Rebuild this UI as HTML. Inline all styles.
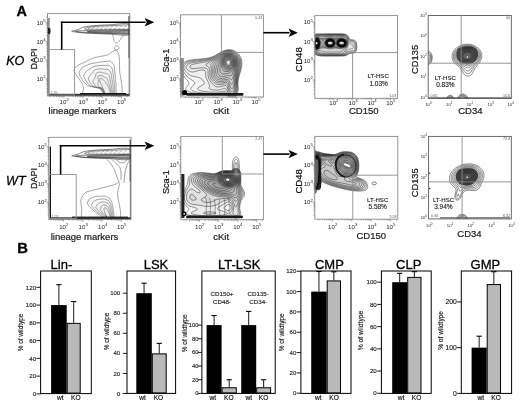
<!DOCTYPE html><html><head><meta charset="utf-8"><style>html,body{margin:0;padding:0;background:#fff;}svg{display:block;font-family:"Liberation Sans", sans-serif;filter:blur(0.3px);}</style></head><body>
<svg width="520" height="405" viewBox="0 0 520 405">
<rect x="0" y="0" width="520" height="405" fill="#fff"/>
<defs>
<clipPath id="c1"><rect x="47.5" y="13.6" width="82.3" height="82.4"/></clipPath>
<clipPath id="c2"><rect x="180.6" y="14.8" width="82.8" height="82.2"/></clipPath>
<clipPath id="c3"><rect x="314.8" y="15.6" width="82.7" height="82.7"/></clipPath>
<clipPath id="c4"><rect x="428.2" y="15.5" width="83.1" height="82.9"/></clipPath>
<clipPath id="c5"><rect x="48.8" y="137.3" width="82.2" height="82.2"/></clipPath>
<clipPath id="c6"><rect x="180.8" y="136.5" width="82.6" height="83.2"/></clipPath>
<clipPath id="c7"><rect x="314.8" y="136.4" width="83" height="82.8"/></clipPath>
<clipPath id="c8"><rect x="428.6" y="136.4" width="82.7" height="82.5"/></clipPath>
</defs>
<g clip-path="url(#c1)">
<rect x="47.5" y="18" width="2.2" height="78" fill="#8a8a8a" stroke="none" stroke-width="1"/>
<rect x="128.4" y="16" width="1.6" height="42" fill="#444" stroke="none" stroke-width="1"/>
<rect x="128.6" y="58" width="1.2" height="38" fill="#888" stroke="none" stroke-width="1"/>
<path d="M71.7 31.3C71.7 30.87 75.95 30.32 78 29.6C80.05 28.88 81.17 27.67 84 27C86.83 26.33 90.67 25.97 95 25.6C99.33 25.23 104.25 25.03 110 24.8C115.75 24.57 126.25 22.58 129.5 24.2C132.75 25.82 132.75 32.85 129.5 34.5C126.25 36.15 115.75 34.27 110 34.1C104.25 33.93 99.33 33.7 95 33.5C90.67 33.3 86.83 33.12 84 32.9C81.17 32.68 80.05 32.47 78 32.2C75.95 31.93 71.7 31.73 71.7 31.3Z" fill="none" stroke="#333" stroke-width="0.6"/>
<path d="M84.5 28.8C84.5 28.33 87.42 27.45 90 27C92.58 26.55 95.83 26.35 100 26.1C104.17 25.85 110.08 25.67 115 25.5C119.92 25.33 127.08 24.42 129.5 25.1C131.92 25.78 131.92 28.85 129.5 29.6C127.08 30.35 119.92 29.58 115 29.6C110.08 29.62 104.17 29.67 100 29.7C95.83 29.73 92.58 29.95 90 29.8C87.42 29.65 84.5 29.27 84.5 28.8Z" fill="none" stroke="#333" stroke-width="0.55"/>
<path d="M88 28.6C88 28.38 92.17 27.68 95 27.4C97.83 27.12 101.17 27.03 105 26.9C108.83 26.77 113.92 26.68 118 26.6C122.08 26.52 127.58 26.07 129.5 26.4C131.42 26.73 131.42 28.25 129.5 28.6C127.58 28.95 122.08 28.5 118 28.5C113.92 28.5 108.83 28.57 105 28.6C101.17 28.63 97.83 28.7 95 28.7C92.17 28.7 88 28.82 88 28.6Z" fill="none" stroke="#555" stroke-width="0.4" stroke-dasharray="3 1.5"/>
<path d="M75.5 31.4C75.5 31.05 80.92 30.78 85 30.6C89.08 30.42 95 30.38 100 30.3C105 30.22 110.08 30.17 115 30.1C119.92 30.03 127.08 29.27 129.5 29.9C131.92 30.53 131.92 33.28 129.5 33.9C127.08 34.52 119.92 33.72 115 33.6C110.08 33.48 105 33.35 100 33.2C95 33.05 89.08 33 85 32.7C80.92 32.4 75.5 31.75 75.5 31.4Z" fill="#000" stroke="#222" stroke-width="0.55" fill-opacity="0.08"/>
<path d="M88 31.6C89.67 31.42 95.5 31.3 100 31.2C104.5 31.1 110.08 31.05 115 31C119.92 30.95 127.08 30.53 129.5 30.9C131.92 31.27 131.92 32.85 129.5 33.2C127.08 33.55 119.92 33.08 115 33C110.08 32.92 104.17 32.82 100 32.7C95.83 32.58 92 32.48 90 32.3C88 32.12 86.33 31.78 88 31.6Z" fill="#000" stroke="#111" stroke-width="0.5" fill-opacity="0.3"/>
<path d="M84.8 98C78.8 96.38 84.15 90.88 83.6 88.3C83.05 85.72 83.05 85.3 81.5 82.5C79.95 79.7 75.13 74.17 74.3 71.5C73.47 68.83 74.95 67.98 76.5 66.5C78.05 65.02 80.48 64.1 83.6 62.6C86.72 61.1 91.33 58.73 95.2 57.5C99.07 56.27 104.08 56.07 106.8 55.2C109.52 54.33 109.97 53.13 111.5 52.3C113.03 51.47 114.75 49.62 116 50.2C117.25 50.78 118.4 52.5 119 55.8C119.6 59.1 119.5 62.97 119.6 70C119.7 77.03 125.4 93.33 119.6 98C113.8 102.67 90.8 99.62 84.8 98Z" fill="none" stroke="#5a5a5a" stroke-width="0.55"/>
<g fill="#000" fill-opacity="0.01" stroke="#5a5a5a" stroke-width="0.55">
<path d="M116.05 88C116.05 88.28 116.06 88.56 116.06 88.84C116.07 89.13 116.07 89.41 116.08 89.7C116.08 89.99 116.09 90.27 116.09 90.57C116.1 90.87 116.1 91.16 116.11 91.47C116.11 91.78 116.12 92.09 116.12 92.41C116.13 92.73 116.13 93.06 116.14 93.41C116.15 93.75 116.15 94.1 116.16 94.46C116.16 94.83 116.17 95.21 116.18 95.61C116.18 96.01 116.44 96.63 116.2 96.86C115.96 97.09 115.21 96.98 114.73 97C114.25 97.02 113.76 97 113.32 97C112.88 97 112.49 97 112.1 97C111.72 97 111.37 97 111.03 97C110.69 97 110.38 97 110.07 97C109.76 97 109.48 97 109.2 97C108.92 97 108.65 97 108.39 97C108.13 97 107.88 97 107.64 97C107.39 97 107.16 97 106.92 97C106.69 97 106.47 97.04 106.24 97C106.01 96.96 105.79 96.99 105.55 96.77C105.31 96.54 105.02 95.98 104.8 95.65C104.59 95.32 104.41 95.05 104.24 94.79C104.07 94.54 103.92 94.32 103.79 94.11C103.65 93.91 103.53 93.73 103.42 93.55C103.3 93.38 103.2 93.23 103.1 93.08C103.01 92.94 102.92 92.8 102.83 92.68C102.75 92.55 102.67 92.43 102.6 92.32C102.52 92.21 102.45 92.1 102.38 92C102.32 91.9 102.25 91.8 102.19 91.71C102.13 91.61 102.07 91.53 102.01 91.44C101.96 91.35 101.9 91.27 101.85 91.19C101.8 91.11 101.74 91.03 101.69 90.95C101.64 90.88 101.59 90.8 101.54 90.73C101.49 90.65 101.45 90.58 101.4 90.51C101.35 90.44 101.31 90.37 101.26 90.3C101.21 90.23 101.17 90.16 101.12 90.09C101.08 90.02 101.03 89.95 100.98 89.88C100.94 89.82 100.89 89.75 100.85 89.68C100.8 89.61 100.75 89.54 100.71 89.47C100.66 89.4 100.61 89.32 100.56 89.25C100.52 89.18 100.47 89.1 100.42 89.03C100.37 88.95 100.31 88.87 100.26 88.79C100.21 88.71 100.21 88.63 100.1 88.55C99.98 88.47 99.9 88.4 99.56 88.31C99.22 88.22 98.82 88.16 98.05 88C97.28 87.84 96.64 87.74 94.97 87.37C93.3 86.99 89.47 86.28 88.02 85.75C86.56 85.23 86.93 84.81 86.26 84.23C85.59 83.65 84.65 82.95 84 82.26C83.34 81.58 82.79 80.85 82.3 80.1C81.82 79.36 81.52 78.64 81.06 77.79C80.61 76.94 79.9 75.91 79.57 75.01C79.24 74.12 78.97 73.15 79.07 72.42C79.16 71.69 79.77 71.24 80.12 70.65C80.47 70.06 80.79 69.43 81.19 68.86C81.59 68.29 81.97 67.68 82.52 67.26C83.07 66.83 83.84 66.63 84.48 66.33C85.13 66.02 85.75 65.73 86.37 65.43C86.99 65.14 87.58 64.83 88.2 64.57C88.81 64.31 89.43 64.05 90.07 63.87C90.71 63.7 91.4 63.62 92.05 63.5C92.7 63.38 93.33 63.26 93.96 63.14C94.58 63.02 95.2 62.91 95.81 62.79C96.42 62.68 97.02 62.56 97.63 62.45C98.23 62.33 98.83 62.2 99.43 62.11C100.04 62.01 100.65 61.95 101.25 61.88C101.86 61.81 102.47 61.76 103.08 61.7C103.69 61.64 104.3 61.59 104.92 61.53C105.54 61.47 106.17 61.41 106.8 61.35C107.44 61.28 108.09 61.17 108.73 61.16C109.38 61.15 110.09 60.99 110.66 61.29C111.23 61.58 111.67 62.41 112.14 62.94C112.62 63.47 113.16 63.78 113.51 64.46C113.86 65.13 114.07 66.13 114.24 67C114.42 67.87 114.47 68.87 114.57 69.69C114.67 70.51 114.76 71.23 114.84 71.92C114.92 72.62 115 73.24 115.06 73.85C115.11 74.46 115.15 75.03 115.2 75.56C115.25 76.1 115.29 76.59 115.33 77.06C115.37 77.53 115.4 77.97 115.44 78.4C115.48 78.83 115.51 79.23 115.54 79.61C115.58 80 115.61 80.37 115.64 80.73C115.67 81.09 115.7 81.43 115.73 81.77C115.75 82.1 115.78 82.42 115.81 82.74C115.84 83.06 115.86 83.37 115.89 83.67C115.91 83.98 115.94 84.27 115.96 84.57C115.98 84.87 116 85.16 116.01 85.45C116.02 85.74 116.02 86.03 116.02 86.31C116.03 86.6 116.03 86.88 116.04 87.16C116.04 87.44 116.05 87.72 116.05 88Z"/>
<path d="M114.6 88C114.61 88.25 114.62 88.49 114.63 88.74C114.64 88.99 114.65 89.24 114.66 89.5C114.68 89.75 114.69 90.01 114.7 90.27C114.71 90.54 114.72 90.8 114.74 91.08C114.75 91.35 114.76 91.63 114.78 91.92C114.79 92.21 114.8 92.51 114.82 92.82C114.84 93.13 114.85 93.44 114.87 93.78C114.89 94.11 114.9 94.46 114.92 94.83C114.94 95.19 115.16 95.74 114.99 95.98C114.81 96.22 114.23 96.19 113.86 96.28C113.5 96.36 113.13 96.42 112.81 96.51C112.48 96.59 112.22 96.72 111.92 96.8C111.63 96.88 111.34 96.97 111.03 97C110.72 97.03 110.38 97 110.07 97C109.76 97 109.48 97 109.2 97C108.92 97 108.65 97 108.39 97C108.13 97 107.88 97 107.64 97C107.39 97 107.17 97.05 106.92 97C106.68 96.95 106.42 96.84 106.16 96.68C105.91 96.52 105.66 96.33 105.42 96.03C105.18 95.73 104.93 95.22 104.72 94.9C104.52 94.57 104.36 94.31 104.21 94.07C104.06 93.82 103.93 93.62 103.81 93.42C103.69 93.23 103.58 93.06 103.48 92.9C103.38 92.74 103.3 92.6 103.21 92.47C103.13 92.34 103.05 92.22 102.98 92.1C102.9 91.98 102.84 91.88 102.77 91.78C102.71 91.67 102.65 91.58 102.59 91.49C102.53 91.4 102.48 91.31 102.42 91.23C102.37 91.15 102.32 91.07 102.27 90.99C102.22 90.91 102.18 90.84 102.13 90.77C102.09 90.7 102.04 90.63 102 90.56C101.96 90.49 101.91 90.43 101.87 90.36C101.83 90.3 101.79 90.24 101.75 90.17C101.71 90.11 101.67 90.05 101.63 89.99C101.59 89.93 101.55 89.87 101.51 89.81C101.48 89.75 101.44 89.69 101.4 89.63C101.36 89.57 101.32 89.51 101.28 89.44C101.24 89.38 101.21 89.32 101.17 89.26C101.13 89.2 101.09 89.14 101.05 89.08C101 89.01 100.96 88.95 100.92 88.88C100.88 88.82 100.84 88.75 100.79 88.68C100.75 88.61 100.75 88.54 100.66 88.47C100.56 88.4 100.5 88.34 100.22 88.26C99.95 88.19 99.62 88.13 99 88C98.39 87.87 97.88 87.78 96.53 87.48C95.19 87.17 92.13 86.59 90.96 86.17C89.8 85.74 90.09 85.4 89.55 84.93C89.01 84.46 88.26 83.89 87.73 83.33C87.2 82.78 86.76 82.19 86.37 81.58C85.97 80.98 85.73 80.39 85.36 79.7C84.99 79.01 84.43 78.18 84.16 77.45C83.88 76.72 83.67 75.93 83.74 75.34C83.8 74.74 84.28 74.37 84.56 73.88C84.84 73.38 85.08 72.86 85.39 72.39C85.7 71.91 86 71.4 86.42 71.03C86.85 70.66 87.45 70.46 87.95 70.17C88.44 69.88 88.92 69.6 89.37 69.28C89.83 68.96 90.26 68.62 90.69 68.26C91.12 67.91 91.48 67.42 91.97 67.16C92.45 66.89 93.06 66.83 93.6 66.67C94.14 66.51 94.66 66.34 95.2 66.21C95.74 66.09 96.29 66.03 96.83 65.93C97.37 65.84 97.9 65.74 98.43 65.66C98.96 65.58 99.49 65.5 100.03 65.46C100.56 65.43 101.1 65.44 101.63 65.43C102.16 65.42 102.68 65.42 103.21 65.41C103.74 65.4 104.26 65.39 104.79 65.37C105.32 65.36 105.85 65.34 106.38 65.32C106.92 65.3 107.47 65.24 108.01 65.26C108.55 65.29 109.14 65.2 109.62 65.47C110.09 65.74 110.46 66.43 110.86 66.88C111.26 67.33 111.71 67.61 112.01 68.18C112.3 68.75 112.48 69.56 112.64 70.28C112.8 71.01 112.85 71.83 112.95 72.5C113.04 73.18 113.13 73.78 113.2 74.35C113.28 74.93 113.35 75.45 113.41 75.96C113.47 76.46 113.51 76.93 113.56 77.38C113.61 77.83 113.65 78.24 113.7 78.63C113.74 79.03 113.78 79.4 113.82 79.76C113.86 80.12 113.9 80.45 113.94 80.78C113.97 81.11 114.01 81.42 114.05 81.72C114.08 82.03 114.11 82.32 114.15 82.6C114.18 82.89 114.21 83.17 114.25 83.44C114.28 83.71 114.31 83.97 114.34 84.24C114.38 84.5 114.41 84.75 114.44 85.01C114.47 85.26 114.49 85.51 114.51 85.77C114.52 86.02 114.53 86.27 114.54 86.52C114.55 86.77 114.56 87.01 114.57 87.26C114.58 87.51 114.59 87.75 114.6 88Z"/>
<path d="M113.15 88C113.17 88.21 113.18 88.43 113.2 88.64C113.22 88.86 113.23 89.08 113.25 89.3C113.27 89.52 113.29 89.75 113.31 89.98C113.33 90.21 113.34 90.44 113.37 90.69C113.39 90.93 113.41 91.17 113.43 91.43C113.45 91.69 113.48 91.95 113.5 92.23C113.52 92.51 113.55 92.79 113.58 93.09C113.61 93.4 113.64 93.71 113.67 94.04C113.7 94.38 113.89 94.85 113.77 95.1C113.66 95.35 113.25 95.4 113 95.55C112.75 95.7 112.5 95.84 112.29 96.01C112.08 96.18 111.95 96.43 111.74 96.6C111.53 96.76 111.31 96.93 111.03 97C110.75 97.07 110.38 97 110.07 97C109.76 97 109.48 97 109.2 97C108.92 97 108.65 97 108.39 97C108.13 97 107.88 97 107.64 97C107.39 97 107.18 97.11 106.92 97C106.67 96.89 106.36 96.64 106.08 96.36C105.81 96.07 105.53 95.66 105.29 95.29C105.05 94.92 104.83 94.47 104.65 94.14C104.46 93.82 104.32 93.57 104.19 93.34C104.05 93.1 103.94 92.91 103.83 92.73C103.73 92.55 103.64 92.4 103.55 92.25C103.47 92.11 103.39 91.98 103.32 91.86C103.25 91.74 103.18 91.63 103.12 91.52C103.06 91.42 103 91.33 102.95 91.23C102.89 91.14 102.84 91.06 102.8 90.98C102.75 90.9 102.7 90.82 102.66 90.75C102.61 90.68 102.57 90.61 102.53 90.54C102.49 90.48 102.45 90.41 102.41 90.35C102.38 90.29 102.34 90.23 102.31 90.17C102.27 90.11 102.23 90.05 102.2 90C102.17 89.94 102.13 89.89 102.1 89.83C102.07 89.78 102.04 89.73 102 89.68C101.97 89.62 101.94 89.57 101.91 89.52C101.88 89.47 101.85 89.42 101.81 89.37C101.78 89.31 101.75 89.26 101.72 89.21C101.69 89.16 101.66 89.11 101.62 89.06C101.59 89.01 101.56 88.95 101.53 88.9C101.49 88.85 101.46 88.79 101.43 88.74C101.39 88.68 101.36 88.63 101.32 88.57C101.29 88.51 101.29 88.45 101.21 88.39C101.14 88.33 101.09 88.28 100.88 88.22C100.67 88.15 100.42 88.11 99.96 88C99.49 87.89 99.11 87.82 98.1 87.59C97.09 87.35 94.78 86.91 93.91 86.58C93.03 86.26 93.25 85.99 92.84 85.63C92.43 85.26 91.86 84.83 91.46 84.4C91.06 83.98 90.73 83.52 90.43 83.06C90.13 82.59 89.94 82.14 89.66 81.61C89.38 81.09 88.95 80.45 88.74 79.89C88.53 79.33 88.36 78.72 88.4 78.25C88.45 77.79 88.8 77.49 89 77.1C89.2 76.71 89.37 76.3 89.59 75.91C89.82 75.53 90.03 75.11 90.33 74.8C90.63 74.48 91.07 74.3 91.41 74.02C91.75 73.74 92.08 73.47 92.38 73.12C92.67 72.78 92.93 72.41 93.18 71.96C93.43 71.51 93.54 70.79 93.86 70.44C94.19 70.09 94.72 70.04 95.14 69.84C95.57 69.65 95.99 69.41 96.44 69.28C96.89 69.16 97.39 69.14 97.85 69.07C98.32 69.01 98.77 68.91 99.23 68.87C99.69 68.83 100.16 68.8 100.62 68.82C101.08 68.84 101.55 68.93 102 68.98C102.45 69.02 102.9 69.07 103.34 69.11C103.78 69.15 104.22 69.19 104.66 69.22C105.09 69.25 105.53 69.27 105.97 69.29C106.4 69.32 106.85 69.31 107.29 69.37C107.72 69.43 108.19 69.41 108.57 69.65C108.96 69.9 109.26 70.45 109.58 70.82C109.9 71.2 110.26 71.44 110.5 71.9C110.75 72.36 110.9 73 111.04 73.57C111.17 74.14 111.23 74.78 111.32 75.32C111.41 75.86 111.49 76.33 111.56 76.79C111.64 77.24 111.71 77.66 111.77 78.06C111.83 78.46 111.87 78.84 111.92 79.2C111.97 79.56 112.02 79.89 112.07 80.21C112.12 80.53 112.16 80.83 112.2 81.12C112.25 81.41 112.29 81.68 112.33 81.95C112.37 82.21 112.41 82.47 112.45 82.72C112.49 82.97 112.53 83.21 112.57 83.44C112.61 83.68 112.65 83.91 112.69 84.13C112.72 84.36 112.76 84.58 112.8 84.8C112.84 85.02 112.88 85.23 112.92 85.44C112.95 85.66 112.99 85.87 113.01 86.08C113.03 86.3 113.04 86.51 113.06 86.73C113.07 86.94 113.09 87.15 113.1 87.36C113.12 87.58 113.13 87.79 113.15 88Z"/>
<path d="M111.7 88C111.72 88.18 111.74 88.36 111.77 88.54C111.79 88.73 111.81 88.91 111.84 89.1C111.86 89.29 111.89 89.48 111.91 89.68C111.94 89.88 111.97 90.08 111.99 90.29C112.02 90.5 112.05 90.72 112.08 90.94C112.11 91.17 112.15 91.4 112.18 91.64C112.21 91.89 112.25 92.14 112.29 92.41C112.33 92.68 112.37 92.96 112.42 93.26C112.46 93.56 112.61 93.96 112.56 94.22C112.52 94.48 112.27 94.61 112.14 94.83C112.01 95.05 111.88 95.25 111.78 95.52C111.69 95.78 111.69 96.15 111.56 96.4C111.44 96.64 111.28 96.9 111.03 97C110.78 97.1 110.38 97 110.07 97C109.76 97 109.48 97 109.2 97C108.92 97 108.65 97 108.39 97C108.13 97 107.88 97 107.64 97C107.39 97 107.2 97.16 106.92 97C106.65 96.84 106.3 96.45 106 96.04C105.71 95.63 105.4 94.99 105.16 94.55C104.92 94.11 104.73 93.72 104.57 93.39C104.4 93.07 104.28 92.84 104.16 92.61C104.04 92.39 103.95 92.21 103.86 92.04C103.77 91.87 103.69 91.73 103.62 91.6C103.55 91.47 103.49 91.35 103.43 91.24C103.37 91.14 103.32 91.04 103.27 90.95C103.21 90.86 103.17 90.77 103.12 90.69C103.08 90.61 103.04 90.54 103 90.47C102.96 90.4 102.93 90.34 102.89 90.27C102.86 90.21 102.82 90.15 102.79 90.09C102.76 90.04 102.73 89.98 102.7 89.93C102.67 89.88 102.64 89.83 102.61 89.78C102.58 89.73 102.56 89.68 102.53 89.63C102.5 89.59 102.48 89.54 102.45 89.5C102.43 89.45 102.4 89.41 102.38 89.36C102.35 89.32 102.33 89.28 102.3 89.23C102.28 89.19 102.25 89.15 102.23 89.11C102.2 89.06 102.18 89.02 102.16 88.98C102.13 88.94 102.11 88.9 102.08 88.85C102.06 88.81 102.03 88.77 102.01 88.72C101.98 88.68 101.96 88.64 101.93 88.59C101.91 88.55 101.88 88.5 101.85 88.46C101.83 88.41 101.82 88.36 101.77 88.31C101.72 88.27 101.68 88.22 101.54 88.17C101.39 88.12 101.22 88.08 100.91 88C100.6 87.92 100.34 87.86 99.66 87.7C98.98 87.53 97.44 87.22 96.85 87C96.27 86.77 96.4 86.58 96.13 86.33C95.85 86.07 95.47 85.77 95.19 85.48C94.92 85.18 94.69 84.86 94.49 84.54C94.28 84.21 94.15 83.9 93.96 83.53C93.76 83.16 93.47 82.72 93.32 82.32C93.18 81.93 93.05 81.51 93.07 81.17C93.09 80.84 93.32 80.62 93.44 80.33C93.56 80.04 93.66 79.73 93.8 79.44C93.93 79.14 94.06 78.83 94.24 78.57C94.41 78.31 94.68 78.13 94.87 77.86C95.06 77.6 95.25 77.34 95.38 76.97C95.52 76.6 95.61 76.19 95.67 75.65C95.73 75.11 95.59 74.17 95.76 73.73C95.93 73.29 96.37 73.24 96.69 73.02C97.01 72.79 97.32 72.49 97.68 72.36C98.04 72.22 98.48 72.26 98.87 72.22C99.26 72.17 99.64 72.09 100.03 72.08C100.42 72.07 100.82 72.11 101.21 72.18C101.6 72.25 102 72.42 102.37 72.52C102.75 72.63 103.11 72.73 103.47 72.82C103.83 72.91 104.18 72.99 104.52 73.06C104.87 73.14 105.21 73.2 105.55 73.27C105.89 73.33 106.23 73.38 106.56 73.47C106.89 73.57 107.24 73.62 107.53 73.84C107.82 74.05 108.05 74.47 108.3 74.77C108.54 75.07 108.81 75.27 109 75.62C109.19 75.97 109.32 76.44 109.43 76.86C109.55 77.28 109.61 77.74 109.69 78.14C109.78 78.53 109.85 78.88 109.92 79.22C109.99 79.56 110.06 79.87 110.12 80.17C110.18 80.47 110.23 80.75 110.29 81.02C110.34 81.29 110.39 81.54 110.44 81.78C110.49 82.02 110.54 82.25 110.59 82.47C110.63 82.7 110.68 82.91 110.72 83.11C110.77 83.32 110.82 83.52 110.86 83.71C110.9 83.91 110.95 84.1 110.99 84.28C111.04 84.47 111.08 84.65 111.12 84.83C111.17 85.01 111.21 85.18 111.26 85.36C111.3 85.53 111.35 85.71 111.39 85.88C111.43 86.05 111.48 86.23 111.51 86.4C111.54 86.58 111.55 86.76 111.57 86.94C111.59 87.11 111.61 87.29 111.64 87.47C111.66 87.64 111.68 87.82 111.7 88Z"/>
<path d="M110.25 88C110.28 88.15 110.31 88.29 110.34 88.44C110.36 88.59 110.39 88.75 110.42 88.9C110.46 89.06 110.49 89.22 110.52 89.39C110.55 89.55 110.59 89.72 110.62 89.9C110.66 90.08 110.7 90.26 110.74 90.45C110.77 90.64 110.82 90.84 110.86 91.05C110.9 91.27 110.95 91.49 111 91.72C111.05 91.96 111.1 92.21 111.16 92.47C111.22 92.74 111.33 93.07 111.35 93.34C111.37 93.61 111.29 93.83 111.28 94.11C111.26 94.39 111.25 94.67 111.27 95.02C111.29 95.37 111.42 95.87 111.38 96.2C111.34 96.53 111.25 96.87 111.03 97C110.81 97.13 110.38 97 110.07 97C109.76 97 109.48 97 109.2 97C108.92 97 108.65 97 108.39 97C108.13 97 107.88 97 107.64 97C107.39 97 107.21 97.21 106.92 97C106.64 96.79 106.24 96.25 105.92 95.72C105.61 95.19 105.26 94.33 105.03 93.82C104.79 93.3 104.64 92.96 104.49 92.64C104.34 92.32 104.24 92.1 104.14 91.89C104.03 91.67 103.96 91.51 103.88 91.35C103.81 91.2 103.75 91.07 103.69 90.95C103.63 90.83 103.58 90.73 103.54 90.63C103.49 90.54 103.45 90.45 103.41 90.37C103.37 90.29 103.33 90.22 103.3 90.15C103.27 90.08 103.24 90.02 103.21 89.96C103.18 89.9 103.15 89.85 103.12 89.8C103.1 89.74 103.07 89.69 103.05 89.65C103.03 89.6 103 89.55 102.98 89.51C102.96 89.47 102.94 89.43 102.92 89.38C102.9 89.34 102.88 89.31 102.86 89.27C102.84 89.23 102.82 89.19 102.8 89.16C102.78 89.12 102.77 89.09 102.75 89.05C102.73 89.02 102.71 88.98 102.7 88.95C102.68 88.91 102.66 88.88 102.64 88.85C102.63 88.81 102.61 88.78 102.59 88.75C102.58 88.72 102.56 88.68 102.54 88.65C102.52 88.62 102.51 88.58 102.49 88.55C102.47 88.52 102.45 88.48 102.44 88.45C102.42 88.41 102.4 88.38 102.38 88.34C102.36 88.31 102.36 88.27 102.33 88.24C102.29 88.2 102.27 88.17 102.19 88.13C102.12 88.09 102.03 88.05 101.86 88C101.7 87.95 101.57 87.9 101.22 87.81C100.88 87.71 100.1 87.54 99.8 87.41C99.5 87.28 99.56 87.17 99.42 87.03C99.27 86.88 99.07 86.71 98.93 86.55C98.78 86.38 98.66 86.2 98.55 86.02C98.44 85.83 98.36 85.65 98.26 85.44C98.15 85.23 97.99 84.99 97.91 84.76C97.82 84.53 97.75 84.29 97.74 84.09C97.74 83.89 97.84 83.74 97.88 83.55C97.92 83.36 97.95 83.17 98 82.96C98.04 82.76 98.08 82.55 98.14 82.34C98.2 82.13 98.29 81.96 98.33 81.71C98.38 81.45 98.42 81.21 98.39 80.82C98.36 80.42 98.28 79.98 98.16 79.35C98.04 78.71 97.64 77.54 97.66 77.01C97.67 76.48 98.03 76.45 98.24 76.19C98.45 75.92 98.64 75.57 98.92 75.43C99.2 75.29 99.57 75.38 99.89 75.36C100.21 75.34 100.51 75.26 100.83 75.29C101.15 75.32 101.48 75.41 101.8 75.54C102.12 75.67 102.45 75.91 102.75 76.07C103.05 76.24 103.33 76.38 103.6 76.52C103.87 76.66 104.13 76.79 104.39 76.91C104.64 77.03 104.89 77.13 105.13 77.24C105.37 77.35 105.61 77.45 105.84 77.58C106.06 77.71 106.29 77.83 106.49 78.02C106.69 78.21 106.85 78.49 107.02 78.71C107.19 78.93 107.36 79.1 107.5 79.34C107.63 79.58 107.74 79.88 107.83 80.14C107.93 80.41 107.99 80.7 108.07 80.95C108.14 81.2 108.22 81.43 108.28 81.65C108.35 81.87 108.41 82.07 108.48 82.27C108.54 82.47 108.59 82.66 108.65 82.84C108.7 83.02 108.76 83.19 108.81 83.35C108.86 83.52 108.92 83.68 108.97 83.83C109.02 83.99 109.07 84.14 109.12 84.28C109.17 84.43 109.22 84.57 109.27 84.71C109.32 84.85 109.37 84.98 109.42 85.12C109.46 85.26 109.51 85.39 109.56 85.52C109.61 85.66 109.66 85.79 109.71 85.92C109.76 86.05 109.82 86.18 109.87 86.32C109.92 86.45 109.97 86.58 110.01 86.72C110.05 86.86 110.06 87 110.09 87.14C110.12 87.29 110.14 87.43 110.17 87.57C110.2 87.71 110.22 87.85 110.25 88Z"/>
<path d="M108.8 88C108.83 88.11 108.87 88.23 108.9 88.34C108.94 88.46 108.97 88.58 109.01 88.7C109.05 88.83 109.09 88.96 109.13 89.09C109.17 89.22 109.21 89.36 109.25 89.51C109.3 89.65 109.34 89.8 109.39 89.96C109.44 90.12 109.49 90.29 109.54 90.47C109.59 90.65 109.65 90.83 109.71 91.04C109.77 91.24 109.84 91.45 109.91 91.69C109.98 91.93 110.05 92.18 110.14 92.46C110.22 92.74 110.31 93.04 110.41 93.38C110.52 93.73 110.63 94.09 110.76 94.53C110.89 94.96 111.15 95.58 111.2 95.99C111.24 96.41 111.22 96.83 111.03 97C110.84 97.17 110.38 97 110.07 97C109.76 97 109.48 97 109.2 97C108.92 97 108.65 97 108.39 97C108.13 97 107.88 97 107.64 97C107.39 97 107.22 97.27 106.92 97C106.63 96.73 106.18 96.05 105.84 95.4C105.51 94.74 105.13 93.66 104.9 93.08C104.66 92.49 104.54 92.21 104.41 91.89C104.28 91.57 104.19 91.36 104.11 91.16C104.03 90.95 103.97 90.81 103.91 90.66C103.85 90.52 103.8 90.41 103.76 90.3C103.71 90.19 103.68 90.1 103.64 90.02C103.61 89.93 103.58 89.86 103.55 89.79C103.52 89.73 103.5 89.67 103.48 89.61C103.45 89.55 103.43 89.5 103.41 89.45C103.39 89.4 103.37 89.36 103.36 89.32C103.34 89.28 103.32 89.24 103.31 89.2C103.29 89.16 103.28 89.12 103.26 89.09C103.25 89.06 103.24 89.02 103.22 88.99C103.21 88.96 103.2 88.93 103.19 88.9C103.18 88.87 103.16 88.85 103.15 88.82C103.14 88.79 103.13 88.76 103.12 88.74C103.11 88.71 103.1 88.69 103.09 88.66C103.08 88.64 103.07 88.61 103.06 88.59C103.05 88.56 103.04 88.54 103.03 88.52C103.02 88.49 103.01 88.47 103 88.45C102.99 88.42 102.98 88.4 102.97 88.37C102.96 88.35 102.95 88.33 102.94 88.3C102.93 88.28 102.92 88.26 102.91 88.23C102.9 88.21 102.89 88.18 102.88 88.16C102.87 88.13 102.86 88.11 102.85 88.08C102.84 88.05 102.83 88.03 102.82 88C102.81 87.97 102.8 87.94 102.78 87.91C102.77 87.89 102.76 87.86 102.75 87.82C102.73 87.79 102.72 87.76 102.71 87.72C102.69 87.69 102.68 87.65 102.66 87.62C102.65 87.58 102.63 87.54 102.61 87.49C102.59 87.45 102.58 87.41 102.55 87.36C102.53 87.31 102.51 87.26 102.49 87.2C102.47 87.14 102.44 87.08 102.41 87.01C102.38 86.94 102.35 86.86 102.32 86.78C102.28 86.69 102.25 86.6 102.2 86.49C102.16 86.38 102.11 86.27 102.05 86.11C101.98 85.96 101.91 85.8 101.8 85.55C101.69 85.31 101.58 85.08 101.39 84.66C101.2 84.24 100.96 83.77 100.65 83.04C100.35 82.31 99.7 80.91 99.55 80.29C99.41 79.68 99.68 79.66 99.79 79.36C99.89 79.06 99.97 78.64 100.16 78.5C100.35 78.36 100.67 78.5 100.91 78.5C101.16 78.5 101.38 78.43 101.63 78.5C101.88 78.57 102.15 78.71 102.39 78.89C102.64 79.08 102.9 79.4 103.12 79.62C103.34 79.84 103.54 80.04 103.73 80.23C103.92 80.42 104.09 80.59 104.25 80.75C104.42 80.92 104.57 81.06 104.71 81.21C104.86 81.37 104.99 81.52 105.11 81.68C105.24 81.84 105.34 82.04 105.45 82.2C105.55 82.36 105.64 82.51 105.74 82.66C105.83 82.8 105.91 82.93 105.99 83.06C106.08 83.19 106.15 83.31 106.23 83.43C106.3 83.55 106.37 83.66 106.44 83.77C106.51 83.88 106.58 83.98 106.64 84.08C106.71 84.18 106.77 84.28 106.83 84.38C106.89 84.47 106.95 84.57 107.01 84.66C107.07 84.75 107.12 84.84 107.18 84.93C107.24 85.02 107.29 85.1 107.35 85.19C107.4 85.28 107.46 85.36 107.51 85.45C107.57 85.53 107.62 85.62 107.68 85.7C107.73 85.79 107.78 85.87 107.84 85.96C107.89 86.05 107.95 86.13 108 86.22C108.06 86.31 108.11 86.39 108.17 86.48C108.23 86.57 108.29 86.66 108.34 86.75C108.4 86.85 108.47 86.94 108.51 87.04C108.56 87.14 108.57 87.25 108.61 87.35C108.64 87.46 108.67 87.56 108.7 87.67C108.73 87.78 108.77 87.89 108.8 88Z"/>
</g>
<ellipse cx="49" cy="31" rx="1.6" ry="3.2" fill="#222"/>
<path d="M112.5 34C112.67 34.67 113.17 36.75 113.5 38C113.83 39.25 113.83 40.7 114.5 41.5C115.17 42.3 116.45 43.22 117.5 42.8C118.55 42.38 119.88 40.13 120.8 39C121.72 37.87 122.38 36.83 123 36C123.62 35.17 124.25 34.33 124.5 34" fill="none" stroke="#555" stroke-width="0.5"/>
<path d="M118.9 47.8C118.9 48.21 118.73 48.7 118.46 49.03C118.2 49.37 117.74 49.67 117.31 49.8C116.88 49.92 116.32 49.92 115.89 49.8C115.46 49.67 115 49.37 114.74 49.03C114.47 48.7 114.3 48.21 114.3 47.8C114.3 47.39 114.47 46.9 114.74 46.57C115 46.23 115.46 45.93 115.89 45.8C116.32 45.68 116.88 45.68 117.31 45.8C117.74 45.93 118.2 46.23 118.46 46.57C118.73 46.9 118.9 47.39 118.9 47.8Z" fill="none" stroke="#555" stroke-width="0.5"/>
<rect x="80" y="93" width="46" height="2.8" fill="#111" stroke="none" stroke-width="1"/>
<rect x="49.5" y="93.8" width="80.3" height="2.2" fill="#333" stroke="none" stroke-width="1"/>
</g>
<g clip-path="url(#c5)">
<rect x="49.7" y="146.6" width="1.3" height="72.9" fill="#111" stroke="none" stroke-width="1"/>
<rect x="129.6" y="139.6" width="1.6" height="42" fill="#444" stroke="none" stroke-width="1"/>
<rect x="129.8" y="181.6" width="1.2" height="37.9" fill="#888" stroke="none" stroke-width="1"/>
<path d="M71.7 155.9C71.7 155.47 75.95 154.92 78 154.2C80.05 153.48 81.17 152.27 84 151.6C86.83 150.93 90.67 150.57 95 150.2C99.33 149.83 104.25 149.63 110 149.4C115.75 149.17 126.25 147.18 129.5 148.8C132.75 150.42 132.75 157.45 129.5 159.1C126.25 160.75 115.75 158.87 110 158.7C104.25 158.53 99.33 158.3 95 158.1C90.67 157.9 86.83 157.72 84 157.5C81.17 157.28 80.05 157.07 78 156.8C75.95 156.53 71.7 156.33 71.7 155.9Z" fill="none" stroke="#333" stroke-width="0.6"/>
<path d="M84.5 153.4C84.5 152.93 87.42 152.05 90 151.6C92.58 151.15 95.83 150.95 100 150.7C104.17 150.45 110.08 150.27 115 150.1C119.92 149.93 127.08 149.02 129.5 149.7C131.92 150.38 131.92 153.45 129.5 154.2C127.08 154.95 119.92 154.18 115 154.2C110.08 154.22 104.17 154.27 100 154.3C95.83 154.33 92.58 154.55 90 154.4C87.42 154.25 84.5 153.87 84.5 153.4Z" fill="none" stroke="#333" stroke-width="0.55"/>
<path d="M88 153.2C88 152.98 92.17 152.28 95 152C97.83 151.72 101.17 151.63 105 151.5C108.83 151.37 113.92 151.28 118 151.2C122.08 151.12 127.58 150.67 129.5 151C131.42 151.33 131.42 152.85 129.5 153.2C127.58 153.55 122.08 153.1 118 153.1C113.92 153.1 108.83 153.17 105 153.2C101.17 153.23 97.83 153.3 95 153.3C92.17 153.3 88 153.42 88 153.2Z" fill="none" stroke="#555" stroke-width="0.4" stroke-dasharray="3 1.5"/>
<path d="M75.5 156C75.5 155.65 80.92 155.38 85 155.2C89.08 155.02 95 154.98 100 154.9C105 154.82 110.08 154.77 115 154.7C119.92 154.63 127.08 153.87 129.5 154.5C131.92 155.13 131.92 157.88 129.5 158.5C127.08 159.12 119.92 158.32 115 158.2C110.08 158.08 105 157.95 100 157.8C95 157.65 89.08 157.6 85 157.3C80.92 157 75.5 156.35 75.5 156Z" fill="#000" stroke="#222" stroke-width="0.55" fill-opacity="0.08"/>
<path d="M88 156.2C89.67 156.02 95.5 155.9 100 155.8C104.5 155.7 110.08 155.65 115 155.6C119.92 155.55 127.08 155.13 129.5 155.5C131.92 155.87 131.92 157.45 129.5 157.8C127.08 158.15 119.92 157.68 115 157.6C110.08 157.52 104.17 157.42 100 157.3C95.83 157.18 92 157.08 90 156.9C88 156.72 86.33 156.38 88 156.2Z" fill="#000" stroke="#111" stroke-width="0.5" fill-opacity="0.3"/>
<path d="M85.3 221C79.13 218.67 82.32 210.57 81.6 207C80.88 203.43 80.38 201.97 81 199.6C81.62 197.23 83.05 194.43 85.3 192.8C87.55 191.17 90.9 190.82 94.5 189.8C98.1 188.78 103.4 187.63 106.9 186.7C110.4 185.77 113.55 184.93 115.5 184.2C117.45 183.47 117.95 182.25 118.6 182.3C119.25 182.35 119.57 182.43 119.4 184.5C119.23 186.57 117.73 188.62 117.6 194.7C117.47 200.78 123.98 216.62 118.6 221C113.22 225.38 91.47 223.33 85.3 221Z" fill="none" stroke="#5a5a5a" stroke-width="0.55"/>
<g fill="#000" fill-opacity="0.01" stroke="#5a5a5a" stroke-width="0.55">
<path d="M113.66 212C113.67 212.18 113.69 212.36 113.7 212.54C113.72 212.72 113.73 212.9 113.75 213.09C113.76 213.28 113.78 213.46 113.79 213.66C113.81 213.85 113.82 214.05 113.84 214.25C113.86 214.45 113.87 214.66 113.89 214.87C113.91 215.09 113.92 215.31 113.94 215.54C113.96 215.77 113.98 216 114 216.25C114.02 216.5 114.04 216.76 114.06 217.04C114.09 217.31 114.11 217.6 114.13 217.91C114.16 218.22 114.19 218.54 114.21 218.89C114.24 219.24 114.45 219.82 114.28 220C114.12 220.18 113.54 220 113.2 220C112.86 220 112.55 220 112.25 220C111.95 220 111.67 220 111.4 220C111.12 220 110.87 220 110.62 220C110.37 220 110.13 220 109.9 220C109.67 220 109.45 220 109.23 220C109.02 220 108.81 220 108.6 220C108.39 220 108.19 220 107.99 220C107.8 220 107.6 220.01 107.41 220C107.22 219.99 107.03 220.03 106.84 219.96C106.65 219.89 106.45 219.69 106.26 219.57C106.08 219.45 105.91 219.34 105.75 219.23C105.58 219.11 105.43 219.01 105.27 218.91C105.12 218.8 104.98 218.71 104.83 218.61C104.69 218.52 104.56 218.42 104.42 218.33C104.29 218.24 104.16 218.16 104.03 218.07C103.9 217.98 103.77 217.9 103.65 217.82C103.53 217.73 103.4 217.65 103.28 217.57C103.16 217.49 103.04 217.41 102.92 217.33C102.81 217.25 102.69 217.17 102.57 217.09C102.45 217.01 102.33 216.93 102.21 216.85C102.09 216.77 101.97 216.69 101.85 216.61C101.73 216.53 101.61 216.44 101.49 216.36C101.36 216.28 101.24 216.19 101.11 216.11C100.98 216.02 100.85 215.93 100.71 215.84C100.58 215.75 100.44 215.66 100.3 215.56C100.16 215.47 100.01 215.37 99.86 215.27C99.71 215.16 99.55 215.06 99.38 214.95C99.22 214.83 99.05 214.72 98.86 214.6C98.68 214.47 98.49 214.35 98.29 214.21C98.09 214.07 97.87 213.93 97.64 213.78C97.41 213.62 97.17 213.46 96.9 213.28C96.63 213.1 96.35 212.91 96.04 212.7C95.72 212.48 95.32 212.25 95 212C94.68 211.75 94.43 211.47 94.1 211.17C93.77 210.86 93.43 210.54 93.03 210.18C92.64 209.81 92.22 209.42 91.72 208.97C91.23 208.51 90.56 207.97 90.07 207.43C89.57 206.89 89.18 206.34 88.73 205.71C88.28 205.09 87.57 204.29 87.38 203.71C87.18 203.12 87.45 202.68 87.58 202.21C87.72 201.73 87.98 201.32 88.18 200.86C88.38 200.41 88.48 199.88 88.78 199.49C89.08 199.11 89.54 198.82 89.98 198.56C90.41 198.29 90.94 198.12 91.41 197.91C91.87 197.7 92.32 197.49 92.76 197.29C93.2 197.09 93.59 196.85 94.05 196.7C94.51 196.56 95.02 196.5 95.5 196.44C95.99 196.38 96.49 196.38 96.96 196.35C97.44 196.32 97.89 196.29 98.33 196.27C98.77 196.24 99.19 196.22 99.61 196.19C100.03 196.16 100.44 196.14 100.84 196.12C101.24 196.09 101.63 196.07 102.02 196.04C102.41 196.02 102.79 196 103.17 195.97C103.56 195.95 103.93 195.85 104.31 195.91C104.69 195.97 105.08 196.19 105.45 196.33C105.82 196.48 106.18 196.63 106.53 196.78C106.88 196.92 107.22 197.06 107.56 197.2C107.89 197.34 108.22 197.47 108.54 197.6C108.86 197.74 109.22 197.74 109.49 198C109.76 198.26 109.96 198.8 110.17 199.17C110.38 199.53 110.58 199.87 110.77 200.2C110.95 200.53 111.13 200.84 111.3 201.13C111.47 201.43 111.67 201.65 111.79 201.98C111.91 202.3 111.95 202.72 112.03 203.07C112.1 203.41 112.17 203.72 112.23 204.03C112.29 204.33 112.35 204.61 112.41 204.88C112.47 205.15 112.52 205.4 112.58 205.65C112.63 205.9 112.68 206.13 112.73 206.36C112.77 206.58 112.82 206.8 112.87 207.01C112.91 207.22 112.95 207.43 113 207.63C113.04 207.83 113.08 208.02 113.12 208.21C113.16 208.41 113.2 208.59 113.24 208.78C113.28 208.96 113.32 209.14 113.36 209.32C113.39 209.5 113.44 209.68 113.47 209.86C113.5 210.04 113.51 210.22 113.53 210.4C113.55 210.58 113.56 210.76 113.57 210.94C113.59 211.11 113.6 211.29 113.62 211.47C113.63 211.64 113.65 211.82 113.66 212Z"/>
<path d="M112.41 212C112.43 212.15 112.45 212.3 112.46 212.45C112.48 212.6 112.5 212.76 112.51 212.92C112.53 213.07 112.55 213.23 112.57 213.4C112.59 213.56 112.6 213.73 112.62 213.9C112.64 214.07 112.66 214.25 112.69 214.43C112.71 214.62 112.73 214.81 112.75 215.01C112.77 215.2 112.8 215.41 112.82 215.63C112.85 215.85 112.88 216.07 112.91 216.32C112.93 216.56 112.97 216.81 113 217.09C113.03 217.36 113.07 217.65 113.11 217.97C113.15 218.28 113.33 218.77 113.23 218.98C113.13 219.19 112.72 219.13 112.5 219.22C112.28 219.32 112.09 219.43 111.91 219.56C111.72 219.69 111.61 219.93 111.4 220C111.18 220.07 110.87 220 110.62 220C110.37 220 110.13 220 109.9 220C109.67 220 109.45 220 109.23 220C109.02 220 108.83 220.08 108.6 220C108.37 219.92 108.09 219.64 107.87 219.5C107.65 219.36 107.45 219.25 107.26 219.16C107.07 219.06 106.9 219.03 106.73 218.92C106.55 218.81 106.38 218.62 106.23 218.49C106.07 218.35 105.93 218.23 105.79 218.12C105.65 218.01 105.52 217.9 105.39 217.8C105.26 217.7 105.14 217.6 105.03 217.51C104.91 217.42 104.8 217.33 104.69 217.25C104.58 217.17 104.48 217.09 104.37 217.01C104.27 216.93 104.17 216.85 104.07 216.78C103.97 216.7 103.87 216.63 103.78 216.56C103.68 216.48 103.59 216.41 103.49 216.34C103.4 216.27 103.3 216.2 103.21 216.14C103.12 216.07 103.02 216 102.93 215.93C102.84 215.86 102.74 215.79 102.65 215.72C102.55 215.65 102.46 215.58 102.36 215.51C102.27 215.44 102.17 215.37 102.07 215.3C101.97 215.22 101.87 215.15 101.77 215.07C101.66 215 101.56 214.92 101.45 214.84C101.34 214.76 101.23 214.68 101.11 214.6C101 214.51 100.88 214.43 100.75 214.34C100.62 214.25 100.49 214.15 100.35 214.05C100.22 213.96 100.07 213.85 99.92 213.74C99.76 213.63 99.6 213.52 99.43 213.4C99.25 213.27 99.07 213.14 98.86 213C98.66 212.86 98.45 212.71 98.21 212.54C97.97 212.38 97.67 212.2 97.42 212C97.18 211.8 96.99 211.59 96.74 211.35C96.5 211.12 96.23 210.87 95.93 210.59C95.63 210.3 95.32 210 94.94 209.65C94.57 209.3 94.07 208.89 93.69 208.47C93.32 208.05 93.02 207.63 92.68 207.15C92.34 206.68 91.8 206.06 91.66 205.61C91.51 205.16 91.7 204.82 91.8 204.45C91.9 204.08 92.09 203.75 92.23 203.4C92.38 203.04 92.45 202.62 92.67 202.32C92.89 202.01 93.23 201.77 93.55 201.55C93.87 201.33 94.26 201.18 94.6 200.99C94.94 200.8 95.26 200.62 95.58 200.43C95.9 200.24 96.17 200 96.51 199.85C96.85 199.71 97.23 199.62 97.6 199.54C97.97 199.47 98.36 199.45 98.73 199.4C99.09 199.35 99.44 199.31 99.78 199.26C100.13 199.21 100.46 199.15 100.79 199.11C101.12 199.07 101.46 199.04 101.78 199.02C102.11 199 102.44 199 102.75 198.98C103.07 198.97 103.39 198.96 103.7 198.95C104.01 198.93 104.31 198.86 104.62 198.91C104.93 198.96 105.25 199.12 105.55 199.24C105.86 199.36 106.15 199.5 106.43 199.63C106.72 199.76 106.99 199.9 107.26 200.03C107.53 200.16 107.79 200.28 108.05 200.4C108.3 200.52 108.59 200.54 108.8 200.76C109.02 200.97 109.18 201.39 109.35 201.69C109.52 201.98 109.68 202.25 109.83 202.51C109.99 202.77 110.13 203.02 110.27 203.25C110.4 203.49 110.56 203.67 110.66 203.93C110.76 204.18 110.8 204.52 110.87 204.78C110.93 205.05 110.99 205.3 111.05 205.54C111.1 205.78 111.16 206 111.21 206.22C111.26 206.43 111.31 206.63 111.35 206.83C111.4 207.03 111.45 207.21 111.49 207.39C111.54 207.57 111.58 207.75 111.62 207.92C111.66 208.09 111.7 208.25 111.74 208.41C111.78 208.57 111.82 208.73 111.86 208.89C111.9 209.04 111.93 209.19 111.97 209.34C112.01 209.49 112.05 209.64 112.08 209.79C112.12 209.93 112.16 210.08 112.2 210.22C112.23 210.37 112.25 210.52 112.27 210.67C112.29 210.82 112.3 210.96 112.32 211.11C112.33 211.26 112.35 211.41 112.37 211.55C112.38 211.7 112.4 211.85 112.41 212Z"/>
<path d="M111.17 212C111.19 212.12 111.2 212.24 111.22 212.37C111.24 212.49 111.26 212.61 111.28 212.74C111.3 212.87 111.32 213 111.34 213.14C111.36 213.27 111.39 213.41 111.41 213.55C111.43 213.69 111.46 213.84 111.48 213.99C111.51 214.15 111.53 214.31 111.56 214.48C111.59 214.64 111.62 214.82 111.65 215C111.68 215.19 111.71 215.38 111.75 215.59C111.78 215.8 111.82 216.02 111.87 216.26C111.91 216.5 111.96 216.76 112.01 217.04C112.06 217.32 112.21 217.73 112.17 217.96C112.14 218.19 111.9 218.25 111.8 218.44C111.7 218.64 111.63 218.86 111.57 219.12C111.5 219.38 111.55 219.85 111.4 220C111.24 220.15 110.87 220 110.62 220C110.37 220 110.13 220 109.9 220C109.67 220 109.45 220 109.23 220C109.02 220 108.85 220.17 108.6 220C108.35 219.83 107.99 219.27 107.74 218.99C107.5 218.71 107.3 218.5 107.11 218.32C106.93 218.13 106.77 218.03 106.62 217.88C106.46 217.72 106.32 217.54 106.19 217.4C106.06 217.26 105.94 217.13 105.82 217.01C105.71 216.9 105.61 216.79 105.51 216.69C105.41 216.59 105.31 216.5 105.22 216.41C105.13 216.33 105.04 216.25 104.96 216.17C104.88 216.09 104.8 216.02 104.72 215.94C104.64 215.87 104.56 215.8 104.49 215.74C104.42 215.67 104.34 215.61 104.27 215.54C104.2 215.48 104.13 215.42 104.06 215.36C103.99 215.3 103.92 215.24 103.85 215.18C103.78 215.12 103.72 215.07 103.65 215.01C103.58 214.95 103.51 214.9 103.44 214.84C103.38 214.78 103.31 214.72 103.24 214.67C103.17 214.61 103.1 214.55 103.03 214.49C102.97 214.43 102.9 214.37 102.82 214.31C102.75 214.25 102.68 214.19 102.6 214.12C102.53 214.06 102.45 214 102.37 213.93C102.29 213.87 102.2 213.8 102.12 213.73C102.03 213.66 101.94 213.59 101.85 213.51C101.75 213.44 101.65 213.36 101.55 213.28C101.44 213.19 101.33 213.11 101.21 213.02C101.09 212.93 100.97 212.83 100.83 212.73C100.69 212.62 100.54 212.51 100.38 212.39C100.22 212.27 100.02 212.14 99.85 212C99.68 211.86 99.56 211.71 99.39 211.54C99.22 211.37 99.04 211.19 98.84 210.99C98.63 210.79 98.42 210.58 98.17 210.34C97.91 210.09 97.58 209.8 97.32 209.51C97.07 209.22 96.87 208.92 96.64 208.59C96.41 208.26 96.04 207.84 95.94 207.52C95.83 207.2 95.96 206.96 96.02 206.69C96.08 206.43 96.2 206.19 96.29 205.93C96.38 205.67 96.42 205.37 96.56 205.14C96.7 204.91 96.92 204.73 97.12 204.55C97.32 204.37 97.57 204.23 97.79 204.07C98 203.91 98.21 203.74 98.4 203.56C98.6 203.39 98.76 203.16 98.97 203C99.18 202.85 99.44 202.73 99.69 202.64C99.94 202.55 100.23 202.52 100.49 202.45C100.75 202.38 101 202.32 101.24 202.25C101.49 202.17 101.72 202.08 101.97 202.02C102.22 201.97 102.47 201.94 102.73 201.93C102.98 201.91 103.24 201.93 103.49 201.92C103.74 201.92 103.98 201.92 104.22 201.92C104.46 201.92 104.7 201.87 104.94 201.91C105.18 201.95 105.42 202.06 105.66 202.15C105.89 202.25 106.11 202.36 106.33 202.48C106.55 202.6 106.76 202.74 106.96 202.86C107.16 202.98 107.36 203.09 107.55 203.2C107.74 203.31 107.95 203.35 108.12 203.52C108.28 203.68 108.4 203.99 108.53 204.21C108.66 204.43 108.78 204.63 108.9 204.82C109.02 205.02 109.12 205.2 109.23 205.38C109.34 205.55 109.45 205.69 109.53 205.88C109.61 206.07 109.65 206.31 109.71 206.5C109.76 206.7 109.81 206.88 109.86 207.06C109.91 207.23 109.96 207.4 110 207.55C110.05 207.71 110.09 207.86 110.13 208.01C110.18 208.15 110.22 208.29 110.26 208.43C110.3 208.56 110.33 208.69 110.37 208.82C110.41 208.95 110.45 209.07 110.49 209.2C110.52 209.32 110.56 209.44 110.6 209.56C110.63 209.67 110.67 209.79 110.7 209.91C110.74 210.02 110.78 210.13 110.81 210.25C110.85 210.36 110.89 210.47 110.92 210.59C110.95 210.7 110.98 210.82 111.01 210.94C111.03 211.05 111.04 211.17 111.06 211.29C111.08 211.41 111.1 211.52 111.11 211.64C111.13 211.76 111.15 211.88 111.17 212Z"/>
<path d="M109.92 212C109.94 212.09 109.96 212.18 109.98 212.28C110.01 212.37 110.03 212.47 110.05 212.57C110.07 212.67 110.09 212.77 110.12 212.88C110.14 212.98 110.17 213.09 110.19 213.2C110.22 213.32 110.25 213.43 110.28 213.56C110.3 213.68 110.33 213.81 110.37 213.94C110.4 214.08 110.43 214.22 110.47 214.38C110.51 214.53 110.55 214.69 110.59 214.87C110.63 215.05 110.68 215.23 110.73 215.44C110.79 215.65 110.84 215.87 110.9 216.12C110.97 216.37 111.08 216.68 111.12 216.94C111.15 217.2 111.08 217.38 111.1 217.67C111.12 217.96 111.17 218.3 111.22 218.69C111.27 219.08 111.5 219.78 111.4 220C111.3 220.22 110.87 220 110.62 220C110.37 220 110.13 220 109.9 220C109.67 220 109.45 220 109.23 220C109.02 220 108.87 220.25 108.6 220C108.33 219.75 107.89 218.91 107.62 218.49C107.35 218.07 107.15 217.75 106.97 217.48C106.78 217.2 106.64 217.03 106.51 216.84C106.37 216.64 106.26 216.47 106.15 216.31C106.04 216.16 105.95 216.03 105.86 215.91C105.78 215.79 105.7 215.68 105.62 215.59C105.55 215.49 105.48 215.4 105.42 215.32C105.35 215.23 105.29 215.16 105.23 215.08C105.17 215.01 105.12 214.95 105.06 214.88C105.01 214.82 104.96 214.76 104.91 214.7C104.86 214.64 104.81 214.58 104.77 214.53C104.72 214.48 104.67 214.43 104.63 214.38C104.58 214.33 104.54 214.28 104.5 214.23C104.45 214.18 104.41 214.14 104.37 214.09C104.32 214.04 104.28 214 104.24 213.95C104.2 213.91 104.16 213.87 104.12 213.82C104.08 213.77 104.04 213.73 104 213.68C103.96 213.63 103.92 213.59 103.88 213.54C103.84 213.5 103.8 213.45 103.75 213.4C103.71 213.36 103.67 213.31 103.62 213.26C103.58 213.22 103.53 213.17 103.49 213.12C103.44 213.07 103.39 213.02 103.34 212.97C103.29 212.92 103.23 212.87 103.17 212.81C103.12 212.76 103.06 212.7 102.99 212.64C102.93 212.58 102.86 212.52 102.79 212.45C102.72 212.38 102.64 212.32 102.55 212.24C102.47 212.17 102.36 212.09 102.28 212C102.19 211.91 102.12 211.82 102.03 211.72C101.94 211.62 101.85 211.52 101.74 211.4C101.63 211.28 101.52 211.16 101.39 211.02C101.26 210.88 101.08 210.72 100.95 210.55C100.82 210.39 100.71 210.22 100.59 210.03C100.47 209.84 100.28 209.61 100.22 209.43C100.16 209.24 100.21 209.1 100.24 208.94C100.26 208.78 100.31 208.63 100.34 208.47C100.38 208.3 100.39 208.12 100.45 207.97C100.51 207.81 100.6 207.68 100.69 207.55C100.78 207.41 100.89 207.29 100.98 207.15C101.07 207.01 101.15 206.87 101.23 206.7C101.3 206.53 101.34 206.31 101.43 206.15C101.52 205.99 101.64 205.85 101.78 205.74C101.92 205.63 102.09 205.58 102.25 205.5C102.4 205.42 102.55 205.33 102.7 205.23C102.85 205.14 102.99 205.01 103.15 204.94C103.31 204.87 103.49 204.85 103.67 204.83C103.85 204.82 104.04 204.85 104.22 204.86C104.4 204.87 104.57 204.88 104.75 204.89C104.92 204.9 105.09 204.89 105.26 204.92C105.42 204.94 105.59 204.99 105.76 205.06C105.92 205.13 106.08 205.23 106.23 205.33C106.38 205.44 106.53 205.57 106.66 205.68C106.8 205.79 106.93 205.9 107.06 205.99C107.19 206.09 107.32 206.15 107.43 206.28C107.54 206.4 107.62 206.59 107.71 206.73C107.8 206.87 107.89 207.01 107.97 207.13C108.05 207.26 108.12 207.38 108.19 207.5C108.27 207.62 108.35 207.71 108.4 207.84C108.46 207.96 108.5 208.1 108.55 208.22C108.59 208.35 108.64 208.46 108.68 208.57C108.72 208.69 108.76 208.79 108.8 208.89C108.84 209 108.87 209.09 108.91 209.19C108.95 209.28 108.99 209.37 109.02 209.46C109.06 209.55 109.09 209.64 109.13 209.73C109.16 209.81 109.2 209.9 109.23 209.98C109.26 210.06 109.3 210.15 109.33 210.23C109.37 210.31 109.4 210.39 109.44 210.47C109.47 210.55 109.5 210.63 109.54 210.71C109.57 210.79 109.61 210.87 109.65 210.95C109.68 211.04 109.72 211.12 109.74 211.2C109.77 211.29 109.79 211.38 109.81 211.47C109.83 211.55 109.84 211.64 109.86 211.73C109.88 211.82 109.9 211.91 109.92 212Z"/>
<path d="M108.68 212C108.7 212.06 108.72 212.13 108.74 212.19C108.77 212.26 108.79 212.33 108.82 212.4C108.84 212.47 108.87 212.54 108.89 212.62C108.92 212.69 108.95 212.77 108.98 212.85C109.01 212.94 109.04 213.02 109.07 213.12C109.1 213.21 109.14 213.31 109.18 213.41C109.21 213.52 109.25 213.63 109.29 213.75C109.34 213.87 109.38 214 109.43 214.15C109.48 214.29 109.54 214.44 109.6 214.62C109.66 214.79 109.73 214.97 109.8 215.19C109.88 215.41 109.96 215.64 110.06 215.92C110.16 216.2 110.27 216.5 110.4 216.89C110.54 217.28 110.72 217.73 110.88 218.25C111.05 218.77 111.44 219.71 111.4 220C111.35 220.29 110.87 220 110.62 220C110.37 220 110.13 220 109.9 220C109.67 220 109.45 220 109.23 220C109.02 220 108.89 220.34 108.6 220C108.31 219.66 107.79 218.54 107.49 217.98C107.19 217.42 107 217 106.82 216.63C106.64 216.27 106.52 216.03 106.4 215.8C106.28 215.56 106.2 215.39 106.11 215.23C106.03 215.06 105.96 214.93 105.9 214.8C105.84 214.68 105.79 214.58 105.74 214.48C105.69 214.38 105.65 214.3 105.61 214.22C105.57 214.14 105.53 214.07 105.5 214C105.47 213.94 105.44 213.88 105.41 213.82C105.38 213.76 105.35 213.71 105.33 213.66C105.3 213.61 105.28 213.56 105.26 213.52C105.24 213.47 105.22 213.43 105.2 213.39C105.18 213.35 105.16 213.31 105.14 213.28C105.12 213.24 105.1 213.21 105.09 213.17C105.07 213.14 105.05 213.1 105.04 213.07C105.02 213.04 105 213.01 104.99 212.97C104.98 212.94 104.97 212.9 104.96 212.87C104.95 212.84 104.94 212.81 104.93 212.78C104.92 212.74 104.91 212.71 104.91 212.68C104.9 212.65 104.89 212.63 104.88 212.6C104.87 212.57 104.86 212.54 104.85 212.51C104.84 212.48 104.84 212.45 104.83 212.43C104.82 212.4 104.81 212.37 104.8 212.34C104.79 212.32 104.79 212.29 104.78 212.26C104.77 212.23 104.76 212.2 104.75 212.18C104.74 212.15 104.74 212.12 104.73 212.09C104.72 212.06 104.71 212.03 104.7 212C104.69 211.97 104.68 211.94 104.67 211.91C104.66 211.88 104.65 211.84 104.64 211.81C104.63 211.78 104.62 211.74 104.61 211.7C104.6 211.67 104.59 211.63 104.58 211.59C104.57 211.55 104.55 211.51 104.54 211.47C104.53 211.43 104.51 211.38 104.5 211.33C104.49 211.28 104.47 211.23 104.45 211.18C104.44 211.12 104.42 211.06 104.4 211C104.38 210.94 104.36 210.87 104.34 210.79C104.31 210.72 104.29 210.64 104.26 210.54C104.23 210.45 104.21 210.35 104.17 210.23C104.13 210.11 104.1 209.99 104.05 209.83C104 209.68 103.92 209.46 103.89 209.3C103.86 209.13 103.85 208.97 103.87 208.84C103.89 208.72 103.96 208.65 104.01 208.55C104.06 208.45 104.11 208.34 104.16 208.22C104.21 208.11 104.25 207.94 104.33 207.86C104.4 207.78 104.51 207.75 104.62 207.74C104.72 207.73 104.84 207.78 104.95 207.8C105.06 207.82 105.17 207.84 105.27 207.86C105.37 207.88 105.47 207.9 105.57 207.92C105.67 207.94 105.77 207.93 105.86 207.97C105.95 208.02 106.05 208.1 106.13 208.19C106.22 208.28 106.29 208.41 106.37 208.51C106.44 208.61 106.5 208.7 106.57 208.79C106.63 208.88 106.68 208.96 106.74 209.03C106.79 209.11 106.84 209.18 106.89 209.25C106.94 209.32 106.99 209.38 107.03 209.45C107.08 209.51 107.12 209.57 107.16 209.62C107.2 209.68 107.24 209.73 107.28 209.79C107.32 209.84 107.35 209.89 107.39 209.94C107.42 209.99 107.46 210.04 107.49 210.09C107.53 210.14 107.56 210.18 107.59 210.23C107.63 210.28 107.66 210.32 107.69 210.37C107.72 210.41 107.75 210.46 107.79 210.5C107.82 210.55 107.85 210.59 107.88 210.63C107.91 210.68 107.94 210.72 107.98 210.77C108.01 210.81 108.04 210.85 108.07 210.9C108.1 210.94 108.13 210.99 108.17 211.03C108.2 211.08 108.23 211.13 108.27 211.17C108.3 211.22 108.34 211.27 108.37 211.32C108.41 211.37 108.45 211.42 108.48 211.47C108.51 211.53 108.53 211.58 108.55 211.64C108.57 211.7 108.59 211.76 108.61 211.82C108.63 211.88 108.65 211.94 108.68 212Z"/>
</g>
<path d="M107 159.5C107.67 160.25 109.75 162.25 111 164C112.25 165.75 113.5 167.83 114.5 170C115.5 172.17 116.25 175 117 177C117.75 179 118.67 181.17 119 182" fill="none" stroke="#555" stroke-width="0.55"/>
<path d="M112 159.5C112.67 160.17 114.75 162.25 116 163.5C117.25 164.75 118.67 165.58 119.5 167C120.33 168.42 120.75 169.83 121 172C121.25 174.17 121 178.67 121 180" fill="none" stroke="#555" stroke-width="0.55"/>
<path d="M129.5 160C129.17 160.67 128.17 162.33 127.5 164C126.83 165.67 125.98 168 125.5 170C125.02 172 124.85 173.83 124.6 176C124.35 178.17 124.1 181.83 124 183" fill="none" stroke="#555" stroke-width="0.55"/>
<path d="M116 159.5C116.67 160 118.67 162 120 162.5C121.33 163 122.83 162.92 124 162.5C125.17 162.08 126.5 160.42 127 160" fill="none" stroke="#555" stroke-width="0.55"/>
<rect x="72" y="216.6" width="56" height="2.4" fill="#111" stroke="none" stroke-width="1"/>
<rect x="50.8" y="217.3" width="80.2" height="2.2" fill="#333" stroke="none" stroke-width="1"/>
</g>
<g clip-path="url(#c2)">
<g fill="#000" fill-opacity="0.02" stroke="#151515" stroke-width="0.45" stroke-linejoin="round">
<path d="M232.5 100.0L231.3 100.0 230.8 99.7 229.8 98.7 227.0 95.0 226.2 94.3 225.2 93.9 223.8 93.8 218.2 94.3 213.2 94.5 207.2 94.4 201.5 94.0 196.6 93.5 192.5 92.8 189.2 91.8 187.1 90.8 186.1 89.8 185.9 88.5 186.4 87.2 188.5 84.5 188.9 83.5 188.8 82.8 188.0 81.2 185.2 78.2 183.8 76.2 181.0 70.8 180.4 69.0 180.2 67.8 180.5 66.2 181.2 65.0 182.5 63.5 184.2 62.2 186.5 61.1 188.8 60.3 192.2 59.7 205.1 58.5 208.2 58.0 211.1 57.2 214.6 55.8 222.2 51.4 225.8 50.1 228.5 49.6 231.2 49.8 233.5 50.4 235.8 51.6 238.6 54.2 239.9 56.0 240.8 57.5 241.4 59.0 241.8 60.8 241.9 64.2 241.1 69.5 238.8 77.2 238.1 80.5 237.9 83.8 238.4 88.8 238.2 90.8 237.2 93.2 234.8 97.8 233.5 99.4 232.5 100.0Z"/>
<path d="M232.8 98.8L231.8 99.0 230.8 98.5 229.8 97.5 227.0 93.8 226.2 93.2 225.2 92.7 224.0 92.7 219.2 93.2 215.0 93.5 205.0 93.2 200.5 92.7 196.5 92.1 193.6 91.2 191.8 90.3 190.8 89.2 190.8 88.2 191.6 87.0 194.4 84.2 194.8 83.2 194.7 82.5 194.2 81.8 193.3 81.0 187.8 77.2 186.2 75.7 184.8 73.8 182.9 70.8 182.1 68.8 182.0 67.0 182.7 65.2 183.7 64.0 185.4 62.8 187.2 61.8 189.2 61.1 192.5 60.5 206.0 59.0 209.0 58.5 211.5 57.8 215.0 56.2 222.5 51.9 225.8 50.6 228.2 50.2 230.8 50.3 233.0 50.9 235.0 52.0 236.5 53.2 237.8 54.5 239.9 57.5 240.9 60.5 241.2 64.0 240.4 69.2 238.5 76.1 237.7 79.8 237.4 83.0 237.6 88.8 237.3 90.8 236.6 93.0 235.1 96.0 233.9 97.8 232.8 98.8Z"/>
<path d="M232.8 97.5L231.8 97.7 230.5 97.1 229.5 96.0 226.8 92.2 226.0 91.5 225.2 91.1 224.0 91.1 220.5 91.8 217.5 92.1 211.0 92.1 202.8 91.2 199.8 90.5 198.2 89.8 197.7 89.2 197.6 88.8 198.1 87.8 199.5 86.8 202.9 85.0 204.0 84.0 204.3 82.8 203.8 81.5 202.2 79.5 200.0 77.9 198.2 77.3 194.0 76.5 191.8 75.9 189.8 75.0 187.8 73.6 185.5 71.2 184.2 69.0 183.9 68.0 183.8 67.0 184.6 65.2 185.5 64.2 186.9 63.2 188.4 62.5 190.2 61.9 193.2 61.4 206.2 59.8 211.5 58.5 215.4 56.8 223.0 52.3 226.0 51.2 228.2 50.8 230.5 50.9 232.5 51.4 234.5 52.5 237.0 54.8 239.1 57.8 240.2 60.8 240.4 64.2 239.8 68.8 238.0 75.9 237.2 79.9 236.9 83.5 236.9 88.8 236.6 90.8 235.9 93.0 234.9 95.0 233.8 96.7 232.8 97.5Z"/>
<path d="M232.8 96.3L232.2 96.4 231.5 96.4 230.2 95.6 228.7 93.5 226.2 89.2 225.2 88.3 224.2 88.3 220.2 89.8 217.0 90.2 212.8 90.0 210.8 89.5 209.7 89.0 209.2 88.5 209.1 88.0 209.5 85.8 209.3 84.5 206.0 77.5 205.7 75.5 205.7 72.0 205.0 70.8 203.8 70.1 201.5 70.0 199.0 70.4 193.8 71.9 192.2 72.0 190.8 71.8 188.5 70.7 186.8 69.0 186.3 68.2 186.1 67.2 186.6 65.8 187.2 64.9 188.2 64.1 191.2 62.9 206.2 60.6 211.5 59.3 216.4 57.0 223.2 52.8 226.0 51.7 228.2 51.3 230.2 51.4 232.0 51.9 234.0 52.9 236.4 55.0 238.4 58.0 239.4 61.0 239.6 64.2 239.1 68.5 237.5 75.7 236.8 79.5 236.5 83.0 236.3 88.5 236.0 90.5 235.5 92.2 234.7 94.0 233.8 95.4 232.8 96.3Z"/>
<path d="M232.2 95.1L231.8 95.1 231.0 94.8 229.5 93.2 228.1 90.5 226.9 86.8 226.5 86.1 226.0 85.6 224.8 85.5 220.5 86.8 217.8 87.0 216.5 86.7 215.2 86.2 214.0 85.4 212.8 84.2 210.3 81.2 208.7 78.2 208.1 75.5 208.0 70.5 207.5 69.4 206.8 68.6 205.0 68.0 202.5 67.8 199.5 67.9 194.0 68.7 192.0 68.6 190.8 68.2 190.0 67.6 189.7 66.8 190.0 66.0 191.1 65.0 193.0 64.2 206.5 61.7 211.2 60.3 216.1 58.0 223.0 53.6 225.8 52.3 228.0 51.9 230.0 52.0 231.8 52.4 233.8 53.5 235.0 54.5 236.2 55.8 237.8 58.5 238.7 61.2 238.9 64.5 238.4 68.5 236.5 78.5 235.4 90.0 234.8 92.0 234.0 93.5 233.2 94.5 232.2 95.1Z"/>
<path d="M232.0 93.5L231.2 93.4 230.8 93.0 229.8 91.7 228.9 89.8 227.7 85.5 227.2 84.6 226.6 84.0 226.0 83.7 225.2 83.7 221.0 84.7 218.2 84.6 216.8 84.2 215.5 83.6 214.0 82.6 212.8 81.4 211.1 79.2 210.1 76.8 209.8 74.5 209.8 70.0 209.4 68.5 208.5 67.0 206.1 65.2 205.8 64.8 205.9 64.2 207.0 63.5 213.0 60.6 217.7 58.0 223.8 53.7 225.8 52.8 227.8 52.4 229.8 52.5 231.5 52.9 233.0 53.6 234.5 54.8 235.8 56.2 236.9 58.0 237.7 60.0 238.1 62.2 238.0 66.5 236.0 78.1 234.8 89.0 234.4 90.8 233.8 92.1 233.0 93.1 232.0 93.5Z"/>
<path d="M232.2 91.6L231.8 91.6 231.2 91.4 230.2 90.2 229.6 88.8 228.5 84.5 228.0 83.5 227.2 82.7 226.5 82.3 225.8 82.2 222.0 83.0 220.0 83.1 218.2 82.8 216.5 82.2 214.5 80.9 213.0 79.2 211.8 77.0 211.3 74.8 211.3 68.8 210.7 65.2 210.8 64.5 211.1 63.8 212.7 62.2 218.8 58.2 223.2 54.6 225.2 53.5 227.5 52.9 229.2 52.9 231.0 53.3 232.5 54.0 234.0 55.1 235.3 56.5 236.3 58.2 237.1 60.2 237.4 62.0 237.5 64.0 237.4 66.5 235.7 76.2 234.2 87.6 233.5 90.2 233.0 91.0 232.2 91.6Z"/>
<path d="M232.2 88.8L231.5 88.8 231.0 88.2 229.0 83.0 228.4 82.0 227.8 81.3 227.0 80.9 226.0 80.8 222.5 81.5 220.8 81.6 219.0 81.4 217.5 80.9 215.8 79.8 214.3 78.2 213.3 76.5 212.8 74.2 212.7 72.0 212.9 65.8 213.2 64.5 213.8 63.5 215.2 62.0 219.0 59.1 223.5 55.1 225.5 54.0 227.5 53.4 229.0 53.4 230.5 53.7 232.0 54.3 233.5 55.3 234.8 56.8 235.7 58.2 236.4 60.0 236.8 62.0 236.9 64.0 236.8 66.0 235.5 73.2 233.8 84.8 233.1 87.5 232.2 88.8Z"/>
<path d="M232.0 84.4L231.8 84.4 231.2 84.1 229.2 80.8 228.5 79.9 227.8 79.5 226.2 79.3 223.0 80.0 221.0 80.1 219.2 79.8 217.5 79.0 216.2 78.0 215.3 76.8 214.6 75.2 214.2 73.8 214.1 71.2 214.5 67.2 214.9 65.2 215.6 63.8 216.7 62.5 223.2 55.9 225.2 54.6 227.5 53.9 229.0 53.9 230.5 54.2 231.8 54.7 233.0 55.6 234.1 56.8 235.1 58.2 235.9 60.0 236.2 61.5 236.4 64.0 236.1 66.8 233.3 81.2 232.8 83.2 232.0 84.4Z"/>
<path d="M231.5 79.8L230.8 79.5 228.9 78.0 227.8 77.6 226.5 77.6 222.2 78.5 220.8 78.4 219.2 77.9 218.0 77.2 216.9 76.0 216.2 74.5 215.8 73.0 215.7 70.8 216.1 67.8 216.7 65.5 217.6 63.8 221.6 58.5 223.2 56.6 225.2 55.2 227.5 54.4 229.0 54.4 230.2 54.6 231.5 55.2 232.8 56.0 233.9 57.2 234.7 58.5 235.3 60.0 235.7 61.5 235.8 64.2 235.3 67.2 232.8 78.0 232.2 79.2 231.5 79.8Z"/>
<path d="M223.2 76.5L221.8 76.5 220.2 76.1 219.1 75.2 218.2 74.0 217.6 72.5 217.5 70.8 217.7 68.5 218.3 66.2 219.3 63.8 221.2 60.2 222.3 58.5 223.8 56.9 225.2 55.8 226.8 55.1 228.5 54.9 230.2 55.2 231.8 55.9 233.0 57.0 234.1 58.5 234.9 60.2 235.2 62.0 235.3 64.0 235.0 66.0 234.4 68.2 232.2 74.1 231.2 75.6 230.5 75.8 227.5 75.5 223.2 76.5Z"/>
<path d="M224.0 74.0L222.5 74.0 221.4 73.5 220.5 72.6 219.9 71.2 219.8 69.8 219.9 67.8 220.4 64.8 221.1 62.2 222.7 59.0 223.6 57.8 224.8 56.7 226.0 56.0 227.2 55.6 228.8 55.4 230.0 55.7 231.2 56.2 232.5 57.2 233.5 58.5 234.2 60.0 234.6 61.5 234.8 63.2 234.6 65.0 234.1 67.0 232.5 70.5 231.5 71.9 230.8 72.5 229.5 73.0 224.0 74.0Z"/>
<path d="M227.8 71.5L226.0 71.5 224.8 71.3 223.8 70.9 223.0 70.2 222.3 69.2 221.9 67.8 221.6 66.0 221.6 64.2 221.9 62.5 222.3 61.0 223.1 59.5 223.9 58.2 225.0 57.2 226.2 56.5 227.5 56.1 228.8 56.0 230.0 56.3 231.0 56.7 232.0 57.5 232.9 58.5 233.9 60.8 234.2 62.2 234.2 63.8 233.6 66.8 232.9 68.2 232.0 69.5 231.2 70.3 230.2 70.9 229.0 71.3 227.8 71.5Z"/>
<path d="M229.2 70.0L228.0 70.2 226.8 70.1 225.8 69.8 224.7 69.2 223.9 68.5 223.3 67.5 222.8 66.2 222.5 64.8 222.5 63.2 222.8 61.8 223.9 59.2 224.8 58.2 225.8 57.4 226.8 56.9 228.0 56.6 230.0 56.9 231.8 58.0 233.1 60.0 233.7 62.2 233.5 64.8 232.6 67.2 231.0 69.1 229.2 70.0Z"/>
<path d="M228.8 69.0L226.8 68.9 225.0 67.9 224.3 67.0 223.8 66.0 223.3 63.8 223.7 61.2 224.7 59.2 226.2 57.8 227.2 57.4 228.2 57.3 230.0 57.6 231.6 58.8 232.7 60.5 233.1 62.8 232.8 65.0 231.9 67.0 230.5 68.4 228.8 69.0Z"/>
<path d="M228.8 68.0L227.0 67.9 225.5 66.9 224.5 65.5 224.1 63.5 224.3 61.5 225.2 59.8 226.5 58.5 228.2 58.0 229.8 58.3 231.1 59.2 232.1 60.8 232.4 62.5 232.2 64.5 231.5 66.2 230.2 67.4 228.8 68.0Z"/>
<path d="M228.2 67.0L227.0 66.7 225.8 65.8 225.1 64.5 224.9 63.0 225.1 61.5 226.0 60.0 227.2 59.1 228.5 58.8 229.8 59.2 230.8 60.0 231.5 61.4 231.7 63.0 231.4 64.5 230.7 65.8 229.5 66.7 228.2 67.0Z"/>
<path d="M228.5 65.8L227.5 65.6 226.8 65.1 226.2 64.2 225.9 63.0 226.0 62.0 226.5 61.0 227.2 60.3 228.2 59.9 229.2 60.1 230.0 60.7 230.5 61.5 230.8 62.8 230.6 63.8 230.2 64.8 229.5 65.4 228.5 65.8Z"/>
</g>
<ellipse cx="228.4" cy="62.4" rx="1.1" ry="1.3" fill="#fff"/>
<rect x="180.6" y="58" width="3.2" height="37.7" fill="#888" stroke="none" stroke-width="1"/>
<rect x="186" y="93" width="57.5" height="2.7" fill="#1a1a1a" stroke="none" stroke-width="1" rx="1.3"/>
<circle cx="184.6" cy="92.6" r="2.6" fill="#000"/>
</g>
<g clip-path="url(#c6)">
<g fill="#000" fill-opacity="0.04" stroke="#151515" stroke-width="0.45" stroke-linejoin="round">
<path d="M236.2 218.0L234.8 217.9 231.2 216.2 229.5 215.8 215.5 216.7 203.2 216.7 196.6 216.2 191.2 215.7 188.0 215.0 186.6 214.5 185.7 214.0 185.4 213.5 185.5 212.8 188.3 210.2 188.8 209.5 188.8 209.0 188.3 208.0 185.0 204.5 183.7 202.5 182.8 199.8 182.8 196.8 183.2 194.2 184.0 191.8 187.3 184.5 187.7 183.0 188.2 178.2 188.8 176.9 189.6 175.8 190.8 174.7 192.5 173.8 194.5 173.2 197.0 172.8 200.2 172.5 203.8 172.6 212.5 173.6 214.2 173.6 216.0 173.3 220.0 171.6 222.8 170.9 225.2 170.6 229.5 170.7 230.8 170.6 231.8 170.2 234.0 168.8 235.2 168.4 236.2 168.3 237.2 168.5 239.0 169.6 240.2 171.2 240.9 173.5 240.8 183.8 240.9 185.2 241.5 186.7 244.0 191.0 244.5 192.5 244.6 194.0 244.0 196.0 241.2 200.5 240.1 204.0 239.8 206.7 239.7 208.5 240.0 210.2 240.8 213.0 240.7 214.2 240.0 215.5 238.8 216.7 237.5 217.6 236.2 218.0ZM229.5 210.5L230.4 210.0 230.9 209.2 231.1 208.2 231.1 207.2 230.7 206.0 230.0 204.9 229.2 204.4 228.5 204.4 227.2 204.9 225.3 206.2 224.3 207.2 223.9 208.2 224.1 208.8 224.6 209.2 226.0 210.0 228.0 210.6 229.5 210.5Z"/>
<path d="M236.8 216.8L235.5 217.0 234.2 216.6 232.3 215.5 230.0 213.8 229.9 213.2 231.2 211.6 232.0 210.3 232.3 209.0 232.3 207.8 231.8 205.2 231.0 203.1 230.0 202.0 229.0 201.7 227.5 201.9 225.8 202.7 218.8 207.2 217.8 208.0 217.5 208.5 217.8 209.2 218.6 209.8 225.8 212.2 227.7 213.2 227.8 213.5 227.6 213.8 225.9 214.5 222.5 215.1 218.0 215.6 212.5 215.8 206.8 215.8 201.0 215.5 196.5 215.0 192.8 214.2 191.4 213.5 191.2 213.0 191.8 212.2 193.0 211.5 197.0 209.8 197.5 209.2 197.5 209.0 197.1 208.5 196.5 208.2 190.5 206.4 189.0 205.6 187.5 204.5 186.2 203.0 185.2 201.2 184.6 199.5 184.4 197.5 184.7 194.8 185.6 191.8 186.5 189.8 188.8 186.2 189.3 185.0 189.6 183.8 189.7 179.0 190.2 177.5 191.0 176.3 192.2 175.3 193.8 174.5 195.8 173.9 198.2 173.4 201.2 173.2 204.2 173.2 212.5 174.1 214.2 174.2 216.0 173.7 220.2 171.8 222.8 171.2 225.2 170.9 229.8 171.0 231.2 170.9 234.0 169.4 235.2 168.9 237.0 169.0 238.7 170.0 239.9 171.8 240.5 173.8 240.5 181.0 240.3 184.5 240.4 185.8 240.8 187.0 242.9 191.0 243.2 192.2 243.3 193.5 242.8 195.5 240.4 200.2 239.5 203.8 238.9 208.5 239.6 212.8 239.5 214.0 239.0 215.0 238.4 215.8 236.8 216.8Z"/>
<path d="M236.5 215.5L235.5 215.7 234.5 215.4 233.5 214.6 232.9 213.8 232.9 212.5 233.6 209.0 233.3 206.2 232.5 203.4 231.8 201.6 230.9 200.5 229.8 199.9 227.5 199.8 224.4 200.5 222.5 201.3 218.6 203.8 216.2 204.9 213.0 205.9 209.5 206.4 205.0 206.3 198.2 205.0 192.8 204.4 190.5 203.7 188.8 202.5 187.8 201.4 187.0 200.0 186.5 198.5 186.4 196.8 186.6 194.8 187.2 193.0 188.0 191.4 189.0 190.2 190.5 189.2 192.0 189.0 193.5 189.6 196.2 191.8 197.8 192.6 198.8 192.8 199.5 192.8 200.0 192.5 200.2 192.0 199.9 191.0 199.1 190.0 194.2 186.4 193.2 185.3 192.4 184.0 191.7 182.0 191.4 180.0 191.6 178.5 192.5 177.0 193.6 176.0 195.0 175.2 196.8 174.6 199.0 174.2 201.8 173.9 204.8 173.9 214.0 174.7 215.9 174.2 220.2 172.2 223.0 171.4 225.8 171.1 231.2 171.3 232.2 171.0 234.5 169.8 235.8 169.5 237.0 169.7 238.2 170.4 239.4 171.8 239.9 173.5 240.1 180.8 239.7 185.8 240.0 187.0 241.8 191.0 242.1 193.2 241.7 195.2 239.4 200.5 238.5 204.2 237.9 208.8 238.3 212.5 238.2 213.5 237.6 214.8 236.5 215.5ZM213.5 214.0L210.0 214.2 206.3 214.0 203.8 213.5 203.3 213.0 203.9 212.5 205.2 212.1 209.2 211.7 213.5 212.1 215.1 212.5 216.0 213.0 216.1 213.2 215.8 213.5 213.5 214.0Z"/>
<path d="M236.0 207.2L235.5 207.1 235.0 206.4 233.3 201.8 232.5 200.2 231.3 199.0 229.8 198.4 226.2 198.4 218.2 199.0 215.9 199.8 212.2 201.8 209.2 202.5 207.2 202.5 205.2 202.3 203.6 201.8 202.1 201.0 201.2 200.0 201.3 199.2 202.2 198.5 205.8 196.5 206.4 195.8 206.4 194.8 205.7 193.5 204.3 192.0 196.8 185.6 194.7 183.5 193.8 182.0 193.4 180.5 193.5 179.0 194.1 177.8 195.1 176.8 196.5 175.9 198.2 175.3 200.2 174.9 205.2 174.6 214.0 175.3 215.8 174.8 220.5 172.4 223.0 171.7 226.0 171.4 231.5 171.6 232.8 171.3 234.8 170.4 235.8 170.2 236.8 170.3 237.8 170.8 238.9 172.2 239.4 174.0 239.7 180.8 239.1 186.2 239.4 187.5 240.6 190.8 240.9 193.0 240.6 195.0 238.6 200.0 237.0 205.4 236.5 206.6 236.0 207.2ZM193.8 200.3L192.5 200.2 191.5 199.8 190.7 199.2 190.0 198.2 189.8 197.2 189.8 196.0 190.2 195.1 190.9 194.5 192.0 194.4 193.2 195.0 194.8 196.5 196.1 198.2 196.2 199.0 195.9 199.5 194.9 200.0 193.8 200.3Z"/>
<path d="M235.8 201.5L235.0 201.1 232.8 198.4 231.0 197.4 229.2 197.1 221.8 196.9 217.5 196.4 213.0 195.2 209.2 193.3 206.2 191.4 202.5 188.7 199.5 186.2 197.5 184.2 196.3 182.8 195.6 181.2 195.5 179.8 195.9 178.5 196.7 177.5 197.9 176.8 199.5 176.1 201.2 175.7 205.8 175.4 212.5 176.0 214.0 176.0 215.8 175.4 220.2 172.8 223.2 171.9 226.2 171.7 231.8 172.0 233.0 171.8 235.5 171.0 237.0 171.3 237.8 171.9 238.2 172.5 238.8 174.5 239.3 181.0 238.3 186.8 239.6 191.0 239.8 193.0 239.4 195.0 238.2 197.8 236.8 200.7 236.2 201.3 235.8 201.5Z"/>
<path d="M236.0 197.8L235.0 197.8 232.5 196.5 230.8 196.0 223.8 195.8 218.5 195.1 214.2 193.9 210.5 192.4 207.8 190.9 204.8 188.9 202.2 187.0 200.0 185.0 198.7 183.5 197.8 182.0 197.5 180.5 197.8 179.2 198.5 178.2 199.6 177.5 201.0 176.9 202.8 176.5 206.2 176.2 212.8 176.7 214.8 176.5 216.0 175.9 220.0 173.3 221.8 172.6 223.5 172.2 226.8 172.0 232.2 172.5 235.2 172.0 236.5 172.2 237.5 173.0 238.0 174.2 238.7 178.0 238.9 180.5 238.6 182.8 237.4 187.0 237.5 188.1 238.5 191.2 238.5 193.5 238.2 194.8 237.5 196.2 236.8 197.3 236.0 197.8Z"/>
<path d="M235.5 195.0L234.5 195.1 231.2 194.6 225.5 194.8 221.5 194.4 216.8 193.4 212.2 191.9 207.0 189.1 204.6 187.5 202.5 185.8 200.9 184.0 200.0 182.5 199.6 181.2 199.8 180.0 200.2 179.2 201.2 178.4 202.5 177.8 204.0 177.4 207.0 177.2 213.0 177.5 214.8 177.3 216.0 176.7 218.5 174.7 220.0 173.7 222.0 172.9 223.8 172.5 227.5 172.3 236.0 173.2 236.9 174.0 237.5 175.4 238.2 178.2 238.4 180.5 237.9 183.2 236.2 187.5 236.2 188.5 237.0 191.5 236.9 193.0 236.4 194.2 235.5 195.0Z"/>
<path d="M226.2 193.5L222.2 193.4 218.0 192.6 214.0 191.3 209.8 189.4 206.2 187.2 203.5 184.8 202.5 183.5 202.1 182.5 201.9 181.5 202.1 180.5 202.7 179.8 203.4 179.2 205.8 178.5 208.5 178.2 213.2 178.4 214.8 178.2 216.0 177.5 218.2 175.4 219.8 174.3 221.5 173.4 223.5 172.8 225.8 172.6 228.0 172.7 233.8 173.7 235.2 174.1 236.3 175.0 237.2 176.5 237.8 179.0 237.9 181.0 237.7 182.5 237.1 184.0 234.5 188.2 234.0 191.2 233.4 192.0 232.1 192.5 228.8 193.2 226.2 193.5Z"/>
<path d="M226.2 192.0L223.0 192.1 219.2 191.6 215.2 190.5 211.5 189.0 208.2 187.0 205.9 185.0 205.1 184.0 204.6 183.0 204.5 182.0 204.7 181.2 205.8 180.3 207.5 179.7 209.5 179.5 213.5 179.5 215.0 179.2 216.2 178.4 218.3 176.0 219.8 174.8 221.5 173.8 223.5 173.2 226.0 172.9 228.5 173.0 232.2 173.8 234.5 174.6 235.4 175.2 236.1 176.0 237.1 178.2 237.5 180.8 237.3 182.0 236.9 183.2 235.2 185.6 230.1 190.5 228.3 191.5 226.2 192.0Z"/>
<path d="M223.5 190.5L221.0 190.4 218.2 190.0 215.5 189.2 212.7 188.0 210.2 186.5 208.6 185.0 207.8 183.8 207.8 182.5 208.4 181.8 209.6 181.2 214.2 180.8 215.5 180.5 216.5 179.6 218.2 177.0 219.5 175.6 221.2 174.4 223.2 173.6 226.0 173.2 228.8 173.4 232.5 174.4 234.7 175.5 235.5 176.2 236.2 177.2 236.7 178.5 236.9 179.8 236.9 181.0 236.7 182.2 235.6 184.2 234.0 185.9 232.0 187.1 226.5 189.9 225.0 190.3 223.5 190.5Z"/>
<path d="M222.5 188.3L219.2 188.1 216.2 187.3 213.8 186.0 213.0 185.2 212.7 184.5 212.8 184.0 213.2 183.6 215.5 182.9 216.5 182.2 217.0 181.4 218.3 178.0 219.7 176.0 221.2 174.9 222.8 174.2 224.8 173.7 226.8 173.6 229.2 173.9 231.8 174.6 233.5 175.4 234.9 176.5 236.1 178.5 236.4 180.8 235.9 182.8 234.5 184.7 232.5 186.1 229.8 187.1 226.5 187.8 222.5 188.3Z"/>
<path d="M229.0 186.5L226.0 186.7 223.2 186.3 220.8 185.3 219.3 184.0 218.8 183.0 218.5 181.8 218.5 179.2 219.4 177.2 221.0 175.6 222.5 174.7 224.2 174.2 226.0 174.0 228.0 174.0 230.0 174.4 232.0 175.2 233.5 176.0 234.8 177.2 235.6 178.8 235.9 180.2 235.7 181.8 235.2 183.0 234.1 184.2 232.8 185.2 231.0 186.0 229.0 186.5Z"/>
<path d="M229.5 185.8L227.0 186.0 224.5 185.6 222.2 184.7 220.5 183.3 219.6 181.8 219.3 179.8 219.8 177.8 221.0 176.2 222.2 175.4 224.0 174.7 225.8 174.4 227.5 174.4 229.2 174.7 231.2 175.3 232.8 176.1 234.0 177.2 234.9 178.5 235.2 179.8 235.2 181.2 234.8 182.5 234.0 183.6 232.8 184.6 231.2 185.3 229.5 185.8Z"/>
<path d="M229.0 185.3L226.8 185.3 224.5 184.8 222.5 183.9 221.2 182.8 220.3 181.2 220.0 179.5 220.5 177.8 221.8 176.3 223.0 175.5 224.5 175.0 226.0 174.8 227.8 174.8 229.5 175.2 231.2 175.8 232.7 176.8 233.7 177.8 234.4 179.0 234.6 180.2 234.5 181.5 234.0 182.5 233.2 183.5 232.0 184.3 230.5 185.0 229.0 185.3Z"/>
<path d="M229.8 184.5L227.8 184.7 225.5 184.4 223.8 183.8 222.2 182.7 221.2 181.2 220.8 179.8 221.1 178.2 221.9 177.0 223.0 176.2 224.2 175.6 225.8 175.3 227.2 175.3 228.8 175.5 230.2 176.0 231.5 176.6 232.7 177.5 233.4 178.5 233.9 179.5 233.9 180.8 233.7 181.8 233.0 182.8 232.2 183.5 231.0 184.1 229.8 184.5Z"/>
<path d="M229.0 184.0L227.2 184.1 225.5 183.8 223.8 183.0 222.6 182.0 221.8 180.8 221.6 179.5 221.9 178.2 222.8 177.1 223.7 176.5 224.8 176.1 226.0 175.8 227.5 175.8 229.0 176.1 230.2 176.5 231.4 177.2 232.2 178.0 232.8 178.8 233.1 179.8 233.2 180.8 232.8 181.8 232.2 182.5 231.3 183.2 230.2 183.7 229.0 184.0Z"/>
<path d="M229.2 183.3L227.8 183.4 226.2 183.2 224.9 182.8 223.8 182.0 222.9 181.0 222.5 179.8 222.7 178.8 223.3 177.8 224.8 176.8 227.0 176.4 229.2 176.8 231.2 178.0 232.2 179.5 232.3 180.5 232.1 181.2 231.1 182.5 229.2 183.3Z"/>
<path d="M229.0 182.5L227.8 182.6 226.6 182.5 225.5 182.1 224.6 181.5 223.9 180.8 223.6 179.8 223.7 179.0 224.1 178.2 225.2 177.5 227.0 177.1 228.8 177.4 230.3 178.2 231.2 179.5 231.2 180.8 230.5 181.8 229.0 182.5Z"/>
<path d="M228.0 181.5L226.5 181.3 225.5 180.6 225.1 179.8 225.2 179.2 225.5 178.8 226.5 178.3 227.5 178.2 228.5 178.5 229.3 179.0 229.8 179.8 229.7 180.5 229.0 181.2 228.0 181.5Z"/>
</g>
<path d="M205.5 197C205.72 198 206.68 201 206.8 203C206.92 205 206.2 207 206.2 209C206.2 211 206.7 214 206.8 215" fill="none" stroke="#333" stroke-width="0.45"/>
<path d="M209.5 198C209.67 199.17 210.42 202.17 210.5 205C210.58 207.83 210.08 213.33 210 215" fill="none" stroke="#333" stroke-width="0.45"/>
<path d="M214.2 199C214.38 200.17 215.2 203.33 215.3 206C215.4 208.67 214.88 213.5 214.8 215" fill="none" stroke="#333" stroke-width="0.45"/>
<path d="M219.5 199C219.42 200.33 218.95 204.33 219 207C219.05 209.67 219.67 213.67 219.8 215" fill="none" stroke="#333" stroke-width="0.45"/>
<path d="M224.2 199C224.33 200.17 224.95 203.33 225 206C225.05 208.67 224.58 213.5 224.5 215" fill="none" stroke="#333" stroke-width="0.45"/>
<path d="M228.5 197C228.63 198.33 229.22 202 229.3 205C229.38 208 229.05 213.33 229 215" fill="none" stroke="#333" stroke-width="0.45"/>
<ellipse cx="227.8" cy="179.6" rx="1.6" ry="1.2" fill="#fff"/>
<path d="M232.6 173C232.57 171.67 232.3 167.17 232.4 165C232.5 162.83 232.63 161.35 233.2 160C233.77 158.65 234.92 157.07 235.8 156.9C236.68 156.73 237.92 157.65 238.5 159C239.08 160.35 239.13 162.67 239.3 165C239.47 167.33 239.47 171.67 239.5 173" fill="none" stroke="#222" stroke-width="0.5"/>
<path d="M233.7 173C233.68 171.83 233.5 167.92 233.6 166C233.7 164.08 233.92 162.63 234.3 161.5C234.68 160.37 235.35 159.28 235.9 159.2C236.45 159.12 237.22 159.87 237.6 161C237.98 162.13 238.07 164 238.2 166C238.33 168 238.37 171.83 238.4 173" fill="none" stroke="#222" stroke-width="0.5"/>
<path d="M234.8 173C234.8 172.08 234.72 169 234.8 167.5C234.88 166 235.1 164.87 235.3 164C235.5 163.13 235.75 162.3 236 162.3C236.25 162.3 236.6 163.13 236.8 164C237 164.87 237.12 166 237.2 167.5C237.28 169 237.28 172.08 237.3 173" fill="none" stroke="#222" stroke-width="0.5"/>
<rect x="181.2" y="174" width="3.2" height="44" fill="#222" stroke="none" stroke-width="1"/>
<rect x="186" y="215.6" width="57" height="2.6" fill="#1a1a1a" stroke="none" stroke-width="1" rx="1.3"/>
<circle cx="184.2" cy="213.8" r="2.4" fill="#000"/>
<circle cx="184.2" cy="213.8" r="0.9" fill="#fff"/>
</g>
<g clip-path="url(#c3)">
<g fill="#000" fill-opacity="0.02" stroke="#1a1a1a" stroke-width="0.42" stroke-linejoin="round">
<path d="M342.8 56.0L322.0 56.1 318.0 55.6 316.5 55.1 315.5 54.6 313.8 53.0 312.4 51.2 311.4 49.0 310.8 46.8 310.6 44.0 310.8 41.2 311.6 38.5 312.6 36.5 313.5 35.4 314.5 34.5 315.5 34.0 316.8 33.8 320.5 34.0 329.2 33.8 341.8 33.9 344.8 34.2 347.0 35.0 348.1 36.0 349.2 38.3 350.0 39.2 351.0 39.6 354.2 40.0 355.1 40.5 355.8 41.2 356.4 42.5 356.8 44.2 356.8 47.8 356.6 49.8 355.8 51.8 354.5 52.9 353.2 53.2 349.8 53.5 346.2 55.4 344.5 55.8 342.8 56.0Z"/>
<path d="M342.2 55.8L322.2 55.8 318.5 55.4 316.0 54.4 314.2 53.0 312.8 51.2 311.8 49.2 311.1 46.8 310.9 44.0 311.1 41.5 311.6 39.2 312.7 37.0 313.6 35.8 314.8 34.8 315.8 34.4 317.0 34.2 341.5 34.1 344.5 34.4 346.7 35.2 347.8 36.2 349.0 38.8 349.8 39.7 350.8 40.2 354.0 40.6 354.8 41.0 355.5 41.8 356.0 43.0 356.3 44.5 356.3 47.8 356.2 49.5 355.5 51.2 354.2 52.3 353.0 52.6 349.5 53.0 346.0 55.1 344.2 55.5 342.2 55.8Z"/>
<path d="M341.2 55.5L321.8 55.5 318.2 54.9 316.0 53.9 314.2 52.4 312.9 50.8 312.1 49.0 311.4 46.8 311.2 44.2 311.4 41.5 312.0 39.2 312.9 37.2 313.8 36.2 314.8 35.3 315.8 34.8 317.2 34.6 329.2 34.3 341.2 34.4 344.2 34.7 346.3 35.5 347.4 36.5 348.8 39.4 349.5 40.3 350.8 40.9 353.8 41.3 354.5 41.8 355.0 42.3 355.5 43.4 355.7 44.8 355.8 47.8 355.5 49.5 354.8 51.0 353.8 51.7 349.5 52.2 348.5 52.7 346.7 54.2 345.5 54.8 343.5 55.3 341.2 55.5Z"/>
<path d="M342.8 55.0L338.2 55.2 322.8 55.2 319.2 54.7 316.8 53.7 315.0 52.5 313.6 51.0 312.6 49.5 311.8 47.2 311.5 44.8 311.6 42.2 312.1 40.0 312.9 38.0 313.8 36.8 314.8 35.9 316.0 35.2 317.2 35.0 329.0 34.7 340.8 34.7 343.8 35.0 345.8 35.7 347.1 37.0 348.5 40.0 349.5 41.3 350.8 41.9 353.2 42.3 354.3 43.0 354.7 44.0 354.9 45.0 354.9 48.5 354.4 49.8 353.5 50.6 349.0 51.3 348.2 51.8 346.7 53.5 345.8 54.2 344.5 54.7 342.8 55.0Z"/>
<path d="M340.2 54.8L322.2 54.7 319.0 54.1 316.2 52.7 314.8 51.6 313.5 50.2 312.6 48.5 312.1 46.8 311.8 44.5 311.9 42.2 312.4 40.0 313.4 38.0 314.2 36.9 315.2 36.1 316.2 35.7 317.5 35.5 328.8 35.1 340.8 35.1 343.5 35.4 345.5 36.2 346.8 37.5 348.5 41.4 349.5 43.0 350.5 43.8 352.2 44.3 353.0 44.8 353.3 45.8 353.2 47.8 352.9 48.2 352.5 48.6 349.5 49.1 348.5 49.6 347.8 50.5 346.4 52.8 345.0 53.9 343.0 54.5 340.2 54.8Z"/>
<path d="M338.8 54.3L326.0 54.3 322.2 54.1 319.5 53.5 315.8 51.7 314.5 50.7 313.5 49.5 312.8 48.0 312.3 46.0 312.1 44.0 312.3 41.8 312.8 40.0 313.5 38.5 314.3 37.5 315.2 36.7 316.2 36.3 317.2 36.1 320.0 36.1 329.0 35.5 335.5 35.7 340.5 35.6 343.2 35.9 345.0 36.6 346.0 37.5 346.9 39.0 347.9 41.8 348.2 43.5 348.1 45.2 346.2 51.0 345.4 52.5 344.0 53.6 342.0 54.1 338.8 54.3Z"/>
<path d="M338.2 53.5L326.5 53.5 323.0 53.4 321.0 52.9 315.8 51.0 314.8 50.2 313.8 49.0 313.2 47.8 312.7 46.0 312.5 44.2 312.6 42.5 312.9 41.0 313.6 39.2 314.3 38.2 315.2 37.4 316.2 36.9 317.2 36.7 320.5 36.9 329.2 36.1 335.5 36.4 340.5 36.1 342.8 36.4 344.2 36.9 345.0 37.5 345.9 38.5 347.1 41.2 347.4 43.5 346.9 45.8 345.5 48.8 344.7 51.2 344.0 52.2 343.2 52.8 342.0 53.2 338.2 53.5Z"/>
<path d="M339.5 52.0L325.2 52.0 323.0 51.7 320.5 50.3 317.8 50.7 316.0 50.3 315.0 49.7 314.2 48.8 313.7 47.8 313.2 46.2 312.9 43.2 313.2 41.8 313.7 40.2 314.2 39.2 315.0 38.4 316.0 37.7 317.0 37.5 318.2 37.6 321.2 38.7 325.8 37.3 329.0 36.8 331.2 36.8 335.5 37.5 341.0 36.9 342.5 37.1 343.5 37.4 345.0 38.6 346.2 40.5 346.7 42.8 346.5 44.8 345.4 47.0 342.5 50.8 341.2 51.6 339.5 52.0Z"/>
<path d="M331.5 48.8L329.5 49.0 327.5 48.6 325.8 47.5 324.5 46.0 323.7 44.0 323.7 42.0 324.5 40.0 325.8 38.7 327.8 37.9 330.2 37.6 332.2 38.0 335.0 39.2 335.8 39.3 339.0 38.0 341.2 37.7 342.5 37.9 343.5 38.4 344.5 39.2 345.2 40.0 345.9 42.0 345.9 44.2 344.9 46.2 343.2 47.9 341.5 48.6 339.8 48.7 338.5 48.3 336.2 47.0 335.5 46.8 334.8 47.1 332.8 48.3 331.5 48.8ZM318.0 49.5L316.5 49.6 315.8 49.3 315.0 48.8 313.9 47.0 313.4 45.0 313.5 42.8 314.1 40.5 315.2 39.0 316.0 38.6 316.8 38.4 318.0 38.6 319.3 39.5 320.2 41.0 320.7 43.0 320.7 45.2 320.1 47.2 319.2 48.8 318.0 49.5Z"/>
<path d="M331.0 47.3L329.2 47.4 327.5 46.9 326.2 45.9 325.4 44.5 325.1 42.8 325.5 41.0 326.5 39.7 328.0 38.8 329.0 38.6 330.2 38.5 332.2 39.1 333.9 40.5 334.9 42.2 334.9 43.5 334.0 45.2 332.5 46.6 331.0 47.3ZM341.8 47.3L340.0 47.2 338.4 46.5 337.0 45.0 336.2 43.2 336.3 42.0 337.4 40.2 338.8 39.2 340.2 38.7 342.0 38.7 343.5 39.4 344.7 40.8 345.2 42.2 345.2 44.0 344.4 45.5 343.2 46.7 341.8 47.3ZM317.5 48.6L316.2 48.6 315.1 47.8 314.3 46.2 313.9 44.5 314.1 42.5 314.6 41.0 315.5 39.8 316.8 39.3 317.8 39.6 318.8 40.5 319.4 41.8 319.7 43.2 319.6 45.0 319.2 46.8 318.5 47.8 317.5 48.6Z"/>
<path d="M330.2 46.3L329.0 46.2 327.8 45.7 326.8 44.8 326.3 43.5 326.3 42.2 326.9 41.0 328.0 40.0 329.2 39.6 330.8 39.7 332.0 40.2 332.9 41.2 333.4 42.5 333.3 43.8 332.6 45.0 331.5 45.9 330.2 46.3ZM342.2 46.0L341.0 46.2 339.8 45.9 338.8 45.2 337.9 44.0 337.7 42.8 338.1 41.5 338.8 40.5 340.0 39.8 341.2 39.6 342.5 39.9 343.5 40.6 344.2 41.8 344.4 43.0 344.1 44.2 343.5 45.2 342.2 46.0ZM317.2 47.3L316.2 47.4 315.5 46.8 314.9 45.8 314.6 44.5 314.6 43.2 315.0 41.9 315.7 41.0 316.5 40.6 317.2 40.7 318.0 41.3 318.5 42.2 318.8 43.5 318.8 44.8 318.4 46.0 318.0 46.8 317.2 47.3Z"/>
<path d="M330.0 45.0L329.2 44.9 328.5 44.6 327.9 44.0 327.6 43.2 327.6 42.5 328.0 41.7 328.8 41.1 329.5 40.8 330.5 40.9 331.2 41.2 331.8 41.9 332.0 42.8 331.9 43.5 331.5 44.2 330.8 44.8 330.0 45.0ZM342.0 44.8L341.2 44.9 340.5 44.8 339.8 44.4 339.3 43.8 339.1 43.0 339.2 42.2 339.7 41.5 340.2 41.1 341.0 40.9 341.8 40.9 342.5 41.3 343.0 42.0 343.2 42.8 343.2 43.5 342.7 44.2 342.0 44.8ZM316.8 45.6L316.2 45.4 316.0 45.2 315.7 44.2 315.9 43.0 316.5 42.5 317.0 42.6 317.2 42.8 317.6 43.8 317.4 45.0 316.8 45.6Z"/>
</g>
<path d="M315 37.5C316.17 35.62 319.5 38.12 322 38.2C324.5 38.28 327 38.03 330 38C333 37.97 337.25 37.75 340 38C342.75 38.25 345.08 38.58 346.5 39.5C347.92 40.42 348.5 42.17 348.5 43.5C348.5 44.83 347.92 46.65 346.5 47.5C345.08 48.35 342.75 48.45 340 48.6C337.25 48.75 333 48.4 330 48.4C327 48.4 324.5 48.42 322 48.6C319.5 48.78 316.17 51.35 315 49.5C313.83 47.65 313.83 39.38 315 37.5Z" fill="#1a1a1a" fill-opacity="0.45"/>
<ellipse cx="317.4" cy="43.4" rx="2.6" ry="5.8" fill="#0a0a0a"/>
<ellipse cx="316.6" cy="43.2" rx="0.9" ry="1.3" fill="#ddd"/>
<ellipse cx="330.2" cy="43.0" rx="5.0" ry="4.6" fill="#0a0a0a"/>
<ellipse cx="330.2" cy="43.0" rx="2.6" ry="1.6" fill="#b8b8b8"/>
<ellipse cx="330.2" cy="43.0" rx="1.0" ry="0.8" fill="#fff"/>
<ellipse cx="341.6" cy="43.0" rx="5.0" ry="4.6" fill="#0a0a0a"/>
<ellipse cx="341.6" cy="43.0" rx="2.6" ry="1.6" fill="#b8b8b8"/>
<ellipse cx="341.6" cy="43.0" rx="1.0" ry="0.8" fill="#fff"/>
<path d="M320.5 39.5 L325 46.5 M320.5 46.5 L325 39.5" stroke="#cfcfcf" stroke-width="0.8"/>
</g>
<g clip-path="url(#c7)">
<g fill="#000" fill-opacity="0.03" stroke="#1a1a1a" stroke-width="0.45" stroke-linejoin="round">
<path d="M361.8 191.0L358.0 191.1 353.5 190.8 348.8 190.1 343.0 188.8 336.2 187.1 330.8 185.4 326.0 183.6 321.2 181.4 321.0 181.5 320.4 187.5 319.8 189.2 319.2 189.5 318.5 189.7 315.5 189.7 314.5 189.4 313.9 188.5 313.4 186.2 313.0 176.2 312.8 175.0 311.9 173.2 311.7 172.0 312.3 166.8 313.0 163.0 313.0 160.6 312.8 160.2 309.8 158.5 309.3 157.8 309.4 157.0 312.3 154.5 313.8 152.2 314.5 151.7 315.5 151.6 318.8 151.9 322.2 153.0 325.3 153.8 332.5 154.5 334.2 154.6 335.5 154.3 340.2 152.3 342.0 151.9 344.2 151.6 347.5 151.7 349.8 151.9 352.0 152.5 354.0 153.6 355.8 155.0 357.2 157.0 358.1 159.2 358.7 162.0 358.9 166.0 358.7 169.5 358.1 172.0 356.7 175.8 356.7 176.8 357.5 177.5 362.2 179.2 364.8 180.6 365.8 181.5 366.5 182.5 367.5 185.0 367.7 187.5 367.4 188.5 366.9 189.2 366.0 189.9 365.0 190.4 361.8 191.0Z"/>
<path d="M360.5 190.3L356.8 190.4 352.2 190.0 347.8 189.3 341.2 187.8 334.8 186.1 330.0 184.6 325.2 182.6 321.2 180.6 321.0 180.8 320.4 187.2 319.8 189.0 319.2 189.3 318.5 189.5 315.5 189.5 314.5 189.2 314.0 188.6 313.7 187.5 313.3 184.8 312.9 171.8 313.1 160.2 312.8 159.7 311.2 158.9 310.5 158.2 310.2 157.8 310.3 157.0 313.0 154.6 314.2 152.6 315.0 152.3 316.0 152.1 319.0 152.3 321.8 153.2 325.3 154.0 333.2 154.8 335.8 154.6 340.5 152.7 344.2 152.1 347.5 152.1 349.8 152.4 351.8 152.9 353.8 153.9 355.6 155.5 356.9 157.5 357.9 160.0 358.4 162.8 358.5 167.0 358.2 170.0 357.4 172.8 355.9 176.0 355.8 177.0 356.2 177.5 357.0 178.0 361.2 179.4 363.7 180.8 365.4 182.5 366.2 184.5 366.2 186.8 365.9 187.8 365.3 188.5 363.5 189.6 360.5 190.3Z"/>
<path d="M359.0 189.5L355.0 189.6 350.5 189.1 345.5 188.2 338.0 186.4 332.8 184.9 328.5 183.4 324.8 181.7 321.2 179.8 321.0 179.9 320.8 181.8 320.4 187.0 319.8 188.7 319.2 189.1 318.5 189.2 315.5 189.2 314.5 189.0 314.0 188.3 313.7 187.2 313.4 184.2 313.1 172.2 313.2 160.5 313.0 159.4 311.7 158.5 311.1 157.8 311.1 157.2 311.4 156.8 313.0 155.4 314.0 153.6 314.5 153.1 316.5 152.6 319.0 152.7 321.0 153.5 325.3 154.2 333.5 155.1 336.0 155.0 340.8 153.1 344.5 152.5 347.5 152.5 349.8 152.8 351.8 153.4 353.5 154.3 355.4 156.0 356.7 158.0 357.6 160.5 358.0 163.5 358.0 167.5 357.6 170.5 356.8 173.0 354.9 176.5 354.9 177.5 355.8 178.3 360.2 179.7 362.5 180.9 364.2 182.5 364.9 184.2 364.7 186.2 363.8 187.8 361.8 188.9 359.0 189.5Z"/>
<path d="M318.8 189.0L315.8 189.0 314.8 188.9 314.0 188.0 313.6 186.2 313.4 182.8 313.2 172.8 313.3 159.8 313.0 158.7 312.3 158.0 312.1 157.5 312.2 157.0 313.2 155.7 314.2 153.7 314.8 153.4 315.5 153.2 318.8 153.1 320.8 153.8 323.4 154.2 334.8 155.5 336.8 155.2 340.0 153.8 342.0 153.3 344.2 153.0 347.5 153.0 349.8 153.3 351.5 153.9 353.2 154.8 354.8 156.1 356.1 158.0 357.2 160.8 357.6 163.8 357.6 167.5 357.2 170.2 356.6 172.2 355.6 174.2 353.8 176.8 353.5 177.8 353.8 178.2 354.5 178.7 359.8 180.4 361.2 181.1 362.4 182.0 363.2 183.2 363.5 184.5 363.2 185.8 362.4 187.0 361.5 187.6 360.2 188.2 357.0 188.8 352.8 188.7 347.8 187.9 337.0 185.4 331.2 183.7 325.8 181.4 321.2 178.8 321.0 178.9 320.8 180.5 320.6 184.5 320.2 187.5 319.7 188.5 319.2 188.9 318.8 189.0Z"/>
<path d="M318.8 188.8L315.8 188.8 314.8 188.6 314.0 187.8 313.6 186.0 313.3 176.5 313.3 160.2 313.0 157.2 313.9 154.8 314.5 153.9 315.8 153.5 318.8 153.4 319.5 153.6 320.8 154.2 335.0 155.9 337.0 155.6 340.2 154.3 342.0 153.8 344.2 153.5 347.5 153.5 349.8 153.9 351.5 154.4 353.0 155.3 354.4 156.5 355.9 158.8 356.8 161.5 357.1 164.8 357.0 168.8 356.5 171.0 355.7 173.0 354.5 174.8 352.1 177.5 351.8 178.2 352.1 178.8 353.0 179.2 358.2 180.7 360.6 182.0 361.5 183.0 361.8 184.0 361.6 185.2 360.9 186.2 360.0 186.9 358.8 187.4 355.5 187.9 351.5 187.7 347.0 186.9 336.2 184.4 331.0 182.8 326.0 180.7 323.5 179.2 321.2 177.6 321.0 177.6 320.8 179.1 320.5 185.2 320.2 187.0 319.7 188.2 319.2 188.6 318.8 188.8ZM333.6 160.8L333.7 160.5 333.5 160.3 333.2 160.2 332.8 160.5 333.0 160.9 333.6 160.8Z"/>
<path d="M318.8 188.5L315.8 188.6 314.8 188.4 314.1 187.5 313.6 185.5 313.4 176.8 313.3 157.5 313.8 155.2 314.5 154.3 315.8 153.9 319.0 153.8 320.8 154.6 328.2 155.4 335.0 156.5 336.8 156.2 340.2 154.9 342.2 154.3 344.5 154.1 347.5 154.1 349.5 154.4 351.2 154.9 352.8 155.8 354.1 157.0 355.6 159.2 356.4 162.0 356.6 166.5 356.2 170.0 355.4 172.2 354.2 174.2 352.5 175.9 349.4 178.0 349.0 178.8 349.3 179.2 350.2 179.8 356.2 181.2 358.6 182.2 359.4 183.0 359.7 183.8 359.6 184.8 359.0 185.5 357.8 186.2 356.2 186.6 354.2 186.8 352.0 186.7 348.5 186.2 335.8 183.3 331.2 182.0 327.2 180.3 324.0 178.4 321.0 175.9 320.8 177.4 320.2 186.5 319.8 187.9 319.2 188.4 318.8 188.5ZM334.2 162.0L334.8 161.4 335.0 160.5 334.9 159.8 334.5 159.4 333.8 159.2 332.8 159.3 331.7 159.8 331.2 160.2 331.3 161.0 332.2 161.8 333.2 162.2 334.2 162.0ZM321.3 166.0L322.1 165.2 322.3 164.5 321.8 163.2 321.0 162.1 320.9 165.0 321.0 165.9 321.3 166.0Z"/>
<path d="M318.8 188.3L315.8 188.3 314.8 188.1 314.1 187.2 313.7 185.2 313.4 174.5 313.5 158.0 313.8 155.8 314.5 154.6 315.8 154.2 319.0 154.1 320.8 155.1 328.8 155.8 331.2 156.3 333.3 157.0 334.4 157.8 330.6 159.5 330.1 160.0 329.9 160.5 330.2 161.2 331.2 162.3 332.5 163.2 333.5 163.5 334.2 163.3 334.8 163.0 335.8 161.0 335.9 159.5 335.1 157.8 339.2 155.9 341.2 155.1 344.8 154.6 349.0 154.9 351.8 155.9 353.8 157.5 354.6 158.8 355.2 160.0 356.0 163.2 356.0 168.0 355.7 169.8 355.1 171.5 353.8 173.8 352.0 175.3 349.5 176.6 345.2 178.0 344.5 178.5 344.3 179.2 345.0 180.2 346.8 181.1 348.8 181.6 353.2 182.1 355.2 182.7 356.3 183.5 356.3 184.0 356.0 184.5 355.1 185.0 354.0 185.2 351.2 185.1 344.2 183.4 335.8 182.1 331.8 181.0 327.8 179.3 324.8 177.4 322.6 175.2 321.0 172.6 320.2 186.0 319.8 187.6 319.2 188.1 318.8 188.3ZM321.3 169.0L322.5 168.0 324.9 167.0 325.1 166.8 325.3 166.2 324.7 165.0 323.0 162.8 321.9 161.5 321.0 160.9 320.8 161.3 320.7 162.0 320.8 166.8 321.0 169.2 321.3 169.0Z"/>
<path d="M318.5 188.0L315.2 188.0 314.8 187.8 314.3 187.2 313.9 186.0 313.7 184.5 313.5 179.2 313.7 157.0 314.1 155.5 314.8 154.8 315.5 154.6 318.2 154.4 319.5 154.6 320.8 155.5 323.8 155.6 327.5 156.1 330.0 156.6 331.4 157.2 331.6 157.5 331.4 158.0 328.8 159.8 328.4 160.2 328.3 160.8 328.7 161.5 331.3 164.2 332.0 165.5 331.8 166.0 331.0 166.1 329.8 166.0 328.5 165.6 326.5 164.3 323.3 161.2 321.2 160.1 321.0 160.1 320.8 160.2 320.6 163.0 320.7 173.0 320.3 184.2 320.1 186.0 319.8 187.2 319.2 187.8 318.5 188.0ZM342.8 176.8L341.0 176.7 339.5 176.4 338.2 175.9 337.5 175.2 336.6 174.0 335.9 172.5 333.6 167.2 333.5 166.2 334.8 164.9 335.5 163.7 336.5 161.1 337.2 158.2 337.8 157.5 338.5 157.0 341.0 155.9 343.8 155.3 347.5 155.3 350.2 155.9 351.8 156.6 353.1 157.8 354.2 159.2 354.9 161.0 355.4 163.2 355.5 166.2 355.3 168.5 354.8 170.5 354.2 172.0 353.3 173.2 352.2 174.3 351.0 175.1 348.0 176.1 342.8 176.8ZM336.2 179.8L334.2 179.8 331.8 179.2 329.2 178.3 327.1 177.0 325.4 175.5 324.3 174.0 323.8 172.2 324.1 171.0 325.0 170.3 326.5 170.3 328.2 170.8 330.2 172.0 335.8 176.2 336.8 177.2 337.4 178.2 337.4 179.0 337.0 179.5 336.2 179.8Z"/>
<path d="M319.0 187.6L315.5 187.7 315.0 187.6 314.5 187.2 314.1 186.5 313.9 185.2 313.6 181.5 313.6 164.0 313.8 157.0 314.2 155.8 314.8 155.2 315.8 154.9 318.2 154.8 319.5 155.0 320.8 156.1 323.8 156.1 326.9 156.5 328.7 157.0 329.2 157.2 329.5 157.8 329.2 158.2 328.5 158.8 326.5 159.9 325.5 160.2 324.2 160.2 321.0 159.3 320.8 159.4 320.5 161.2 320.5 171.5 320.3 183.2 319.9 186.5 319.5 187.2 319.0 187.6ZM346.0 175.5L343.8 175.6 342.0 175.4 340.5 175.0 339.2 174.3 338.1 173.2 337.0 171.8 336.2 170.0 335.8 168.2 335.7 167.2 335.9 166.0 337.1 161.5 338.2 158.6 339.0 157.8 340.0 157.1 341.5 156.5 343.0 156.1 345.0 156.0 347.8 156.1 349.5 156.4 351.0 157.0 352.3 158.0 353.4 159.2 354.1 160.8 354.6 162.8 354.8 165.5 354.7 168.2 354.2 170.2 353.3 172.0 352.0 173.5 350.5 174.5 348.5 175.2 346.0 175.5Z"/>
<path d="M318.8 187.3L315.5 187.3 315.0 187.2 314.5 186.8 313.9 184.8 313.7 180.2 313.7 163.8 313.9 157.2 314.4 156.0 315.0 155.4 318.2 155.1 319.5 155.4 320.8 156.9 322.8 156.7 324.5 156.8 326.4 157.2 327.0 157.8 326.5 158.4 325.2 158.9 323.2 159.0 321.0 158.4 320.8 158.5 320.5 159.2 320.2 183.5 319.8 186.3 319.2 187.1 318.8 187.3ZM347.0 174.5L343.2 174.6 341.8 174.2 340.5 173.7 339.5 173.0 338.5 172.0 337.8 170.8 337.2 169.2 336.9 167.8 337.0 166.0 337.6 162.8 338.4 160.5 339.0 159.2 339.9 158.2 341.0 157.6 342.2 157.1 344.2 156.8 346.8 156.8 348.5 157.0 350.0 157.5 351.2 158.2 352.4 159.2 353.1 160.5 353.7 162.0 354.0 164.2 354.1 167.2 353.8 169.0 353.1 170.8 352.1 172.2 350.8 173.4 349.0 174.1 347.0 174.5Z"/>
<path d="M319.0 186.8L315.8 187.0 314.8 186.7 314.3 186.0 314.1 185.0 313.8 181.5 313.8 163.2 314.0 157.5 314.4 156.5 315.0 155.8 318.2 155.5 319.2 155.6 319.8 156.0 320.2 156.8 320.4 158.0 320.1 182.8 319.8 185.7 319.5 186.3 319.0 186.8ZM347.2 173.5L343.8 173.6 341.5 173.0 340.5 172.4 339.6 171.5 338.9 170.5 338.4 169.2 338.1 167.8 338.1 166.2 338.4 163.5 338.9 161.8 339.5 160.5 340.2 159.4 341.2 158.6 342.5 158.0 344.2 157.7 346.2 157.7 348.0 157.8 349.2 158.2 350.5 158.8 351.5 159.7 352.2 160.8 352.8 162.0 353.2 164.0 353.3 166.8 353.1 168.5 352.5 170.0 351.7 171.2 350.5 172.4 349.0 173.1 347.2 173.5Z"/>
<path d="M318.2 186.5L315.8 186.5 315.0 186.3 314.5 185.8 314.2 184.8 313.9 180.2 313.9 164.0 314.0 158.8 314.5 156.8 315.0 156.3 315.5 156.2 318.5 155.9 319.2 156.1 319.7 156.5 320.1 158.0 320.2 176.0 320.1 181.8 319.8 184.8 319.2 186.2 318.2 186.5ZM347.8 172.3L344.8 172.5 342.5 172.0 340.8 170.9 339.7 169.2 339.4 168.0 339.3 166.5 339.3 164.2 339.6 162.8 340.2 161.5 340.9 160.5 341.8 159.7 342.8 159.2 345.2 158.8 347.0 158.8 348.5 159.1 349.5 159.6 350.5 160.3 351.2 161.2 351.7 162.2 352.2 164.0 352.4 166.0 352.4 167.2 352.1 168.5 351.5 169.8 350.4 171.0 349.2 171.8 347.8 172.3Z"/>
<path d="M319.0 185.8L318.2 186.0 315.8 186.0 315.2 185.9 314.8 185.5 314.2 184.0 314.0 180.8 314.0 164.0 314.3 158.5 314.5 157.5 315.0 156.9 315.8 156.6 318.2 156.4 319.0 156.5 319.6 157.0 319.8 157.8 320.0 159.2 320.0 181.2 319.7 184.5 319.4 185.2 319.0 185.8ZM347.8 170.8L345.2 171.0 343.5 170.7 342.2 170.0 341.2 168.8 340.6 166.5 340.6 163.8 341.4 162.0 342.1 161.2 343.0 160.7 345.2 160.3 346.8 160.3 348.0 160.6 349.5 161.5 350.7 163.2 351.5 165.8 351.5 166.8 351.3 167.8 350.8 168.8 350.0 169.6 349.0 170.3 347.8 170.8Z"/>
<path d="M318.5 185.3L315.5 185.3 314.8 184.8 314.3 182.8 314.1 178.5 314.1 163.2 314.5 158.8 314.8 157.9 315.2 157.4 318.2 157.1 319.2 157.4 319.6 158.2 319.9 165.2 319.8 182.2 319.4 184.5 319.0 185.1 318.5 185.3ZM347.8 169.0L346.5 169.1 344.8 168.8 343.8 168.3 342.9 167.5 342.1 166.2 341.8 164.8 342.1 163.5 342.8 162.6 344.2 162.0 346.5 162.0 348.2 162.6 349.5 163.8 350.4 165.5 350.5 167.0 350.1 167.8 349.5 168.3 347.8 169.0Z"/>
<path d="M318.0 184.5L315.2 184.3 314.8 183.7 314.5 182.8 314.3 178.5 314.3 164.8 314.5 160.3 315.0 158.6 315.8 158.2 318.2 157.9 318.8 158.0 319.2 158.5 319.6 160.5 319.7 176.8 319.4 183.0 319.0 184.1 318.5 184.4 318.0 184.5ZM347.8 167.8L345.8 167.6 344.0 166.6 343.4 165.8 343.2 165.0 343.3 164.2 343.6 163.8 344.5 163.2 346.0 163.2 347.5 163.6 348.5 164.3 349.3 165.2 349.4 166.5 348.8 167.4 347.8 167.8Z"/>
<path d="M318.0 183.3L315.5 183.1 315.0 182.6 314.8 181.8 314.6 178.0 314.5 165.5 314.7 161.5 315.2 160.0 315.8 159.6 318.2 159.3 318.8 159.5 319.0 159.9 319.4 162.0 319.5 176.2 319.2 181.8 318.8 183.0 318.0 183.3ZM347.5 166.5L346.5 166.6 345.5 166.2 344.9 165.5 345.0 164.8 345.3 164.5 346.0 164.4 347.3 164.8 347.8 165.2 348.0 165.8 347.8 166.2 347.5 166.5Z"/>
</g>
<path d="M344 154.5 C 336 155.5 334.5 163 336.5 169 C 338 173 341 176 345 177" fill="none" stroke="#111" stroke-width="1.6"/>
<ellipse cx="345.9" cy="166.0" rx="10.3" ry="11.0" fill="none" stroke="#1a1a1a" stroke-width="0.8"/>
<ellipse cx="374.2" cy="183.4" rx="2.2" ry="1.5" fill="none" stroke="#333" stroke-width="0.6"/>
<ellipse cx="347" cy="165.2" rx="3.6" ry="1.2" fill="#f6f6f6" transform="rotate(22 347 165.2)"/>
<path d="M314.8 153.2C315.33 147.1 317.17 152.87 318 154C318.83 155.13 319.57 157 319.8 160C320.03 163 319.57 168.33 319.4 172C319.23 175.67 319.15 179.08 318.8 182C318.45 184.92 317.97 188.07 317.3 189.5C316.63 190.93 315.22 196.65 314.8 190.6C314.38 184.55 314.27 159.3 314.8 153.2Z" fill="#555" stroke="#333" stroke-width="0.4" fill-opacity="0.75"/>
<path d="M316.2 155.5C316.6 156 318.07 156.75 318.6 158.5C319.13 160.25 319.33 163.08 319.4 166C319.47 168.92 319.2 173 319 176C318.8 179 318.6 181.83 318.2 184C317.8 186.17 316.87 188.17 316.6 189" fill="none" stroke="#0a0a0a" stroke-width="1.7"/>
<ellipse cx="316.8" cy="157.0" rx="2.0" ry="2.6" fill="#111"/>
</g>
<g clip-path="url(#c4)">
<g fill="none" fill-opacity="1" stroke="#1a1a1a" stroke-width="0.5" stroke-linejoin="round">
<path d="M469.0 76.0L467.8 76.2 466.5 76.0 465.2 75.4 464.2 74.5 463.0 72.9 461.1 69.2 460.0 67.8 458.8 66.5 455.2 63.8 453.8 62.2 452.6 60.0 452.1 57.8 452.1 55.5 452.6 53.2 453.7 51.0 455.0 49.2 457.2 47.3 459.8 45.9 462.2 44.9 465.0 44.3 468.0 44.2 471.0 44.5 473.8 45.4 476.2 46.6 478.4 48.2 480.1 50.2 481.2 52.2 481.8 54.8 481.9 56.2 481.6 58.0 481.1 59.8 480.3 61.2 479.1 63.0 475.3 67.5 472.9 72.2 472.0 73.8 470.5 75.3 469.0 76.0ZM428.5 64.5L427.8 64.6 426.8 64.3 425.2 63.0 424.1 60.8 423.7 58.2 423.9 55.8 424.8 53.2 426.2 51.6 427.8 51.0 428.8 51.1 429.5 51.5 430.8 52.8 431.8 54.8 432.3 57.2 432.1 59.8 431.4 62.0 430.0 63.8 428.5 64.5ZM464.0 102.8L462.2 102.9 460.5 102.4 459.0 101.2 458.2 99.8 458.0 98.0 458.5 96.5 459.5 95.2 461.0 94.4 463.0 94.0 464.8 94.4 466.4 95.5 467.3 97.0 467.6 98.8 467.1 100.5 465.8 102.0 464.0 102.8ZM451.0 101.5L449.8 101.6 448.5 101.1 447.5 100.3 447.0 99.2 446.9 98.0 447.3 97.0 448.2 96.0 449.2 95.5 450.8 95.4 452.0 95.8 453.0 96.6 453.6 97.8 453.7 99.0 453.1 100.2 452.2 101.1 451.0 101.5Z"/>
<path d="M468.5 73.6L467.0 73.5 465.5 72.7 464.4 71.5 462.4 68.5 461.2 67.0 455.4 62.2 453.9 60.0 453.5 58.8 453.2 57.2 453.3 55.0 453.9 53.0 455.0 51.0 456.5 49.4 458.8 47.6 461.0 46.4 463.5 45.6 466.0 45.2 468.5 45.2 471.2 45.6 473.5 46.3 475.8 47.5 477.8 49.2 479.2 51.0 480.2 53.0 480.6 55.0 480.6 56.5 480.3 58.2 479.8 59.8 478.9 61.2 473.9 67.0 470.8 72.1 469.8 73.0 468.5 73.6ZM428.5 63.3L427.8 63.4 427.0 63.1 425.8 62.1 424.8 60.2 424.5 58.2 424.7 56.0 425.4 54.0 426.5 52.8 427.2 52.4 428.0 52.2 429.2 52.6 430.4 53.8 431.2 55.5 431.5 57.5 431.4 59.5 430.8 61.3 429.8 62.6 428.5 63.3ZM463.8 102.1L462.2 102.1 460.8 101.6 459.7 100.8 459.0 99.5 458.9 98.0 459.3 96.8 460.2 95.7 461.5 95.0 463.0 94.8 464.6 95.2 465.9 96.2 466.6 97.5 466.7 99.0 466.2 100.3 465.2 101.4 463.8 102.1ZM451.0 100.8L450.0 100.8 449.0 100.5 448.3 100.0 447.8 99.2 447.7 98.2 448.0 97.5 448.5 96.8 449.2 96.3 450.2 96.1 451.2 96.3 452.2 96.9 452.8 97.8 452.9 98.8 452.7 99.5 452.0 100.3 451.0 100.8Z"/>
<path d="M467.8 71.0L467.0 70.9 466.0 70.3 462.1 66.2 456.2 61.7 455.3 60.5 454.7 59.2 454.2 56.8 454.3 54.8 455.1 52.8 456.2 51.0 457.8 49.4 459.8 48.0 462.0 46.9 464.5 46.2 466.8 45.9 469.2 46.0 471.8 46.6 473.8 47.4 475.8 48.6 477.3 50.0 478.5 51.8 479.3 53.5 479.6 55.5 479.6 57.0 479.2 58.5 478.5 60.0 477.6 61.5 472.8 66.5 470.0 69.9 469.0 70.7 467.8 71.0ZM428.2 62.3L427.2 62.1 426.2 61.2 425.5 59.8 425.2 58.0 425.3 56.2 425.9 54.8 426.8 53.8 428.0 53.3 429.0 53.6 429.9 54.5 430.5 55.8 430.8 57.5 430.7 59.2 430.1 60.8 429.2 61.8 428.2 62.3ZM463.8 101.3L462.5 101.4 461.5 101.2 460.5 100.5 459.8 99.5 459.6 98.2 459.9 97.2 460.5 96.5 461.5 95.8 462.8 95.6 464.0 95.8 465.1 96.5 465.8 97.5 466.0 98.8 465.7 99.8 464.8 100.8 463.8 101.3ZM450.8 100.0L449.5 99.9 449.0 99.5 448.7 99.0 448.6 98.2 448.8 97.8 449.8 97.0 451.0 97.1 451.6 97.5 451.9 98.0 452.0 98.8 451.8 99.2 451.3 99.8 450.8 100.0Z"/>
<path d="M468.5 67.8L467.2 67.9 466.0 67.4 458.6 62.2 457.2 61.1 456.4 60.0 455.7 58.8 455.3 57.5 455.3 55.8 455.7 54.0 456.6 52.2 457.8 50.8 459.2 49.4 461.2 48.2 463.2 47.4 465.2 46.9 467.5 46.8 469.8 47.0 472.0 47.6 474.0 48.5 475.7 49.8 477.1 51.2 478.0 53.0 478.5 54.8 478.6 56.2 478.3 58.0 477.7 59.5 476.7 61.0 475.0 62.9 472.5 65.1 470.0 67.0 468.5 67.8ZM428.2 60.8L427.5 60.7 426.8 60.1 426.2 59.0 426.1 58.0 426.2 56.8 426.6 55.8 427.2 55.0 428.0 54.8 428.8 55.0 429.2 55.5 429.7 56.5 429.9 57.5 429.8 58.8 429.5 59.7 429.0 60.4 428.2 60.8ZM463.8 100.3L463.0 100.5 462.2 100.4 461.5 100.1 460.9 99.5 460.7 98.8 460.7 98.0 461.5 96.9 462.2 96.6 463.2 96.5 464.0 96.8 464.7 97.5 464.9 98.2 464.9 99.0 464.5 99.8 463.8 100.3Z"/>
<path d="M468.5 65.8L467.0 65.8 465.5 65.4 463.5 64.4 460.8 62.7 458.9 61.2 457.8 60.1 456.9 58.8 456.5 57.5 456.4 56.0 456.6 54.5 457.3 53.0 458.3 51.5 459.6 50.2 461.2 49.1 463.0 48.3 464.8 47.8 466.8 47.5 469.0 47.6 471.0 48.1 473.0 48.9 474.7 50.0 475.9 51.2 476.9 52.8 477.5 54.5 477.6 56.0 477.3 57.8 476.7 59.2 475.7 60.8 474.2 62.3 472.2 63.9 470.2 65.2 468.5 65.8Z"/>
<path d="M468.8 64.3L467.5 64.4 466.0 64.2 464.2 63.5 462.5 62.6 459.4 60.2 458.4 59.0 457.8 57.8 457.6 56.5 457.6 55.2 458.1 53.8 458.8 52.5 459.8 51.4 461.0 50.4 462.5 49.5 464.0 48.9 465.8 48.5 467.8 48.4 469.8 48.6 471.5 49.1 473.1 50.0 474.5 51.1 475.6 52.5 476.3 54.0 476.6 55.5 476.5 57.0 476.0 58.5 475.1 60.0 473.8 61.5 472.2 62.6 470.5 63.7 468.8 64.3Z"/>
<path d="M468.5 63.0L467.2 63.1 465.8 62.9 464.2 62.4 462.8 61.6 460.3 59.5 459.5 58.5 459.0 57.2 458.8 56.2 458.9 55.0 459.4 53.8 460.0 52.8 460.9 51.8 462.0 50.8 464.5 49.6 466.2 49.3 468.0 49.2 469.8 49.5 471.2 50.0 472.6 50.8 473.8 51.8 474.7 53.0 475.3 54.2 475.5 55.5 475.4 57.0 474.9 58.2 474.2 59.5 473.0 60.8 471.5 61.9 470.0 62.6 468.5 63.0Z"/>
<path d="M469.0 61.8L466.8 61.9 464.2 61.2 462.0 59.7 460.5 57.8 460.1 56.0 460.6 54.0 461.8 52.2 463.8 50.9 465.2 50.4 466.8 50.1 468.2 50.2 469.8 50.5 471.1 51.0 472.3 51.8 473.2 52.7 473.9 53.8 474.3 55.0 474.3 56.2 474.1 57.5 473.6 58.5 472.8 59.6 471.7 60.5 470.5 61.2 469.0 61.8Z"/>
<path d="M468.2 60.8L466.2 60.7 464.2 60.0 462.5 58.5 461.6 57.0 461.5 55.2 462.1 53.8 463.5 52.3 465.2 51.4 467.8 51.1 470.0 51.6 471.8 52.8 472.4 53.5 472.9 54.5 473.2 55.5 473.1 56.5 472.8 57.5 472.2 58.5 470.5 60.0 468.2 60.8Z"/>
<path d="M468.8 59.6L467.0 59.7 465.5 59.4 464.2 58.7 463.2 57.5 462.7 56.2 462.8 55.0 463.5 53.8 464.5 52.9 466.2 52.2 468.2 52.1 470.0 52.8 471.4 54.0 472.0 55.5 471.9 56.5 471.6 57.2 470.5 58.7 468.8 59.6Z"/>
</g>
<path d="M460 47.5C461.47 46.88 464 46.47 466 46.3C468 46.13 470.25 46.05 472 46.5C473.75 46.95 475.5 47.75 476.5 49C477.5 50.25 478 52.25 478 54C478 55.75 477.42 58 476.5 59.5C475.58 61 474.08 62.22 472.5 63C470.92 63.78 468.83 64.2 467 64.2C465.17 64.2 463.08 63.78 461.5 63C459.92 62.22 458.33 61 457.5 59.5C456.67 58 456.55 55.58 456.5 54C456.45 52.42 456.62 51.08 457.2 50C457.78 48.92 458.53 48.12 460 47.5Z" fill="#111" fill-opacity="0.68"/>
<circle cx="467.4" cy="57.0" r="0.8" fill="#fff"/>
<rect x="428.2" y="97.5" width="83.1" height="1.3" fill="#222" stroke="none" stroke-width="1"/>
</g>
<g clip-path="url(#c8)">
<g fill="none" fill-opacity="1" stroke="#1a1a1a" stroke-width="0.5" stroke-linejoin="round">
<path d="M458.2 200.0L457.2 200.2 456.2 199.8 455.4 198.8 455.0 197.5 454.9 195.0 456.0 190.8 456.0 189.8 455.7 188.8 455.0 187.8 452.5 185.5 451.3 184.2 450.4 182.8 449.7 181.0 449.4 179.0 449.5 177.0 450.0 175.0 451.0 173.0 453.0 170.2 455.8 167.9 459.2 165.8 463.0 164.5 467.0 163.9 471.0 163.9 474.8 164.7 478.0 166.1 480.3 167.8 482.2 169.8 483.4 172.0 484.0 174.8 483.9 177.0 483.4 179.2 479.8 187.2 479.0 188.4 478.1 189.2 477.0 189.9 475.8 190.4 473.5 190.6 467.5 190.2 466.0 190.4 465.0 190.8 464.0 191.6 462.9 193.0 459.8 198.8 459.0 199.6 458.2 200.0ZM463.5 223.5L461.5 223.6 459.8 223.2 458.1 222.0 457.1 220.5 456.8 218.8 457.2 217.2 458.2 215.8 459.8 214.8 461.8 214.3 464.0 214.6 466.0 215.7 467.2 217.2 467.5 218.2 467.6 219.2 467.1 221.0 466.3 222.0 465.5 222.7 463.5 223.5Z"/>
<path d="M457.5 198.8L456.8 198.5 456.3 198.0 456.0 197.2 455.8 196.2 456.0 194.5 457.3 191.0 457.4 189.8 457.2 188.5 456.3 187.0 453.8 184.5 452.6 183.0 451.8 181.5 451.3 179.8 451.1 178.0 451.4 176.2 451.9 174.5 452.9 172.8 454.9 170.2 457.5 168.2 460.5 166.6 464.2 165.4 467.8 165.0 471.2 165.2 474.5 165.9 477.5 167.3 479.5 168.9 481.0 170.8 482.1 173.0 482.5 175.2 482.4 177.2 481.9 179.2 478.5 186.3 477.0 188.0 475.0 188.9 473.2 189.1 467.2 189.0 465.5 189.2 464.3 189.8 463.1 190.8 461.8 192.5 459.2 197.8 458.4 198.5 457.5 198.8ZM462.5 222.8L461.0 222.6 459.5 222.0 458.3 220.8 457.9 219.5 458.0 218.0 458.7 216.8 460.0 215.8 461.5 215.3 463.2 215.3 464.8 215.9 465.9 217.0 466.5 218.5 466.4 220.0 465.5 221.5 464.2 222.3 462.5 222.8Z"/>
<path d="M460.2 191.1L459.8 191.1 459.5 190.8 458.8 188.5 458.2 187.2 457.2 186.0 454.3 183.0 453.5 181.8 452.9 180.2 452.6 178.2 452.9 176.2 453.6 174.2 454.8 172.2 456.8 170.2 459.5 168.3 462.5 167.0 465.8 166.2 469.0 166.0 472.2 166.4 475.0 167.3 477.5 168.8 479.0 170.2 480.2 172.0 481.0 174.0 481.2 176.0 480.9 178.0 480.2 180.0 478.6 183.0 477.1 185.5 475.8 186.7 474.0 187.5 472.2 187.7 467.0 187.9 464.8 188.3 463.2 189.0 460.2 191.1ZM457.8 196.5L457.4 196.2 457.3 195.5 457.8 194.6 458.2 194.2 458.6 194.5 458.6 195.5 458.2 196.2 457.8 196.5ZM463.0 221.8L461.8 221.8 460.8 221.6 459.8 220.9 459.1 220.0 458.9 219.0 459.1 218.0 459.8 217.1 460.8 216.4 462.0 216.2 463.5 216.4 464.5 217.0 465.3 218.0 465.5 219.2 465.1 220.2 464.2 221.2 463.0 221.8Z"/>
<path d="M462.2 187.8L461.0 187.8 460.0 187.2 456.0 183.0 454.5 180.8 454.0 178.8 454.1 176.5 454.8 174.5 456.0 172.5 458.0 170.5 460.2 169.0 463.0 167.8 466.0 167.1 469.0 167.0 472.0 167.4 474.5 168.3 476.8 169.6 478.1 171.0 479.1 172.5 479.8 174.2 479.9 176.0 479.7 177.8 479.1 179.5 478.0 181.8 476.5 183.9 475.0 185.3 473.0 186.2 465.5 187.1 462.2 187.8ZM463.0 220.6L462.2 220.7 461.5 220.6 460.5 219.9 460.2 218.8 460.5 218.1 461.0 217.6 461.8 217.3 462.8 217.3 463.5 217.7 464.0 218.2 464.2 218.8 464.1 219.5 463.8 220.1 463.0 220.6Z"/>
<path d="M464.0 186.3L462.0 186.3 460.5 185.7 457.7 183.2 456.1 181.2 455.3 179.2 455.2 177.2 455.7 175.2 456.7 173.2 458.3 171.5 460.5 169.9 462.8 168.8 465.5 168.1 468.2 167.8 471.0 168.1 473.5 168.9 475.5 170.0 476.7 171.0 477.7 172.2 478.4 173.8 478.8 175.2 478.8 176.8 478.4 178.2 477.7 180.0 476.8 181.6 474.8 183.8 472.8 185.0 470.0 185.6 464.0 186.3Z"/>
<path d="M466.8 185.0L464.0 185.1 462.2 184.9 460.8 184.3 459.1 183.0 457.6 181.2 456.7 179.5 456.5 177.8 456.8 175.8 457.6 174.0 459.0 172.3 460.8 170.9 462.8 169.9 465.0 169.1 467.5 168.8 469.8 168.9 472.0 169.4 473.5 170.0 474.8 170.8 475.8 171.8 476.7 173.0 477.3 174.2 477.5 175.5 477.5 176.8 477.2 178.2 476.5 179.8 475.7 181.0 474.6 182.2 473.4 183.2 470.8 184.4 466.8 185.0Z"/>
<path d="M466.5 184.0L464.2 184.0 462.5 183.7 461.0 182.9 459.6 181.8 458.5 180.2 457.9 178.8 457.8 177.2 458.2 175.5 459.0 174.0 460.2 172.6 461.8 171.5 463.8 170.5 465.8 170.0 468.0 169.8 470.0 169.9 472.0 170.5 474.2 171.9 475.7 173.8 476.1 174.8 476.3 176.0 476.2 177.2 475.8 178.5 474.4 180.8 472.3 182.5 469.8 183.5 466.5 184.0Z"/>
<path d="M468.0 182.8L466.2 182.9 464.5 182.9 463.2 182.6 462.0 182.0 461.0 181.2 460.0 180.1 459.5 179.0 459.2 177.8 459.3 176.5 459.6 175.5 460.3 174.2 461.3 173.2 462.5 172.3 463.8 171.7 465.2 171.1 467.0 170.9 470.0 171.1 472.5 172.1 473.5 172.9 474.2 173.8 474.7 174.8 474.9 176.0 474.9 177.0 474.5 178.2 473.8 179.5 473.0 180.4 470.8 182.0 468.0 182.8Z"/>
<path d="M467.0 181.8L464.2 181.5 463.2 181.2 462.2 180.5 461.3 179.5 460.9 178.5 460.7 177.5 460.9 176.2 461.4 175.0 462.2 174.0 463.2 173.2 464.5 172.6 467.2 172.0 468.8 172.0 470.0 172.3 471.5 173.0 472.8 174.2 473.4 175.8 473.3 177.5 472.5 179.0 471.0 180.4 469.2 181.3 467.0 181.8Z"/>
<path d="M467.5 180.5L465.5 180.5 463.8 179.9 463.0 179.2 462.5 178.5 462.2 177.0 462.7 175.5 464.0 174.2 466.0 173.3 468.0 173.1 469.7 173.5 470.9 174.2 471.8 175.4 471.9 176.8 471.5 178.0 470.5 179.2 469.2 180.0 467.5 180.5Z"/>
</g>
<path d="M460 169.5C461.5 168.88 464 168.47 466 168.3C468 168.13 470.25 168.05 472 168.5C473.75 168.95 475.5 169.75 476.5 171C477.5 172.25 478.08 174.33 478 176C477.92 177.67 477.08 179.58 476 181C474.92 182.42 473.17 183.75 471.5 184.5C469.83 185.25 467.83 185.53 466 185.5C464.17 185.47 462.03 185.05 460.5 184.3C458.97 183.55 457.55 182.38 456.8 181C456.05 179.62 455.97 177.5 456 176C456.03 174.5 456.33 173.08 457 172C457.67 170.92 458.5 170.12 460 169.5Z" fill="#111" fill-opacity="0.74"/>
<circle cx="467.2" cy="177.2" r="0.8" fill="#fff"/>
<circle cx="429.6" cy="173.3" r="0.8" fill="#333"/><circle cx="429.6" cy="188.5" r="0.8" fill="#333"/>
<rect x="440" y="217.3" width="70" height="1.1" fill="#555" stroke="none" stroke-width="1"/>
</g>
<text x="16.4" y="15.6" font-size="14.4" text-anchor="start" font-weight="bold" font-style="normal" fill="#000" stroke="#000" stroke-width="0.32">A</text>
<text x="6.2" y="65.3" font-size="12.6" text-anchor="start" font-weight="normal" font-style="italic" fill="#000" stroke="#000" stroke-width="0.28">KO</text>
<text x="6" y="185" font-size="12.6" text-anchor="start" font-weight="normal" font-style="italic" fill="#000" stroke="#000" stroke-width="0.28">WT</text>
<rect x="47.5" y="13.6" width="82.3" height="82.4" fill="none" stroke="#8a8a8a" stroke-width="0.9"/>
<rect x="180.6" y="14.8" width="82.8" height="82.2" fill="none" stroke="#8a8a8a" stroke-width="0.9"/>
<rect x="314.8" y="15.6" width="82.7" height="82.7" fill="none" stroke="#8a8a8a" stroke-width="0.9"/>
<rect x="428.2" y="15.5" width="83.1" height="82.9" fill="none" stroke="#5a5a5a" stroke-width="0.9"/>
<rect x="48.8" y="137.3" width="82.2" height="82.2" fill="none" stroke="#8a8a8a" stroke-width="0.9"/>
<rect x="180.8" y="136.5" width="82.6" height="83.2" fill="none" stroke="#8a8a8a" stroke-width="0.9"/>
<rect x="314.8" y="136.4" width="83" height="82.8" fill="none" stroke="#8a8a8a" stroke-width="0.9"/>
<rect x="428.6" y="136.4" width="82.7" height="82.5" fill="none" stroke="#5a5a5a" stroke-width="0.9"/>
<text x="45.6" y="24.8" font-size="6.1" text-anchor="end" fill="#262626">10<tspan dy="-2.75" font-size="4.27">5</tspan></text>
<text x="45.6" y="43.5" font-size="6.1" text-anchor="end" fill="#262626">10<tspan dy="-2.75" font-size="4.27">4</tspan></text>
<text x="45.6" y="62.2" font-size="6.1" text-anchor="end" fill="#262626">10<tspan dy="-2.75" font-size="4.27">3</tspan></text>
<text x="45.6" y="80.9" font-size="6.1" text-anchor="end" fill="#262626">10<tspan dy="-2.75" font-size="4.27">2</tspan></text>
<text x="178.7" y="25.3" font-size="6.1" text-anchor="end" fill="#262626">10<tspan dy="-2.75" font-size="4.27">5</tspan></text>
<text x="178.7" y="43.8" font-size="6.1" text-anchor="end" fill="#262626">10<tspan dy="-2.75" font-size="4.27">4</tspan></text>
<text x="178.7" y="62.3" font-size="6.1" text-anchor="end" fill="#262626">10<tspan dy="-2.75" font-size="4.27">3</tspan></text>
<text x="178.7" y="80.8" font-size="6.1" text-anchor="end" fill="#262626">10<tspan dy="-2.75" font-size="4.27">2</tspan></text>
<text x="312.9" y="24.4" font-size="6.1" text-anchor="end" fill="#262626">10<tspan dy="-2.75" font-size="4.27">5</tspan></text>
<text x="312.9" y="43.6" font-size="6.1" text-anchor="end" fill="#262626">10<tspan dy="-2.75" font-size="4.27">4</tspan></text>
<text x="312.9" y="62.8" font-size="6.1" text-anchor="end" fill="#262626">10<tspan dy="-2.75" font-size="4.27">3</tspan></text>
<text x="312.9" y="82" font-size="6.1" text-anchor="end" fill="#262626">10<tspan dy="-2.75" font-size="4.27">2</tspan></text>
<text x="46.9" y="148.9" font-size="6.1" text-anchor="end" fill="#262626">10<tspan dy="-2.75" font-size="4.27">5</tspan></text>
<text x="46.9" y="167.4" font-size="6.1" text-anchor="end" fill="#262626">10<tspan dy="-2.75" font-size="4.27">4</tspan></text>
<text x="46.9" y="185.9" font-size="6.1" text-anchor="end" fill="#262626">10<tspan dy="-2.75" font-size="4.27">3</tspan></text>
<text x="46.9" y="204.4" font-size="6.1" text-anchor="end" fill="#262626">10<tspan dy="-2.75" font-size="4.27">2</tspan></text>
<text x="178.9" y="148.7" font-size="6.1" text-anchor="end" fill="#262626">10<tspan dy="-2.75" font-size="4.27">5</tspan></text>
<text x="178.9" y="167" font-size="6.1" text-anchor="end" fill="#262626">10<tspan dy="-2.75" font-size="4.27">4</tspan></text>
<text x="178.9" y="185.3" font-size="6.1" text-anchor="end" fill="#262626">10<tspan dy="-2.75" font-size="4.27">3</tspan></text>
<text x="178.9" y="203.6" font-size="6.1" text-anchor="end" fill="#262626">10<tspan dy="-2.75" font-size="4.27">2</tspan></text>
<text x="312.9" y="148.9" font-size="6.1" text-anchor="end" fill="#262626">10<tspan dy="-2.75" font-size="4.27">5</tspan></text>
<text x="312.9" y="167.4" font-size="6.1" text-anchor="end" fill="#262626">10<tspan dy="-2.75" font-size="4.27">4</tspan></text>
<text x="312.9" y="185.9" font-size="6.1" text-anchor="end" fill="#262626">10<tspan dy="-2.75" font-size="4.27">3</tspan></text>
<text x="312.9" y="204.4" font-size="6.1" text-anchor="end" fill="#262626">10<tspan dy="-2.75" font-size="4.27">2</tspan></text>
<text x="426.6" y="17" font-size="4.2" text-anchor="end" fill="#262626">10<tspan dy="-1.89" font-size="2.94">4</tspan></text>
<text x="426.6" y="37.4" font-size="4.2" text-anchor="end" fill="#262626">10<tspan dy="-1.89" font-size="2.94">3</tspan></text>
<text x="426.6" y="57.8" font-size="4.2" text-anchor="end" fill="#262626">10<tspan dy="-1.89" font-size="2.94">2</tspan></text>
<text x="426.6" y="78.2" font-size="4.2" text-anchor="end" fill="#262626">10<tspan dy="-1.89" font-size="2.94">1</tspan></text>
<text x="426.6" y="98.6" font-size="4.2" text-anchor="end" fill="#262626">10<tspan dy="-1.89" font-size="2.94">0</tspan></text>
<text x="427" y="137.9" font-size="4.2" text-anchor="end" fill="#262626">10<tspan dy="-1.89" font-size="2.94">4</tspan></text>
<text x="427" y="158.2" font-size="4.2" text-anchor="end" fill="#262626">10<tspan dy="-1.89" font-size="2.94">3</tspan></text>
<text x="427" y="178.5" font-size="4.2" text-anchor="end" fill="#262626">10<tspan dy="-1.89" font-size="2.94">2</tspan></text>
<text x="427" y="198.8" font-size="4.2" text-anchor="end" fill="#262626">10<tspan dy="-1.89" font-size="2.94">1</tspan></text>
<text x="427" y="219.1" font-size="4.2" text-anchor="end" fill="#262626">10<tspan dy="-1.89" font-size="2.94">0</tspan></text>
<text x="59.61" y="104.2" font-size="6.1" text-anchor="start" fill="#262626">10<tspan dy="-2.75" font-size="4.27">2</tspan></text>
<text x="78.61" y="104.2" font-size="6.1" text-anchor="start" fill="#262626">10<tspan dy="-2.75" font-size="4.27">3</tspan></text>
<text x="97.61" y="104.2" font-size="6.1" text-anchor="start" fill="#262626">10<tspan dy="-2.75" font-size="4.27">4</tspan></text>
<text x="117.01" y="104.2" font-size="6.1" text-anchor="start" fill="#262626">10<tspan dy="-2.75" font-size="4.27">5</tspan></text>
<text x="194.51" y="103.9" font-size="6.1" text-anchor="start" fill="#262626">10<tspan dy="-2.75" font-size="4.27">2</tspan></text>
<text x="213.41" y="103.9" font-size="6.1" text-anchor="start" fill="#262626">10<tspan dy="-2.75" font-size="4.27">3</tspan></text>
<text x="232.61" y="103.9" font-size="6.1" text-anchor="start" fill="#262626">10<tspan dy="-2.75" font-size="4.27">4</tspan></text>
<text x="251.51" y="103.9" font-size="6.1" text-anchor="start" fill="#262626">10<tspan dy="-2.75" font-size="4.27">5</tspan></text>
<text x="329.31" y="104.9" font-size="6.1" text-anchor="start" fill="#262626">10<tspan dy="-2.75" font-size="4.27">2</tspan></text>
<text x="348.51" y="104.9" font-size="6.1" text-anchor="start" fill="#262626">10<tspan dy="-2.75" font-size="4.27">3</tspan></text>
<text x="367.51" y="104.9" font-size="6.1" text-anchor="start" fill="#262626">10<tspan dy="-2.75" font-size="4.27">4</tspan></text>
<text x="386.21" y="104.9" font-size="6.1" text-anchor="start" fill="#262626">10<tspan dy="-2.75" font-size="4.27">5</tspan></text>
<text x="59.21" y="228.6" font-size="6.1" text-anchor="start" fill="#262626">10<tspan dy="-2.75" font-size="4.27">2</tspan></text>
<text x="78.61" y="228.6" font-size="6.1" text-anchor="start" fill="#262626">10<tspan dy="-2.75" font-size="4.27">3</tspan></text>
<text x="98.11" y="228.6" font-size="6.1" text-anchor="start" fill="#262626">10<tspan dy="-2.75" font-size="4.27">4</tspan></text>
<text x="117.11" y="228.6" font-size="6.1" text-anchor="start" fill="#262626">10<tspan dy="-2.75" font-size="4.27">5</tspan></text>
<text x="195.11" y="228.7" font-size="6.1" text-anchor="start" fill="#262626">10<tspan dy="-2.75" font-size="4.27">2</tspan></text>
<text x="214.11" y="228.7" font-size="6.1" text-anchor="start" fill="#262626">10<tspan dy="-2.75" font-size="4.27">3</tspan></text>
<text x="233.21" y="228.7" font-size="6.1" text-anchor="start" fill="#262626">10<tspan dy="-2.75" font-size="4.27">4</tspan></text>
<text x="252.21" y="228.7" font-size="6.1" text-anchor="start" fill="#262626">10<tspan dy="-2.75" font-size="4.27">5</tspan></text>
<text x="328.11" y="228.5" font-size="6.1" text-anchor="start" fill="#262626">10<tspan dy="-2.75" font-size="4.27">2</tspan></text>
<text x="348.11" y="228.5" font-size="6.1" text-anchor="start" fill="#262626">10<tspan dy="-2.75" font-size="4.27">3</tspan></text>
<text x="367.41" y="228.5" font-size="6.1" text-anchor="start" fill="#262626">10<tspan dy="-2.75" font-size="4.27">4</tspan></text>
<text x="386.21" y="228.5" font-size="6.1" text-anchor="start" fill="#262626">10<tspan dy="-2.75" font-size="4.27">5</tspan></text>
<text x="425.26" y="105.6" font-size="4.2" text-anchor="start" fill="#262626">10<tspan dy="-1.89" font-size="2.94">0</tspan></text>
<text x="446.06" y="105.6" font-size="4.2" text-anchor="start" fill="#262626">10<tspan dy="-1.89" font-size="2.94">1</tspan></text>
<text x="466.76" y="105.6" font-size="4.2" text-anchor="start" fill="#262626">10<tspan dy="-1.89" font-size="2.94">2</tspan></text>
<text x="487.56" y="105.6" font-size="4.2" text-anchor="start" fill="#262626">10<tspan dy="-1.89" font-size="2.94">3</tspan></text>
<text x="507.46" y="105.6" font-size="4.2" text-anchor="start" fill="#262626">10<tspan dy="-1.89" font-size="2.94">4</tspan></text>
<text x="426.06" y="226.6" font-size="4.2" text-anchor="start" fill="#262626">10<tspan dy="-1.89" font-size="2.94">0</tspan></text>
<text x="446.86" y="226.6" font-size="4.2" text-anchor="start" fill="#262626">10<tspan dy="-1.89" font-size="2.94">1</tspan></text>
<text x="467.56" y="226.6" font-size="4.2" text-anchor="start" fill="#262626">10<tspan dy="-1.89" font-size="2.94">2</tspan></text>
<text x="488.36" y="226.6" font-size="4.2" text-anchor="start" fill="#262626">10<tspan dy="-1.89" font-size="2.94">3</tspan></text>
<text x="508.26" y="226.6" font-size="4.2" text-anchor="start" fill="#262626">10<tspan dy="-1.89" font-size="2.94">4</tspan></text>
<line x1="46.3" y1="17.07" x2="47.5" y2="17.07" stroke="#6a6a6a" stroke-width="0.55"/>
<line x1="45.3" y1="22.7" x2="47.5" y2="22.7" stroke="#6a6a6a" stroke-width="0.55"/>
<line x1="46.3" y1="35.77" x2="47.5" y2="35.77" stroke="#6a6a6a" stroke-width="0.55"/>
<line x1="46.3" y1="32.48" x2="47.5" y2="32.48" stroke="#6a6a6a" stroke-width="0.55"/>
<line x1="46.3" y1="30.14" x2="47.5" y2="30.14" stroke="#6a6a6a" stroke-width="0.55"/>
<line x1="46.3" y1="28.33" x2="47.5" y2="28.33" stroke="#6a6a6a" stroke-width="0.55"/>
<line x1="46.3" y1="26.85" x2="47.5" y2="26.85" stroke="#6a6a6a" stroke-width="0.55"/>
<line x1="46.3" y1="25.6" x2="47.5" y2="25.6" stroke="#6a6a6a" stroke-width="0.55"/>
<line x1="46.3" y1="24.51" x2="47.5" y2="24.51" stroke="#6a6a6a" stroke-width="0.55"/>
<line x1="46.3" y1="23.56" x2="47.5" y2="23.56" stroke="#6a6a6a" stroke-width="0.55"/>
<line x1="45.3" y1="41.4" x2="47.5" y2="41.4" stroke="#6a6a6a" stroke-width="0.55"/>
<line x1="46.3" y1="54.47" x2="47.5" y2="54.47" stroke="#6a6a6a" stroke-width="0.55"/>
<line x1="46.3" y1="51.18" x2="47.5" y2="51.18" stroke="#6a6a6a" stroke-width="0.55"/>
<line x1="46.3" y1="48.84" x2="47.5" y2="48.84" stroke="#6a6a6a" stroke-width="0.55"/>
<line x1="46.3" y1="47.03" x2="47.5" y2="47.03" stroke="#6a6a6a" stroke-width="0.55"/>
<line x1="46.3" y1="45.55" x2="47.5" y2="45.55" stroke="#6a6a6a" stroke-width="0.55"/>
<line x1="46.3" y1="44.3" x2="47.5" y2="44.3" stroke="#6a6a6a" stroke-width="0.55"/>
<line x1="46.3" y1="43.21" x2="47.5" y2="43.21" stroke="#6a6a6a" stroke-width="0.55"/>
<line x1="46.3" y1="42.26" x2="47.5" y2="42.26" stroke="#6a6a6a" stroke-width="0.55"/>
<line x1="45.3" y1="60.1" x2="47.5" y2="60.1" stroke="#6a6a6a" stroke-width="0.55"/>
<line x1="46.3" y1="73.17" x2="47.5" y2="73.17" stroke="#6a6a6a" stroke-width="0.55"/>
<line x1="46.3" y1="69.88" x2="47.5" y2="69.88" stroke="#6a6a6a" stroke-width="0.55"/>
<line x1="46.3" y1="67.54" x2="47.5" y2="67.54" stroke="#6a6a6a" stroke-width="0.55"/>
<line x1="46.3" y1="65.73" x2="47.5" y2="65.73" stroke="#6a6a6a" stroke-width="0.55"/>
<line x1="46.3" y1="64.25" x2="47.5" y2="64.25" stroke="#6a6a6a" stroke-width="0.55"/>
<line x1="46.3" y1="63" x2="47.5" y2="63" stroke="#6a6a6a" stroke-width="0.55"/>
<line x1="46.3" y1="61.91" x2="47.5" y2="61.91" stroke="#6a6a6a" stroke-width="0.55"/>
<line x1="46.3" y1="60.96" x2="47.5" y2="60.96" stroke="#6a6a6a" stroke-width="0.55"/>
<line x1="45.3" y1="78.8" x2="47.5" y2="78.8" stroke="#6a6a6a" stroke-width="0.55"/>
<line x1="46.3" y1="91.87" x2="47.5" y2="91.87" stroke="#6a6a6a" stroke-width="0.55"/>
<line x1="46.3" y1="88.58" x2="47.5" y2="88.58" stroke="#6a6a6a" stroke-width="0.55"/>
<line x1="46.3" y1="86.24" x2="47.5" y2="86.24" stroke="#6a6a6a" stroke-width="0.55"/>
<line x1="46.3" y1="84.43" x2="47.5" y2="84.43" stroke="#6a6a6a" stroke-width="0.55"/>
<line x1="46.3" y1="82.95" x2="47.5" y2="82.95" stroke="#6a6a6a" stroke-width="0.55"/>
<line x1="46.3" y1="81.7" x2="47.5" y2="81.7" stroke="#6a6a6a" stroke-width="0.55"/>
<line x1="46.3" y1="80.61" x2="47.5" y2="80.61" stroke="#6a6a6a" stroke-width="0.55"/>
<line x1="46.3" y1="79.66" x2="47.5" y2="79.66" stroke="#6a6a6a" stroke-width="0.55"/>
<line x1="179.4" y1="17.63" x2="180.6" y2="17.63" stroke="#6a6a6a" stroke-width="0.55"/>
<line x1="178.4" y1="23.2" x2="180.6" y2="23.2" stroke="#6a6a6a" stroke-width="0.55"/>
<line x1="179.4" y1="36.13" x2="180.6" y2="36.13" stroke="#6a6a6a" stroke-width="0.55"/>
<line x1="179.4" y1="32.87" x2="180.6" y2="32.87" stroke="#6a6a6a" stroke-width="0.55"/>
<line x1="179.4" y1="30.56" x2="180.6" y2="30.56" stroke="#6a6a6a" stroke-width="0.55"/>
<line x1="179.4" y1="28.77" x2="180.6" y2="28.77" stroke="#6a6a6a" stroke-width="0.55"/>
<line x1="179.4" y1="27.3" x2="180.6" y2="27.3" stroke="#6a6a6a" stroke-width="0.55"/>
<line x1="179.4" y1="26.07" x2="180.6" y2="26.07" stroke="#6a6a6a" stroke-width="0.55"/>
<line x1="179.4" y1="24.99" x2="180.6" y2="24.99" stroke="#6a6a6a" stroke-width="0.55"/>
<line x1="179.4" y1="24.05" x2="180.6" y2="24.05" stroke="#6a6a6a" stroke-width="0.55"/>
<line x1="178.4" y1="41.7" x2="180.6" y2="41.7" stroke="#6a6a6a" stroke-width="0.55"/>
<line x1="179.4" y1="54.63" x2="180.6" y2="54.63" stroke="#6a6a6a" stroke-width="0.55"/>
<line x1="179.4" y1="51.37" x2="180.6" y2="51.37" stroke="#6a6a6a" stroke-width="0.55"/>
<line x1="179.4" y1="49.06" x2="180.6" y2="49.06" stroke="#6a6a6a" stroke-width="0.55"/>
<line x1="179.4" y1="47.27" x2="180.6" y2="47.27" stroke="#6a6a6a" stroke-width="0.55"/>
<line x1="179.4" y1="45.8" x2="180.6" y2="45.8" stroke="#6a6a6a" stroke-width="0.55"/>
<line x1="179.4" y1="44.57" x2="180.6" y2="44.57" stroke="#6a6a6a" stroke-width="0.55"/>
<line x1="179.4" y1="43.49" x2="180.6" y2="43.49" stroke="#6a6a6a" stroke-width="0.55"/>
<line x1="179.4" y1="42.55" x2="180.6" y2="42.55" stroke="#6a6a6a" stroke-width="0.55"/>
<line x1="178.4" y1="60.2" x2="180.6" y2="60.2" stroke="#6a6a6a" stroke-width="0.55"/>
<line x1="179.4" y1="73.13" x2="180.6" y2="73.13" stroke="#6a6a6a" stroke-width="0.55"/>
<line x1="179.4" y1="69.87" x2="180.6" y2="69.87" stroke="#6a6a6a" stroke-width="0.55"/>
<line x1="179.4" y1="67.56" x2="180.6" y2="67.56" stroke="#6a6a6a" stroke-width="0.55"/>
<line x1="179.4" y1="65.77" x2="180.6" y2="65.77" stroke="#6a6a6a" stroke-width="0.55"/>
<line x1="179.4" y1="64.3" x2="180.6" y2="64.3" stroke="#6a6a6a" stroke-width="0.55"/>
<line x1="179.4" y1="63.07" x2="180.6" y2="63.07" stroke="#6a6a6a" stroke-width="0.55"/>
<line x1="179.4" y1="61.99" x2="180.6" y2="61.99" stroke="#6a6a6a" stroke-width="0.55"/>
<line x1="179.4" y1="61.05" x2="180.6" y2="61.05" stroke="#6a6a6a" stroke-width="0.55"/>
<line x1="178.4" y1="78.7" x2="180.6" y2="78.7" stroke="#6a6a6a" stroke-width="0.55"/>
<line x1="179.4" y1="91.63" x2="180.6" y2="91.63" stroke="#6a6a6a" stroke-width="0.55"/>
<line x1="179.4" y1="88.37" x2="180.6" y2="88.37" stroke="#6a6a6a" stroke-width="0.55"/>
<line x1="179.4" y1="86.06" x2="180.6" y2="86.06" stroke="#6a6a6a" stroke-width="0.55"/>
<line x1="179.4" y1="84.27" x2="180.6" y2="84.27" stroke="#6a6a6a" stroke-width="0.55"/>
<line x1="179.4" y1="82.8" x2="180.6" y2="82.8" stroke="#6a6a6a" stroke-width="0.55"/>
<line x1="179.4" y1="81.57" x2="180.6" y2="81.57" stroke="#6a6a6a" stroke-width="0.55"/>
<line x1="179.4" y1="80.49" x2="180.6" y2="80.49" stroke="#6a6a6a" stroke-width="0.55"/>
<line x1="179.4" y1="79.55" x2="180.6" y2="79.55" stroke="#6a6a6a" stroke-width="0.55"/>
<line x1="313.6" y1="16.52" x2="314.8" y2="16.52" stroke="#6a6a6a" stroke-width="0.55"/>
<line x1="312.6" y1="22.3" x2="314.8" y2="22.3" stroke="#6a6a6a" stroke-width="0.55"/>
<line x1="313.6" y1="35.72" x2="314.8" y2="35.72" stroke="#6a6a6a" stroke-width="0.55"/>
<line x1="313.6" y1="32.34" x2="314.8" y2="32.34" stroke="#6a6a6a" stroke-width="0.55"/>
<line x1="313.6" y1="29.94" x2="314.8" y2="29.94" stroke="#6a6a6a" stroke-width="0.55"/>
<line x1="313.6" y1="28.08" x2="314.8" y2="28.08" stroke="#6a6a6a" stroke-width="0.55"/>
<line x1="313.6" y1="26.56" x2="314.8" y2="26.56" stroke="#6a6a6a" stroke-width="0.55"/>
<line x1="313.6" y1="25.27" x2="314.8" y2="25.27" stroke="#6a6a6a" stroke-width="0.55"/>
<line x1="313.6" y1="24.16" x2="314.8" y2="24.16" stroke="#6a6a6a" stroke-width="0.55"/>
<line x1="313.6" y1="23.18" x2="314.8" y2="23.18" stroke="#6a6a6a" stroke-width="0.55"/>
<line x1="312.6" y1="41.5" x2="314.8" y2="41.5" stroke="#6a6a6a" stroke-width="0.55"/>
<line x1="313.6" y1="54.92" x2="314.8" y2="54.92" stroke="#6a6a6a" stroke-width="0.55"/>
<line x1="313.6" y1="51.54" x2="314.8" y2="51.54" stroke="#6a6a6a" stroke-width="0.55"/>
<line x1="313.6" y1="49.14" x2="314.8" y2="49.14" stroke="#6a6a6a" stroke-width="0.55"/>
<line x1="313.6" y1="47.28" x2="314.8" y2="47.28" stroke="#6a6a6a" stroke-width="0.55"/>
<line x1="313.6" y1="45.76" x2="314.8" y2="45.76" stroke="#6a6a6a" stroke-width="0.55"/>
<line x1="313.6" y1="44.47" x2="314.8" y2="44.47" stroke="#6a6a6a" stroke-width="0.55"/>
<line x1="313.6" y1="43.36" x2="314.8" y2="43.36" stroke="#6a6a6a" stroke-width="0.55"/>
<line x1="313.6" y1="42.38" x2="314.8" y2="42.38" stroke="#6a6a6a" stroke-width="0.55"/>
<line x1="312.6" y1="60.7" x2="314.8" y2="60.7" stroke="#6a6a6a" stroke-width="0.55"/>
<line x1="313.6" y1="74.12" x2="314.8" y2="74.12" stroke="#6a6a6a" stroke-width="0.55"/>
<line x1="313.6" y1="70.74" x2="314.8" y2="70.74" stroke="#6a6a6a" stroke-width="0.55"/>
<line x1="313.6" y1="68.34" x2="314.8" y2="68.34" stroke="#6a6a6a" stroke-width="0.55"/>
<line x1="313.6" y1="66.48" x2="314.8" y2="66.48" stroke="#6a6a6a" stroke-width="0.55"/>
<line x1="313.6" y1="64.96" x2="314.8" y2="64.96" stroke="#6a6a6a" stroke-width="0.55"/>
<line x1="313.6" y1="63.67" x2="314.8" y2="63.67" stroke="#6a6a6a" stroke-width="0.55"/>
<line x1="313.6" y1="62.56" x2="314.8" y2="62.56" stroke="#6a6a6a" stroke-width="0.55"/>
<line x1="313.6" y1="61.58" x2="314.8" y2="61.58" stroke="#6a6a6a" stroke-width="0.55"/>
<line x1="312.6" y1="79.9" x2="314.8" y2="79.9" stroke="#6a6a6a" stroke-width="0.55"/>
<line x1="313.6" y1="93.32" x2="314.8" y2="93.32" stroke="#6a6a6a" stroke-width="0.55"/>
<line x1="313.6" y1="89.94" x2="314.8" y2="89.94" stroke="#6a6a6a" stroke-width="0.55"/>
<line x1="313.6" y1="87.54" x2="314.8" y2="87.54" stroke="#6a6a6a" stroke-width="0.55"/>
<line x1="313.6" y1="85.68" x2="314.8" y2="85.68" stroke="#6a6a6a" stroke-width="0.55"/>
<line x1="313.6" y1="84.16" x2="314.8" y2="84.16" stroke="#6a6a6a" stroke-width="0.55"/>
<line x1="313.6" y1="82.87" x2="314.8" y2="82.87" stroke="#6a6a6a" stroke-width="0.55"/>
<line x1="313.6" y1="81.76" x2="314.8" y2="81.76" stroke="#6a6a6a" stroke-width="0.55"/>
<line x1="313.6" y1="80.78" x2="314.8" y2="80.78" stroke="#6a6a6a" stroke-width="0.55"/>
<line x1="47.6" y1="141.23" x2="48.8" y2="141.23" stroke="#6a6a6a" stroke-width="0.55"/>
<line x1="47.6" y1="137.97" x2="48.8" y2="137.97" stroke="#6a6a6a" stroke-width="0.55"/>
<line x1="46.6" y1="146.8" x2="48.8" y2="146.8" stroke="#6a6a6a" stroke-width="0.55"/>
<line x1="47.6" y1="159.73" x2="48.8" y2="159.73" stroke="#6a6a6a" stroke-width="0.55"/>
<line x1="47.6" y1="156.47" x2="48.8" y2="156.47" stroke="#6a6a6a" stroke-width="0.55"/>
<line x1="47.6" y1="154.16" x2="48.8" y2="154.16" stroke="#6a6a6a" stroke-width="0.55"/>
<line x1="47.6" y1="152.37" x2="48.8" y2="152.37" stroke="#6a6a6a" stroke-width="0.55"/>
<line x1="47.6" y1="150.9" x2="48.8" y2="150.9" stroke="#6a6a6a" stroke-width="0.55"/>
<line x1="47.6" y1="149.67" x2="48.8" y2="149.67" stroke="#6a6a6a" stroke-width="0.55"/>
<line x1="47.6" y1="148.59" x2="48.8" y2="148.59" stroke="#6a6a6a" stroke-width="0.55"/>
<line x1="47.6" y1="147.65" x2="48.8" y2="147.65" stroke="#6a6a6a" stroke-width="0.55"/>
<line x1="46.6" y1="165.3" x2="48.8" y2="165.3" stroke="#6a6a6a" stroke-width="0.55"/>
<line x1="47.6" y1="178.23" x2="48.8" y2="178.23" stroke="#6a6a6a" stroke-width="0.55"/>
<line x1="47.6" y1="174.97" x2="48.8" y2="174.97" stroke="#6a6a6a" stroke-width="0.55"/>
<line x1="47.6" y1="172.66" x2="48.8" y2="172.66" stroke="#6a6a6a" stroke-width="0.55"/>
<line x1="47.6" y1="170.87" x2="48.8" y2="170.87" stroke="#6a6a6a" stroke-width="0.55"/>
<line x1="47.6" y1="169.4" x2="48.8" y2="169.4" stroke="#6a6a6a" stroke-width="0.55"/>
<line x1="47.6" y1="168.17" x2="48.8" y2="168.17" stroke="#6a6a6a" stroke-width="0.55"/>
<line x1="47.6" y1="167.09" x2="48.8" y2="167.09" stroke="#6a6a6a" stroke-width="0.55"/>
<line x1="47.6" y1="166.15" x2="48.8" y2="166.15" stroke="#6a6a6a" stroke-width="0.55"/>
<line x1="46.6" y1="183.8" x2="48.8" y2="183.8" stroke="#6a6a6a" stroke-width="0.55"/>
<line x1="47.6" y1="196.73" x2="48.8" y2="196.73" stroke="#6a6a6a" stroke-width="0.55"/>
<line x1="47.6" y1="193.47" x2="48.8" y2="193.47" stroke="#6a6a6a" stroke-width="0.55"/>
<line x1="47.6" y1="191.16" x2="48.8" y2="191.16" stroke="#6a6a6a" stroke-width="0.55"/>
<line x1="47.6" y1="189.37" x2="48.8" y2="189.37" stroke="#6a6a6a" stroke-width="0.55"/>
<line x1="47.6" y1="187.9" x2="48.8" y2="187.9" stroke="#6a6a6a" stroke-width="0.55"/>
<line x1="47.6" y1="186.67" x2="48.8" y2="186.67" stroke="#6a6a6a" stroke-width="0.55"/>
<line x1="47.6" y1="185.59" x2="48.8" y2="185.59" stroke="#6a6a6a" stroke-width="0.55"/>
<line x1="47.6" y1="184.65" x2="48.8" y2="184.65" stroke="#6a6a6a" stroke-width="0.55"/>
<line x1="46.6" y1="202.3" x2="48.8" y2="202.3" stroke="#6a6a6a" stroke-width="0.55"/>
<line x1="47.6" y1="215.23" x2="48.8" y2="215.23" stroke="#6a6a6a" stroke-width="0.55"/>
<line x1="47.6" y1="211.97" x2="48.8" y2="211.97" stroke="#6a6a6a" stroke-width="0.55"/>
<line x1="47.6" y1="209.66" x2="48.8" y2="209.66" stroke="#6a6a6a" stroke-width="0.55"/>
<line x1="47.6" y1="207.87" x2="48.8" y2="207.87" stroke="#6a6a6a" stroke-width="0.55"/>
<line x1="47.6" y1="206.4" x2="48.8" y2="206.4" stroke="#6a6a6a" stroke-width="0.55"/>
<line x1="47.6" y1="205.17" x2="48.8" y2="205.17" stroke="#6a6a6a" stroke-width="0.55"/>
<line x1="47.6" y1="204.09" x2="48.8" y2="204.09" stroke="#6a6a6a" stroke-width="0.55"/>
<line x1="47.6" y1="203.15" x2="48.8" y2="203.15" stroke="#6a6a6a" stroke-width="0.55"/>
<line x1="179.6" y1="141.09" x2="180.8" y2="141.09" stroke="#6a6a6a" stroke-width="0.55"/>
<line x1="179.6" y1="137.87" x2="180.8" y2="137.87" stroke="#6a6a6a" stroke-width="0.55"/>
<line x1="178.6" y1="146.6" x2="180.8" y2="146.6" stroke="#6a6a6a" stroke-width="0.55"/>
<line x1="179.6" y1="159.39" x2="180.8" y2="159.39" stroke="#6a6a6a" stroke-width="0.55"/>
<line x1="179.6" y1="156.17" x2="180.8" y2="156.17" stroke="#6a6a6a" stroke-width="0.55"/>
<line x1="179.6" y1="153.88" x2="180.8" y2="153.88" stroke="#6a6a6a" stroke-width="0.55"/>
<line x1="179.6" y1="152.11" x2="180.8" y2="152.11" stroke="#6a6a6a" stroke-width="0.55"/>
<line x1="179.6" y1="150.66" x2="180.8" y2="150.66" stroke="#6a6a6a" stroke-width="0.55"/>
<line x1="179.6" y1="149.43" x2="180.8" y2="149.43" stroke="#6a6a6a" stroke-width="0.55"/>
<line x1="179.6" y1="148.37" x2="180.8" y2="148.37" stroke="#6a6a6a" stroke-width="0.55"/>
<line x1="179.6" y1="147.44" x2="180.8" y2="147.44" stroke="#6a6a6a" stroke-width="0.55"/>
<line x1="178.6" y1="164.9" x2="180.8" y2="164.9" stroke="#6a6a6a" stroke-width="0.55"/>
<line x1="179.6" y1="177.69" x2="180.8" y2="177.69" stroke="#6a6a6a" stroke-width="0.55"/>
<line x1="179.6" y1="174.47" x2="180.8" y2="174.47" stroke="#6a6a6a" stroke-width="0.55"/>
<line x1="179.6" y1="172.18" x2="180.8" y2="172.18" stroke="#6a6a6a" stroke-width="0.55"/>
<line x1="179.6" y1="170.41" x2="180.8" y2="170.41" stroke="#6a6a6a" stroke-width="0.55"/>
<line x1="179.6" y1="168.96" x2="180.8" y2="168.96" stroke="#6a6a6a" stroke-width="0.55"/>
<line x1="179.6" y1="167.73" x2="180.8" y2="167.73" stroke="#6a6a6a" stroke-width="0.55"/>
<line x1="179.6" y1="166.67" x2="180.8" y2="166.67" stroke="#6a6a6a" stroke-width="0.55"/>
<line x1="179.6" y1="165.74" x2="180.8" y2="165.74" stroke="#6a6a6a" stroke-width="0.55"/>
<line x1="178.6" y1="183.2" x2="180.8" y2="183.2" stroke="#6a6a6a" stroke-width="0.55"/>
<line x1="179.6" y1="195.99" x2="180.8" y2="195.99" stroke="#6a6a6a" stroke-width="0.55"/>
<line x1="179.6" y1="192.77" x2="180.8" y2="192.77" stroke="#6a6a6a" stroke-width="0.55"/>
<line x1="179.6" y1="190.48" x2="180.8" y2="190.48" stroke="#6a6a6a" stroke-width="0.55"/>
<line x1="179.6" y1="188.71" x2="180.8" y2="188.71" stroke="#6a6a6a" stroke-width="0.55"/>
<line x1="179.6" y1="187.26" x2="180.8" y2="187.26" stroke="#6a6a6a" stroke-width="0.55"/>
<line x1="179.6" y1="186.03" x2="180.8" y2="186.03" stroke="#6a6a6a" stroke-width="0.55"/>
<line x1="179.6" y1="184.97" x2="180.8" y2="184.97" stroke="#6a6a6a" stroke-width="0.55"/>
<line x1="179.6" y1="184.04" x2="180.8" y2="184.04" stroke="#6a6a6a" stroke-width="0.55"/>
<line x1="178.6" y1="201.5" x2="180.8" y2="201.5" stroke="#6a6a6a" stroke-width="0.55"/>
<line x1="179.6" y1="214.29" x2="180.8" y2="214.29" stroke="#6a6a6a" stroke-width="0.55"/>
<line x1="179.6" y1="211.07" x2="180.8" y2="211.07" stroke="#6a6a6a" stroke-width="0.55"/>
<line x1="179.6" y1="208.78" x2="180.8" y2="208.78" stroke="#6a6a6a" stroke-width="0.55"/>
<line x1="179.6" y1="207.01" x2="180.8" y2="207.01" stroke="#6a6a6a" stroke-width="0.55"/>
<line x1="179.6" y1="205.56" x2="180.8" y2="205.56" stroke="#6a6a6a" stroke-width="0.55"/>
<line x1="179.6" y1="204.33" x2="180.8" y2="204.33" stroke="#6a6a6a" stroke-width="0.55"/>
<line x1="179.6" y1="203.27" x2="180.8" y2="203.27" stroke="#6a6a6a" stroke-width="0.55"/>
<line x1="179.6" y1="202.34" x2="180.8" y2="202.34" stroke="#6a6a6a" stroke-width="0.55"/>
<line x1="313.6" y1="141.23" x2="314.8" y2="141.23" stroke="#6a6a6a" stroke-width="0.55"/>
<line x1="313.6" y1="137.97" x2="314.8" y2="137.97" stroke="#6a6a6a" stroke-width="0.55"/>
<line x1="312.6" y1="146.8" x2="314.8" y2="146.8" stroke="#6a6a6a" stroke-width="0.55"/>
<line x1="313.6" y1="159.73" x2="314.8" y2="159.73" stroke="#6a6a6a" stroke-width="0.55"/>
<line x1="313.6" y1="156.47" x2="314.8" y2="156.47" stroke="#6a6a6a" stroke-width="0.55"/>
<line x1="313.6" y1="154.16" x2="314.8" y2="154.16" stroke="#6a6a6a" stroke-width="0.55"/>
<line x1="313.6" y1="152.37" x2="314.8" y2="152.37" stroke="#6a6a6a" stroke-width="0.55"/>
<line x1="313.6" y1="150.9" x2="314.8" y2="150.9" stroke="#6a6a6a" stroke-width="0.55"/>
<line x1="313.6" y1="149.67" x2="314.8" y2="149.67" stroke="#6a6a6a" stroke-width="0.55"/>
<line x1="313.6" y1="148.59" x2="314.8" y2="148.59" stroke="#6a6a6a" stroke-width="0.55"/>
<line x1="313.6" y1="147.65" x2="314.8" y2="147.65" stroke="#6a6a6a" stroke-width="0.55"/>
<line x1="312.6" y1="165.3" x2="314.8" y2="165.3" stroke="#6a6a6a" stroke-width="0.55"/>
<line x1="313.6" y1="178.23" x2="314.8" y2="178.23" stroke="#6a6a6a" stroke-width="0.55"/>
<line x1="313.6" y1="174.97" x2="314.8" y2="174.97" stroke="#6a6a6a" stroke-width="0.55"/>
<line x1="313.6" y1="172.66" x2="314.8" y2="172.66" stroke="#6a6a6a" stroke-width="0.55"/>
<line x1="313.6" y1="170.87" x2="314.8" y2="170.87" stroke="#6a6a6a" stroke-width="0.55"/>
<line x1="313.6" y1="169.4" x2="314.8" y2="169.4" stroke="#6a6a6a" stroke-width="0.55"/>
<line x1="313.6" y1="168.17" x2="314.8" y2="168.17" stroke="#6a6a6a" stroke-width="0.55"/>
<line x1="313.6" y1="167.09" x2="314.8" y2="167.09" stroke="#6a6a6a" stroke-width="0.55"/>
<line x1="313.6" y1="166.15" x2="314.8" y2="166.15" stroke="#6a6a6a" stroke-width="0.55"/>
<line x1="312.6" y1="183.8" x2="314.8" y2="183.8" stroke="#6a6a6a" stroke-width="0.55"/>
<line x1="313.6" y1="196.73" x2="314.8" y2="196.73" stroke="#6a6a6a" stroke-width="0.55"/>
<line x1="313.6" y1="193.47" x2="314.8" y2="193.47" stroke="#6a6a6a" stroke-width="0.55"/>
<line x1="313.6" y1="191.16" x2="314.8" y2="191.16" stroke="#6a6a6a" stroke-width="0.55"/>
<line x1="313.6" y1="189.37" x2="314.8" y2="189.37" stroke="#6a6a6a" stroke-width="0.55"/>
<line x1="313.6" y1="187.9" x2="314.8" y2="187.9" stroke="#6a6a6a" stroke-width="0.55"/>
<line x1="313.6" y1="186.67" x2="314.8" y2="186.67" stroke="#6a6a6a" stroke-width="0.55"/>
<line x1="313.6" y1="185.59" x2="314.8" y2="185.59" stroke="#6a6a6a" stroke-width="0.55"/>
<line x1="313.6" y1="184.65" x2="314.8" y2="184.65" stroke="#6a6a6a" stroke-width="0.55"/>
<line x1="312.6" y1="202.3" x2="314.8" y2="202.3" stroke="#6a6a6a" stroke-width="0.55"/>
<line x1="313.6" y1="215.23" x2="314.8" y2="215.23" stroke="#6a6a6a" stroke-width="0.55"/>
<line x1="313.6" y1="211.97" x2="314.8" y2="211.97" stroke="#6a6a6a" stroke-width="0.55"/>
<line x1="313.6" y1="209.66" x2="314.8" y2="209.66" stroke="#6a6a6a" stroke-width="0.55"/>
<line x1="313.6" y1="207.87" x2="314.8" y2="207.87" stroke="#6a6a6a" stroke-width="0.55"/>
<line x1="313.6" y1="206.4" x2="314.8" y2="206.4" stroke="#6a6a6a" stroke-width="0.55"/>
<line x1="313.6" y1="205.17" x2="314.8" y2="205.17" stroke="#6a6a6a" stroke-width="0.55"/>
<line x1="313.6" y1="204.09" x2="314.8" y2="204.09" stroke="#6a6a6a" stroke-width="0.55"/>
<line x1="313.6" y1="203.15" x2="314.8" y2="203.15" stroke="#6a6a6a" stroke-width="0.55"/>
<line x1="64" y1="96" x2="64" y2="98.2" stroke="#6a6a6a" stroke-width="0.55"/>
<line x1="50.63" y1="96" x2="50.63" y2="97.2" stroke="#6a6a6a" stroke-width="0.55"/>
<line x1="54" y1="96" x2="54" y2="97.2" stroke="#6a6a6a" stroke-width="0.55"/>
<line x1="56.39" y1="96" x2="56.39" y2="97.2" stroke="#6a6a6a" stroke-width="0.55"/>
<line x1="58.24" y1="96" x2="58.24" y2="97.2" stroke="#6a6a6a" stroke-width="0.55"/>
<line x1="59.76" y1="96" x2="59.76" y2="97.2" stroke="#6a6a6a" stroke-width="0.55"/>
<line x1="61.04" y1="96" x2="61.04" y2="97.2" stroke="#6a6a6a" stroke-width="0.55"/>
<line x1="62.15" y1="96" x2="62.15" y2="97.2" stroke="#6a6a6a" stroke-width="0.55"/>
<line x1="63.12" y1="96" x2="63.12" y2="97.2" stroke="#6a6a6a" stroke-width="0.55"/>
<line x1="83.13" y1="96" x2="83.13" y2="98.2" stroke="#6a6a6a" stroke-width="0.55"/>
<line x1="69.76" y1="96" x2="69.76" y2="97.2" stroke="#6a6a6a" stroke-width="0.55"/>
<line x1="73.13" y1="96" x2="73.13" y2="97.2" stroke="#6a6a6a" stroke-width="0.55"/>
<line x1="75.52" y1="96" x2="75.52" y2="97.2" stroke="#6a6a6a" stroke-width="0.55"/>
<line x1="77.37" y1="96" x2="77.37" y2="97.2" stroke="#6a6a6a" stroke-width="0.55"/>
<line x1="78.89" y1="96" x2="78.89" y2="97.2" stroke="#6a6a6a" stroke-width="0.55"/>
<line x1="80.17" y1="96" x2="80.17" y2="97.2" stroke="#6a6a6a" stroke-width="0.55"/>
<line x1="81.28" y1="96" x2="81.28" y2="97.2" stroke="#6a6a6a" stroke-width="0.55"/>
<line x1="82.26" y1="96" x2="82.26" y2="97.2" stroke="#6a6a6a" stroke-width="0.55"/>
<line x1="102.27" y1="96" x2="102.27" y2="98.2" stroke="#6a6a6a" stroke-width="0.55"/>
<line x1="88.89" y1="96" x2="88.89" y2="97.2" stroke="#6a6a6a" stroke-width="0.55"/>
<line x1="92.26" y1="96" x2="92.26" y2="97.2" stroke="#6a6a6a" stroke-width="0.55"/>
<line x1="94.65" y1="96" x2="94.65" y2="97.2" stroke="#6a6a6a" stroke-width="0.55"/>
<line x1="96.51" y1="96" x2="96.51" y2="97.2" stroke="#6a6a6a" stroke-width="0.55"/>
<line x1="98.02" y1="96" x2="98.02" y2="97.2" stroke="#6a6a6a" stroke-width="0.55"/>
<line x1="99.3" y1="96" x2="99.3" y2="97.2" stroke="#6a6a6a" stroke-width="0.55"/>
<line x1="100.41" y1="96" x2="100.41" y2="97.2" stroke="#6a6a6a" stroke-width="0.55"/>
<line x1="101.39" y1="96" x2="101.39" y2="97.2" stroke="#6a6a6a" stroke-width="0.55"/>
<line x1="121.4" y1="96" x2="121.4" y2="98.2" stroke="#6a6a6a" stroke-width="0.55"/>
<line x1="108.03" y1="96" x2="108.03" y2="97.2" stroke="#6a6a6a" stroke-width="0.55"/>
<line x1="111.4" y1="96" x2="111.4" y2="97.2" stroke="#6a6a6a" stroke-width="0.55"/>
<line x1="113.79" y1="96" x2="113.79" y2="97.2" stroke="#6a6a6a" stroke-width="0.55"/>
<line x1="115.64" y1="96" x2="115.64" y2="97.2" stroke="#6a6a6a" stroke-width="0.55"/>
<line x1="117.16" y1="96" x2="117.16" y2="97.2" stroke="#6a6a6a" stroke-width="0.55"/>
<line x1="118.44" y1="96" x2="118.44" y2="97.2" stroke="#6a6a6a" stroke-width="0.55"/>
<line x1="119.55" y1="96" x2="119.55" y2="97.2" stroke="#6a6a6a" stroke-width="0.55"/>
<line x1="120.52" y1="96" x2="120.52" y2="97.2" stroke="#6a6a6a" stroke-width="0.55"/>
<line x1="127.16" y1="96" x2="127.16" y2="97.2" stroke="#6a6a6a" stroke-width="0.55"/>
<line x1="198.9" y1="97" x2="198.9" y2="99.2" stroke="#6a6a6a" stroke-width="0.55"/>
<line x1="185.62" y1="97" x2="185.62" y2="98.2" stroke="#6a6a6a" stroke-width="0.55"/>
<line x1="188.97" y1="97" x2="188.97" y2="98.2" stroke="#6a6a6a" stroke-width="0.55"/>
<line x1="191.34" y1="97" x2="191.34" y2="98.2" stroke="#6a6a6a" stroke-width="0.55"/>
<line x1="193.18" y1="97" x2="193.18" y2="98.2" stroke="#6a6a6a" stroke-width="0.55"/>
<line x1="194.68" y1="97" x2="194.68" y2="98.2" stroke="#6a6a6a" stroke-width="0.55"/>
<line x1="195.96" y1="97" x2="195.96" y2="98.2" stroke="#6a6a6a" stroke-width="0.55"/>
<line x1="197.06" y1="97" x2="197.06" y2="98.2" stroke="#6a6a6a" stroke-width="0.55"/>
<line x1="198.03" y1="97" x2="198.03" y2="98.2" stroke="#6a6a6a" stroke-width="0.55"/>
<line x1="217.9" y1="97" x2="217.9" y2="99.2" stroke="#6a6a6a" stroke-width="0.55"/>
<line x1="204.62" y1="97" x2="204.62" y2="98.2" stroke="#6a6a6a" stroke-width="0.55"/>
<line x1="207.97" y1="97" x2="207.97" y2="98.2" stroke="#6a6a6a" stroke-width="0.55"/>
<line x1="210.34" y1="97" x2="210.34" y2="98.2" stroke="#6a6a6a" stroke-width="0.55"/>
<line x1="212.18" y1="97" x2="212.18" y2="98.2" stroke="#6a6a6a" stroke-width="0.55"/>
<line x1="213.68" y1="97" x2="213.68" y2="98.2" stroke="#6a6a6a" stroke-width="0.55"/>
<line x1="214.96" y1="97" x2="214.96" y2="98.2" stroke="#6a6a6a" stroke-width="0.55"/>
<line x1="216.06" y1="97" x2="216.06" y2="98.2" stroke="#6a6a6a" stroke-width="0.55"/>
<line x1="217.03" y1="97" x2="217.03" y2="98.2" stroke="#6a6a6a" stroke-width="0.55"/>
<line x1="236.9" y1="97" x2="236.9" y2="99.2" stroke="#6a6a6a" stroke-width="0.55"/>
<line x1="223.62" y1="97" x2="223.62" y2="98.2" stroke="#6a6a6a" stroke-width="0.55"/>
<line x1="226.97" y1="97" x2="226.97" y2="98.2" stroke="#6a6a6a" stroke-width="0.55"/>
<line x1="229.34" y1="97" x2="229.34" y2="98.2" stroke="#6a6a6a" stroke-width="0.55"/>
<line x1="231.18" y1="97" x2="231.18" y2="98.2" stroke="#6a6a6a" stroke-width="0.55"/>
<line x1="232.68" y1="97" x2="232.68" y2="98.2" stroke="#6a6a6a" stroke-width="0.55"/>
<line x1="233.96" y1="97" x2="233.96" y2="98.2" stroke="#6a6a6a" stroke-width="0.55"/>
<line x1="235.06" y1="97" x2="235.06" y2="98.2" stroke="#6a6a6a" stroke-width="0.55"/>
<line x1="236.03" y1="97" x2="236.03" y2="98.2" stroke="#6a6a6a" stroke-width="0.55"/>
<line x1="255.9" y1="97" x2="255.9" y2="99.2" stroke="#6a6a6a" stroke-width="0.55"/>
<line x1="242.62" y1="97" x2="242.62" y2="98.2" stroke="#6a6a6a" stroke-width="0.55"/>
<line x1="245.97" y1="97" x2="245.97" y2="98.2" stroke="#6a6a6a" stroke-width="0.55"/>
<line x1="248.34" y1="97" x2="248.34" y2="98.2" stroke="#6a6a6a" stroke-width="0.55"/>
<line x1="250.18" y1="97" x2="250.18" y2="98.2" stroke="#6a6a6a" stroke-width="0.55"/>
<line x1="251.68" y1="97" x2="251.68" y2="98.2" stroke="#6a6a6a" stroke-width="0.55"/>
<line x1="252.96" y1="97" x2="252.96" y2="98.2" stroke="#6a6a6a" stroke-width="0.55"/>
<line x1="254.06" y1="97" x2="254.06" y2="98.2" stroke="#6a6a6a" stroke-width="0.55"/>
<line x1="255.03" y1="97" x2="255.03" y2="98.2" stroke="#6a6a6a" stroke-width="0.55"/>
<line x1="261.62" y1="97" x2="261.62" y2="98.2" stroke="#6a6a6a" stroke-width="0.55"/>
<line x1="333.7" y1="98.3" x2="333.7" y2="100.5" stroke="#6a6a6a" stroke-width="0.55"/>
<line x1="320.44" y1="98.3" x2="320.44" y2="99.5" stroke="#6a6a6a" stroke-width="0.55"/>
<line x1="323.78" y1="98.3" x2="323.78" y2="99.5" stroke="#6a6a6a" stroke-width="0.55"/>
<line x1="326.15" y1="98.3" x2="326.15" y2="99.5" stroke="#6a6a6a" stroke-width="0.55"/>
<line x1="327.99" y1="98.3" x2="327.99" y2="99.5" stroke="#6a6a6a" stroke-width="0.55"/>
<line x1="329.49" y1="98.3" x2="329.49" y2="99.5" stroke="#6a6a6a" stroke-width="0.55"/>
<line x1="330.76" y1="98.3" x2="330.76" y2="99.5" stroke="#6a6a6a" stroke-width="0.55"/>
<line x1="331.86" y1="98.3" x2="331.86" y2="99.5" stroke="#6a6a6a" stroke-width="0.55"/>
<line x1="332.83" y1="98.3" x2="332.83" y2="99.5" stroke="#6a6a6a" stroke-width="0.55"/>
<line x1="352.67" y1="98.3" x2="352.67" y2="100.5" stroke="#6a6a6a" stroke-width="0.55"/>
<line x1="339.41" y1="98.3" x2="339.41" y2="99.5" stroke="#6a6a6a" stroke-width="0.55"/>
<line x1="342.75" y1="98.3" x2="342.75" y2="99.5" stroke="#6a6a6a" stroke-width="0.55"/>
<line x1="345.12" y1="98.3" x2="345.12" y2="99.5" stroke="#6a6a6a" stroke-width="0.55"/>
<line x1="346.96" y1="98.3" x2="346.96" y2="99.5" stroke="#6a6a6a" stroke-width="0.55"/>
<line x1="348.46" y1="98.3" x2="348.46" y2="99.5" stroke="#6a6a6a" stroke-width="0.55"/>
<line x1="349.73" y1="98.3" x2="349.73" y2="99.5" stroke="#6a6a6a" stroke-width="0.55"/>
<line x1="350.83" y1="98.3" x2="350.83" y2="99.5" stroke="#6a6a6a" stroke-width="0.55"/>
<line x1="351.8" y1="98.3" x2="351.8" y2="99.5" stroke="#6a6a6a" stroke-width="0.55"/>
<line x1="371.63" y1="98.3" x2="371.63" y2="100.5" stroke="#6a6a6a" stroke-width="0.55"/>
<line x1="358.38" y1="98.3" x2="358.38" y2="99.5" stroke="#6a6a6a" stroke-width="0.55"/>
<line x1="361.72" y1="98.3" x2="361.72" y2="99.5" stroke="#6a6a6a" stroke-width="0.55"/>
<line x1="364.09" y1="98.3" x2="364.09" y2="99.5" stroke="#6a6a6a" stroke-width="0.55"/>
<line x1="365.92" y1="98.3" x2="365.92" y2="99.5" stroke="#6a6a6a" stroke-width="0.55"/>
<line x1="367.43" y1="98.3" x2="367.43" y2="99.5" stroke="#6a6a6a" stroke-width="0.55"/>
<line x1="368.7" y1="98.3" x2="368.7" y2="99.5" stroke="#6a6a6a" stroke-width="0.55"/>
<line x1="369.8" y1="98.3" x2="369.8" y2="99.5" stroke="#6a6a6a" stroke-width="0.55"/>
<line x1="370.77" y1="98.3" x2="370.77" y2="99.5" stroke="#6a6a6a" stroke-width="0.55"/>
<line x1="390.6" y1="98.3" x2="390.6" y2="100.5" stroke="#6a6a6a" stroke-width="0.55"/>
<line x1="377.34" y1="98.3" x2="377.34" y2="99.5" stroke="#6a6a6a" stroke-width="0.55"/>
<line x1="380.68" y1="98.3" x2="380.68" y2="99.5" stroke="#6a6a6a" stroke-width="0.55"/>
<line x1="383.05" y1="98.3" x2="383.05" y2="99.5" stroke="#6a6a6a" stroke-width="0.55"/>
<line x1="384.89" y1="98.3" x2="384.89" y2="99.5" stroke="#6a6a6a" stroke-width="0.55"/>
<line x1="386.39" y1="98.3" x2="386.39" y2="99.5" stroke="#6a6a6a" stroke-width="0.55"/>
<line x1="387.66" y1="98.3" x2="387.66" y2="99.5" stroke="#6a6a6a" stroke-width="0.55"/>
<line x1="388.76" y1="98.3" x2="388.76" y2="99.5" stroke="#6a6a6a" stroke-width="0.55"/>
<line x1="389.73" y1="98.3" x2="389.73" y2="99.5" stroke="#6a6a6a" stroke-width="0.55"/>
<line x1="396.31" y1="98.3" x2="396.31" y2="99.5" stroke="#6a6a6a" stroke-width="0.55"/>
<line x1="63.6" y1="219.5" x2="63.6" y2="221.7" stroke="#6a6a6a" stroke-width="0.55"/>
<line x1="50.11" y1="219.5" x2="50.11" y2="220.7" stroke="#6a6a6a" stroke-width="0.55"/>
<line x1="53.51" y1="219.5" x2="53.51" y2="220.7" stroke="#6a6a6a" stroke-width="0.55"/>
<line x1="55.92" y1="219.5" x2="55.92" y2="220.7" stroke="#6a6a6a" stroke-width="0.55"/>
<line x1="57.79" y1="219.5" x2="57.79" y2="220.7" stroke="#6a6a6a" stroke-width="0.55"/>
<line x1="59.32" y1="219.5" x2="59.32" y2="220.7" stroke="#6a6a6a" stroke-width="0.55"/>
<line x1="60.61" y1="219.5" x2="60.61" y2="220.7" stroke="#6a6a6a" stroke-width="0.55"/>
<line x1="61.73" y1="219.5" x2="61.73" y2="220.7" stroke="#6a6a6a" stroke-width="0.55"/>
<line x1="62.72" y1="219.5" x2="62.72" y2="220.7" stroke="#6a6a6a" stroke-width="0.55"/>
<line x1="82.9" y1="219.5" x2="82.9" y2="221.7" stroke="#6a6a6a" stroke-width="0.55"/>
<line x1="69.41" y1="219.5" x2="69.41" y2="220.7" stroke="#6a6a6a" stroke-width="0.55"/>
<line x1="72.81" y1="219.5" x2="72.81" y2="220.7" stroke="#6a6a6a" stroke-width="0.55"/>
<line x1="75.22" y1="219.5" x2="75.22" y2="220.7" stroke="#6a6a6a" stroke-width="0.55"/>
<line x1="77.09" y1="219.5" x2="77.09" y2="220.7" stroke="#6a6a6a" stroke-width="0.55"/>
<line x1="78.62" y1="219.5" x2="78.62" y2="220.7" stroke="#6a6a6a" stroke-width="0.55"/>
<line x1="79.91" y1="219.5" x2="79.91" y2="220.7" stroke="#6a6a6a" stroke-width="0.55"/>
<line x1="81.03" y1="219.5" x2="81.03" y2="220.7" stroke="#6a6a6a" stroke-width="0.55"/>
<line x1="82.02" y1="219.5" x2="82.02" y2="220.7" stroke="#6a6a6a" stroke-width="0.55"/>
<line x1="102.2" y1="219.5" x2="102.2" y2="221.7" stroke="#6a6a6a" stroke-width="0.55"/>
<line x1="88.71" y1="219.5" x2="88.71" y2="220.7" stroke="#6a6a6a" stroke-width="0.55"/>
<line x1="92.11" y1="219.5" x2="92.11" y2="220.7" stroke="#6a6a6a" stroke-width="0.55"/>
<line x1="94.52" y1="219.5" x2="94.52" y2="220.7" stroke="#6a6a6a" stroke-width="0.55"/>
<line x1="96.39" y1="219.5" x2="96.39" y2="220.7" stroke="#6a6a6a" stroke-width="0.55"/>
<line x1="97.92" y1="219.5" x2="97.92" y2="220.7" stroke="#6a6a6a" stroke-width="0.55"/>
<line x1="99.21" y1="219.5" x2="99.21" y2="220.7" stroke="#6a6a6a" stroke-width="0.55"/>
<line x1="100.33" y1="219.5" x2="100.33" y2="220.7" stroke="#6a6a6a" stroke-width="0.55"/>
<line x1="101.32" y1="219.5" x2="101.32" y2="220.7" stroke="#6a6a6a" stroke-width="0.55"/>
<line x1="121.5" y1="219.5" x2="121.5" y2="221.7" stroke="#6a6a6a" stroke-width="0.55"/>
<line x1="108.01" y1="219.5" x2="108.01" y2="220.7" stroke="#6a6a6a" stroke-width="0.55"/>
<line x1="111.41" y1="219.5" x2="111.41" y2="220.7" stroke="#6a6a6a" stroke-width="0.55"/>
<line x1="113.82" y1="219.5" x2="113.82" y2="220.7" stroke="#6a6a6a" stroke-width="0.55"/>
<line x1="115.69" y1="219.5" x2="115.69" y2="220.7" stroke="#6a6a6a" stroke-width="0.55"/>
<line x1="117.22" y1="219.5" x2="117.22" y2="220.7" stroke="#6a6a6a" stroke-width="0.55"/>
<line x1="118.51" y1="219.5" x2="118.51" y2="220.7" stroke="#6a6a6a" stroke-width="0.55"/>
<line x1="119.63" y1="219.5" x2="119.63" y2="220.7" stroke="#6a6a6a" stroke-width="0.55"/>
<line x1="120.62" y1="219.5" x2="120.62" y2="220.7" stroke="#6a6a6a" stroke-width="0.55"/>
<line x1="127.31" y1="219.5" x2="127.31" y2="220.7" stroke="#6a6a6a" stroke-width="0.55"/>
<line x1="199.5" y1="219.7" x2="199.5" y2="221.9" stroke="#6a6a6a" stroke-width="0.55"/>
<line x1="186.2" y1="219.7" x2="186.2" y2="220.9" stroke="#6a6a6a" stroke-width="0.55"/>
<line x1="189.55" y1="219.7" x2="189.55" y2="220.9" stroke="#6a6a6a" stroke-width="0.55"/>
<line x1="191.93" y1="219.7" x2="191.93" y2="220.9" stroke="#6a6a6a" stroke-width="0.55"/>
<line x1="193.77" y1="219.7" x2="193.77" y2="220.9" stroke="#6a6a6a" stroke-width="0.55"/>
<line x1="195.28" y1="219.7" x2="195.28" y2="220.9" stroke="#6a6a6a" stroke-width="0.55"/>
<line x1="196.55" y1="219.7" x2="196.55" y2="220.9" stroke="#6a6a6a" stroke-width="0.55"/>
<line x1="197.66" y1="219.7" x2="197.66" y2="220.9" stroke="#6a6a6a" stroke-width="0.55"/>
<line x1="198.63" y1="219.7" x2="198.63" y2="220.9" stroke="#6a6a6a" stroke-width="0.55"/>
<line x1="218.53" y1="219.7" x2="218.53" y2="221.9" stroke="#6a6a6a" stroke-width="0.55"/>
<line x1="205.23" y1="219.7" x2="205.23" y2="220.9" stroke="#6a6a6a" stroke-width="0.55"/>
<line x1="208.58" y1="219.7" x2="208.58" y2="220.9" stroke="#6a6a6a" stroke-width="0.55"/>
<line x1="210.96" y1="219.7" x2="210.96" y2="220.9" stroke="#6a6a6a" stroke-width="0.55"/>
<line x1="212.8" y1="219.7" x2="212.8" y2="220.9" stroke="#6a6a6a" stroke-width="0.55"/>
<line x1="214.31" y1="219.7" x2="214.31" y2="220.9" stroke="#6a6a6a" stroke-width="0.55"/>
<line x1="215.59" y1="219.7" x2="215.59" y2="220.9" stroke="#6a6a6a" stroke-width="0.55"/>
<line x1="216.69" y1="219.7" x2="216.69" y2="220.9" stroke="#6a6a6a" stroke-width="0.55"/>
<line x1="217.66" y1="219.7" x2="217.66" y2="220.9" stroke="#6a6a6a" stroke-width="0.55"/>
<line x1="237.57" y1="219.7" x2="237.57" y2="221.9" stroke="#6a6a6a" stroke-width="0.55"/>
<line x1="224.26" y1="219.7" x2="224.26" y2="220.9" stroke="#6a6a6a" stroke-width="0.55"/>
<line x1="227.61" y1="219.7" x2="227.61" y2="220.9" stroke="#6a6a6a" stroke-width="0.55"/>
<line x1="229.99" y1="219.7" x2="229.99" y2="220.9" stroke="#6a6a6a" stroke-width="0.55"/>
<line x1="231.84" y1="219.7" x2="231.84" y2="220.9" stroke="#6a6a6a" stroke-width="0.55"/>
<line x1="233.34" y1="219.7" x2="233.34" y2="220.9" stroke="#6a6a6a" stroke-width="0.55"/>
<line x1="234.62" y1="219.7" x2="234.62" y2="220.9" stroke="#6a6a6a" stroke-width="0.55"/>
<line x1="235.72" y1="219.7" x2="235.72" y2="220.9" stroke="#6a6a6a" stroke-width="0.55"/>
<line x1="236.7" y1="219.7" x2="236.7" y2="220.9" stroke="#6a6a6a" stroke-width="0.55"/>
<line x1="256.6" y1="219.7" x2="256.6" y2="221.9" stroke="#6a6a6a" stroke-width="0.55"/>
<line x1="243.3" y1="219.7" x2="243.3" y2="220.9" stroke="#6a6a6a" stroke-width="0.55"/>
<line x1="246.65" y1="219.7" x2="246.65" y2="220.9" stroke="#6a6a6a" stroke-width="0.55"/>
<line x1="249.03" y1="219.7" x2="249.03" y2="220.9" stroke="#6a6a6a" stroke-width="0.55"/>
<line x1="250.87" y1="219.7" x2="250.87" y2="220.9" stroke="#6a6a6a" stroke-width="0.55"/>
<line x1="252.38" y1="219.7" x2="252.38" y2="220.9" stroke="#6a6a6a" stroke-width="0.55"/>
<line x1="253.65" y1="219.7" x2="253.65" y2="220.9" stroke="#6a6a6a" stroke-width="0.55"/>
<line x1="254.76" y1="219.7" x2="254.76" y2="220.9" stroke="#6a6a6a" stroke-width="0.55"/>
<line x1="255.73" y1="219.7" x2="255.73" y2="220.9" stroke="#6a6a6a" stroke-width="0.55"/>
<line x1="262.33" y1="219.7" x2="262.33" y2="220.9" stroke="#6a6a6a" stroke-width="0.55"/>
<line x1="332.5" y1="219.2" x2="332.5" y2="221.4" stroke="#6a6a6a" stroke-width="0.55"/>
<line x1="318.96" y1="219.2" x2="318.96" y2="220.4" stroke="#6a6a6a" stroke-width="0.55"/>
<line x1="322.37" y1="219.2" x2="322.37" y2="220.4" stroke="#6a6a6a" stroke-width="0.55"/>
<line x1="324.79" y1="219.2" x2="324.79" y2="220.4" stroke="#6a6a6a" stroke-width="0.55"/>
<line x1="326.67" y1="219.2" x2="326.67" y2="220.4" stroke="#6a6a6a" stroke-width="0.55"/>
<line x1="328.2" y1="219.2" x2="328.2" y2="220.4" stroke="#6a6a6a" stroke-width="0.55"/>
<line x1="329.5" y1="219.2" x2="329.5" y2="220.4" stroke="#6a6a6a" stroke-width="0.55"/>
<line x1="330.62" y1="219.2" x2="330.62" y2="220.4" stroke="#6a6a6a" stroke-width="0.55"/>
<line x1="331.61" y1="219.2" x2="331.61" y2="220.4" stroke="#6a6a6a" stroke-width="0.55"/>
<line x1="351.87" y1="219.2" x2="351.87" y2="221.4" stroke="#6a6a6a" stroke-width="0.55"/>
<line x1="338.33" y1="219.2" x2="338.33" y2="220.4" stroke="#6a6a6a" stroke-width="0.55"/>
<line x1="341.74" y1="219.2" x2="341.74" y2="220.4" stroke="#6a6a6a" stroke-width="0.55"/>
<line x1="344.16" y1="219.2" x2="344.16" y2="220.4" stroke="#6a6a6a" stroke-width="0.55"/>
<line x1="346.04" y1="219.2" x2="346.04" y2="220.4" stroke="#6a6a6a" stroke-width="0.55"/>
<line x1="347.57" y1="219.2" x2="347.57" y2="220.4" stroke="#6a6a6a" stroke-width="0.55"/>
<line x1="348.87" y1="219.2" x2="348.87" y2="220.4" stroke="#6a6a6a" stroke-width="0.55"/>
<line x1="349.99" y1="219.2" x2="349.99" y2="220.4" stroke="#6a6a6a" stroke-width="0.55"/>
<line x1="350.98" y1="219.2" x2="350.98" y2="220.4" stroke="#6a6a6a" stroke-width="0.55"/>
<line x1="371.23" y1="219.2" x2="371.23" y2="221.4" stroke="#6a6a6a" stroke-width="0.55"/>
<line x1="357.7" y1="219.2" x2="357.7" y2="220.4" stroke="#6a6a6a" stroke-width="0.55"/>
<line x1="361.11" y1="219.2" x2="361.11" y2="220.4" stroke="#6a6a6a" stroke-width="0.55"/>
<line x1="363.53" y1="219.2" x2="363.53" y2="220.4" stroke="#6a6a6a" stroke-width="0.55"/>
<line x1="365.4" y1="219.2" x2="365.4" y2="220.4" stroke="#6a6a6a" stroke-width="0.55"/>
<line x1="366.94" y1="219.2" x2="366.94" y2="220.4" stroke="#6a6a6a" stroke-width="0.55"/>
<line x1="368.23" y1="219.2" x2="368.23" y2="220.4" stroke="#6a6a6a" stroke-width="0.55"/>
<line x1="369.36" y1="219.2" x2="369.36" y2="220.4" stroke="#6a6a6a" stroke-width="0.55"/>
<line x1="370.35" y1="219.2" x2="370.35" y2="220.4" stroke="#6a6a6a" stroke-width="0.55"/>
<line x1="390.6" y1="219.2" x2="390.6" y2="221.4" stroke="#6a6a6a" stroke-width="0.55"/>
<line x1="377.06" y1="219.2" x2="377.06" y2="220.4" stroke="#6a6a6a" stroke-width="0.55"/>
<line x1="380.47" y1="219.2" x2="380.47" y2="220.4" stroke="#6a6a6a" stroke-width="0.55"/>
<line x1="382.89" y1="219.2" x2="382.89" y2="220.4" stroke="#6a6a6a" stroke-width="0.55"/>
<line x1="384.77" y1="219.2" x2="384.77" y2="220.4" stroke="#6a6a6a" stroke-width="0.55"/>
<line x1="386.3" y1="219.2" x2="386.3" y2="220.4" stroke="#6a6a6a" stroke-width="0.55"/>
<line x1="387.6" y1="219.2" x2="387.6" y2="220.4" stroke="#6a6a6a" stroke-width="0.55"/>
<line x1="388.72" y1="219.2" x2="388.72" y2="220.4" stroke="#6a6a6a" stroke-width="0.55"/>
<line x1="389.71" y1="219.2" x2="389.71" y2="220.4" stroke="#6a6a6a" stroke-width="0.55"/>
<line x1="396.43" y1="219.2" x2="396.43" y2="220.4" stroke="#6a6a6a" stroke-width="0.55"/>
<text x="82.4" y="113.6" font-size="9.5" text-anchor="middle" font-weight="normal" font-style="normal" fill="#1a1a1a" stroke="#1a1a1a" stroke-width="0.21">lineage markers</text>
<text x="84.5" y="239.6" font-size="9.5" text-anchor="middle" font-weight="normal" font-style="normal" fill="#1a1a1a" stroke="#1a1a1a" stroke-width="0.21">lineage markers</text>
<text x="221.2" y="113.9" font-size="9.5" text-anchor="middle" font-weight="normal" font-style="normal" fill="#1a1a1a" stroke="#1a1a1a" stroke-width="0.21">cKit</text>
<text x="221.2" y="239.8" font-size="9.5" text-anchor="middle" font-weight="normal" font-style="normal" fill="#1a1a1a" stroke="#1a1a1a" stroke-width="0.21">cKit</text>
<text x="363.7" y="113.8" font-size="9.5" text-anchor="middle" font-weight="normal" font-style="normal" fill="#1a1a1a" stroke="#1a1a1a" stroke-width="0.21">CD150</text>
<text x="371.2" y="239.2" font-size="9.5" text-anchor="middle" font-weight="normal" font-style="normal" fill="#1a1a1a" stroke="#1a1a1a" stroke-width="0.21">CD150</text>
<text x="470.4" y="113.6" font-size="9.5" text-anchor="middle" font-weight="normal" font-style="normal" fill="#1a1a1a" stroke="#1a1a1a" stroke-width="0.21">CD34</text>
<text x="469.5" y="237" font-size="9.5" text-anchor="middle" font-weight="normal" font-style="normal" fill="#1a1a1a" stroke="#1a1a1a" stroke-width="0.21">CD34</text>
<text x="36.7" y="58.9" font-size="9" text-anchor="middle" font-weight="normal" font-style="normal" fill="#111" transform="rotate(-90 36.7 58.9)" stroke="#111" stroke-width="0.2">DAPI</text>
<text x="36.7" y="178.4" font-size="9" text-anchor="middle" font-weight="normal" font-style="normal" fill="#111" transform="rotate(-90 36.7 178.4)" stroke="#111" stroke-width="0.2">DAPI</text>
<text x="169.1" y="60.5" font-size="9.2" text-anchor="middle" font-weight="normal" font-style="normal" fill="#111" transform="rotate(-90 169.1 60.5)" stroke="#111" stroke-width="0.2">Sca-1</text>
<text x="168.6" y="182.1" font-size="9.2" text-anchor="middle" font-weight="normal" font-style="normal" fill="#111" transform="rotate(-90 168.6 182.1)" stroke="#111" stroke-width="0.2">Sca-1</text>
<text x="302.3" y="59.5" font-size="9.6" text-anchor="middle" font-weight="normal" font-style="normal" fill="#111" transform="rotate(-90 302.3 59.5)" stroke="#111" stroke-width="0.21">CD48</text>
<text x="302.3" y="181.3" font-size="9.6" text-anchor="middle" font-weight="normal" font-style="normal" fill="#111" transform="rotate(-90 302.3 181.3)" stroke="#111" stroke-width="0.21">CD48</text>
<text x="418" y="59.4" font-size="9.3" text-anchor="middle" font-weight="normal" font-style="normal" fill="#111" transform="rotate(-90 418 59.4)" stroke="#111" stroke-width="0.2">CD135</text>
<text x="418" y="182.8" font-size="9.3" text-anchor="middle" font-weight="normal" font-style="normal" fill="#111" transform="rotate(-90 418 182.8)" stroke="#111" stroke-width="0.2">CD135</text>
<rect x="48.3" y="49.6" width="26.3" height="45.4" fill="none" stroke="#8f8f8f" stroke-width="0.9"/>
<line x1="61.7" y1="21.5" x2="61.7" y2="49.6" stroke="#000" stroke-width="1.6"/>
<line x1="60.9" y1="22.3" x2="145.6" y2="22.3" stroke="#000" stroke-width="1.6"/>
<path d="M154.3 22.3 L144.6 18.1 L146.8 22.3 L144.6 26.5 Z" fill="#000"/>
<rect x="49.6" y="174.5" width="26.6" height="44" fill="none" stroke="#8f8f8f" stroke-width="0.9"/>
<line x1="60.6" y1="144.9" x2="60.6" y2="174.5" stroke="#000" stroke-width="1.6"/>
<line x1="59.8" y1="145.7" x2="145.6" y2="145.7" stroke="#000" stroke-width="1.6"/>
<path d="M154.3 145.7 L144.6 141.5 L146.8 145.7 L144.6 149.9 Z" fill="#000"/>
<line x1="263.4" y1="32.7" x2="289.5" y2="32.7" stroke="#000" stroke-width="1.6"/>
<path d="M297.8 32.7 L288.5 28.5 L290.7 32.7 L288.5 36.9 Z" fill="#000"/>
<line x1="263.4" y1="154.1" x2="289.5" y2="154.1" stroke="#000" stroke-width="1.6"/>
<path d="M297.8 154.1 L288.5 149.9 L290.7 154.1 L288.5 158.3 Z" fill="#000"/>
<line x1="221.4" y1="14.8" x2="221.4" y2="52.4" stroke="#8a8a8a" stroke-width="0.9"/>
<line x1="221.4" y1="52.4" x2="263.4" y2="52.4" stroke="#8a8a8a" stroke-width="0.9"/>
<line x1="222.3" y1="136.5" x2="222.3" y2="174" stroke="#8a8a8a" stroke-width="0.9"/>
<line x1="222.3" y1="174" x2="263.4" y2="174" stroke="#8a8a8a" stroke-width="0.9"/>
<line x1="352.6" y1="52.6" x2="352.6" y2="98.3" stroke="#8a8a8a" stroke-width="0.9"/>
<line x1="352.6" y1="52.6" x2="397.5" y2="52.6" stroke="#8a8a8a" stroke-width="0.9"/>
<line x1="352.8" y1="175.2" x2="352.8" y2="219.2" stroke="#8a8a8a" stroke-width="0.9"/>
<line x1="352.8" y1="175.2" x2="397.8" y2="175.2" stroke="#8a8a8a" stroke-width="0.9"/>
<line x1="461.2" y1="15.5" x2="461.2" y2="98.4" stroke="#8a8a8a" stroke-width="0.9"/>
<line x1="428.2" y1="63.2" x2="511.3" y2="63.2" stroke="#8a8a8a" stroke-width="0.9"/>
<line x1="462.1" y1="136.4" x2="462.1" y2="218.9" stroke="#8a8a8a" stroke-width="0.9"/>
<line x1="428.6" y1="181.9" x2="511.3" y2="181.9" stroke="#8a8a8a" stroke-width="0.9"/>
<text x="378.2" y="78.4" font-size="6.1" text-anchor="middle" font-weight="normal" font-style="normal" fill="#222" stroke="#222" stroke-width="0.13">LT-HSC</text>
<text x="378.6" y="85.8" font-size="6.5" text-anchor="middle" font-weight="normal" font-style="normal" fill="#222" stroke="#222" stroke-width="0.14">1.03%</text>
<text x="377.7" y="201.7" font-size="6.1" text-anchor="middle" font-weight="normal" font-style="normal" fill="#222" stroke="#222" stroke-width="0.13">LT-HSC</text>
<text x="377.7" y="209" font-size="6.5" text-anchor="middle" font-weight="normal" font-style="normal" fill="#222" stroke="#222" stroke-width="0.14">5.58%</text>
<text x="445.3" y="79.5" font-size="6.1" text-anchor="middle" font-weight="normal" font-style="normal" fill="#222" stroke="#222" stroke-width="0.13">LT-HSC</text>
<text x="445.4" y="86.9" font-size="6.5" text-anchor="middle" font-weight="normal" font-style="normal" fill="#222" stroke="#222" stroke-width="0.14">0.83%</text>
<text x="443.5" y="201.7" font-size="6.1" text-anchor="middle" font-weight="normal" font-style="normal" fill="#222" stroke="#222" stroke-width="0.13">LT-HSC</text>
<text x="443.4" y="208.6" font-size="6.5" text-anchor="middle" font-weight="normal" font-style="normal" fill="#222" stroke="#222" stroke-width="0.14">3.94%</text>
<text x="50.5" y="94.2" font-size="3.6" text-anchor="start" font-weight="normal" font-style="normal" fill="#555">2.25</text>
<text x="51.5" y="217.6" font-size="3.6" text-anchor="start" font-weight="normal" font-style="normal" fill="#555">1.55</text>
<text x="262.2" y="18.6" font-size="3.6" text-anchor="end" font-weight="normal" font-style="normal" fill="#555">0.43</text>
<text x="262.2" y="140.2" font-size="3.6" text-anchor="end" font-weight="normal" font-style="normal" fill="#555">2.47</text>
<text x="396.3" y="96.6" font-size="3.6" text-anchor="end" font-weight="normal" font-style="normal" fill="#555">1.03</text>
<text x="396.5" y="217.9" font-size="3.6" text-anchor="end" font-weight="normal" font-style="normal" fill="#555">5.58</text>
<text x="510.2" y="19" font-size="3.6" text-anchor="end" font-weight="normal" font-style="normal" fill="#555">60</text>
<text x="430.5" y="97" font-size="3.6" text-anchor="start" font-weight="normal" font-style="normal" fill="#555">0.65</text>
<text x="510" y="96.7" font-size="3.6" text-anchor="end" font-weight="normal" font-style="normal" fill="#555">15.6</text>
<text x="510" y="139.8" font-size="3.6" text-anchor="end" font-weight="normal" font-style="normal" fill="#555">72.4</text>
<text x="431" y="217" font-size="3.6" text-anchor="start" font-weight="normal" font-style="normal" fill="#555">0.34</text>
<text x="510" y="217" font-size="3.6" text-anchor="end" font-weight="normal" font-style="normal" fill="#555">6.32</text>
<text x="17.3" y="252.8" font-size="14.8" text-anchor="start" font-weight="bold" font-style="normal" fill="#000" stroke="#000" stroke-width="0.33">B</text>
<rect x="40.6" y="271" width="50.7" height="122.6" fill="none" stroke="#000" stroke-width="1"/>
<line x1="36.4" y1="393.9" x2="40.6" y2="393.9" stroke="#000" stroke-width="0.9"/>
<text x="36.2" y="396.07" font-size="6.2" text-anchor="end" font-weight="normal" font-style="normal" fill="#222" stroke="#222" stroke-width="0.14">0</text>
<line x1="36.4" y1="376.14" x2="40.6" y2="376.14" stroke="#000" stroke-width="0.9"/>
<text x="36.2" y="378.31" font-size="6.2" text-anchor="end" font-weight="normal" font-style="normal" fill="#222" stroke="#222" stroke-width="0.14">20</text>
<line x1="36.4" y1="358.38" x2="40.6" y2="358.38" stroke="#000" stroke-width="0.9"/>
<text x="36.2" y="360.55" font-size="6.2" text-anchor="end" font-weight="normal" font-style="normal" fill="#222" stroke="#222" stroke-width="0.14">40</text>
<line x1="36.4" y1="340.62" x2="40.6" y2="340.62" stroke="#000" stroke-width="0.9"/>
<text x="36.2" y="342.79" font-size="6.2" text-anchor="end" font-weight="normal" font-style="normal" fill="#222" stroke="#222" stroke-width="0.14">60</text>
<line x1="36.4" y1="322.86" x2="40.6" y2="322.86" stroke="#000" stroke-width="0.9"/>
<text x="36.2" y="325.03" font-size="6.2" text-anchor="end" font-weight="normal" font-style="normal" fill="#222" stroke="#222" stroke-width="0.14">80</text>
<line x1="36.4" y1="305.1" x2="40.6" y2="305.1" stroke="#000" stroke-width="0.9"/>
<text x="36.2" y="307.27" font-size="6.2" text-anchor="end" font-weight="normal" font-style="normal" fill="#222" stroke="#222" stroke-width="0.14">100</text>
<line x1="36.4" y1="287.34" x2="40.6" y2="287.34" stroke="#000" stroke-width="0.9"/>
<text x="36.2" y="289.51" font-size="6.2" text-anchor="end" font-weight="normal" font-style="normal" fill="#222" stroke="#222" stroke-width="0.14">120</text>
<line x1="58.9" y1="284.68" x2="58.9" y2="305.1" stroke="#000" stroke-width="0.9"/>
<line x1="56.3" y1="284.68" x2="61.5" y2="284.68" stroke="#000" stroke-width="1.1"/>
<rect x="51.1" y="305.1" width="15.6" height="88.5" fill="#000" stroke="none" stroke-width="1"/>
<line x1="73.7" y1="301.55" x2="73.7" y2="322.86" stroke="#000" stroke-width="0.9"/>
<line x1="71.1" y1="301.55" x2="76.3" y2="301.55" stroke="#000" stroke-width="1.1"/>
<rect x="67.2" y="323.36" width="13" height="69.74" fill="#b9b9b9" stroke="#000" stroke-width="1"/>
<text x="61.4" y="269.3" font-size="13" text-anchor="middle" font-weight="normal" font-style="normal" fill="#000" stroke="#000" stroke-width="0.29">Lin-</text>
<text x="22.9" y="332.4" font-size="6.4" text-anchor="middle" font-weight="normal" font-style="normal" fill="#222" transform="rotate(-90 22.9 332.4)" stroke="#222" stroke-width="0.14">% of wildtype</text>
<text x="60.3" y="400.3" font-size="6.6" text-anchor="middle" font-weight="normal" font-style="normal" fill="#111" stroke="#111" stroke-width="0.15">wt</text>
<text x="75.8" y="400.3" font-size="6.6" text-anchor="middle" font-weight="normal" font-style="normal" fill="#111" stroke="#111" stroke-width="0.15">KO</text>
<rect x="127" y="271" width="48.6" height="122.4" fill="none" stroke="#000" stroke-width="1"/>
<line x1="122.8" y1="393.5" x2="127" y2="393.5" stroke="#000" stroke-width="0.9"/>
<text x="120.2" y="395.6" font-size="6" text-anchor="end" font-weight="normal" font-style="normal" fill="#222" stroke="#222" stroke-width="0.13">0</text>
<line x1="122.8" y1="373.44" x2="127" y2="373.44" stroke="#000" stroke-width="0.9"/>
<text x="120.2" y="375.54" font-size="6" text-anchor="end" font-weight="normal" font-style="normal" fill="#222" stroke="#222" stroke-width="0.13">20</text>
<line x1="122.8" y1="353.38" x2="127" y2="353.38" stroke="#000" stroke-width="0.9"/>
<text x="120.2" y="355.48" font-size="6" text-anchor="end" font-weight="normal" font-style="normal" fill="#222" stroke="#222" stroke-width="0.13">40</text>
<line x1="122.8" y1="333.32" x2="127" y2="333.32" stroke="#000" stroke-width="0.9"/>
<text x="120.2" y="335.42" font-size="6" text-anchor="end" font-weight="normal" font-style="normal" fill="#222" stroke="#222" stroke-width="0.13">60</text>
<line x1="122.8" y1="313.26" x2="127" y2="313.26" stroke="#000" stroke-width="0.9"/>
<text x="120.2" y="315.36" font-size="6" text-anchor="end" font-weight="normal" font-style="normal" fill="#222" stroke="#222" stroke-width="0.13">80</text>
<line x1="122.8" y1="293.2" x2="127" y2="293.2" stroke="#000" stroke-width="0.9"/>
<text x="120.2" y="295.3" font-size="6" text-anchor="end" font-weight="normal" font-style="normal" fill="#222" stroke="#222" stroke-width="0.13">100</text>
<line x1="144.05" y1="283.17" x2="144.05" y2="293.2" stroke="#000" stroke-width="0.9"/>
<line x1="141.45" y1="283.17" x2="146.65" y2="283.17" stroke="#000" stroke-width="1.1"/>
<rect x="136.3" y="293.2" width="15.5" height="100.2" fill="#000" stroke="none" stroke-width="1"/>
<line x1="159.25" y1="343.35" x2="159.25" y2="353.38" stroke="#000" stroke-width="0.9"/>
<line x1="156.65" y1="343.35" x2="161.85" y2="343.35" stroke="#000" stroke-width="1.1"/>
<rect x="152.3" y="353.88" width="13.9" height="39.02" fill="#b9b9b9" stroke="#000" stroke-width="1"/>
<text x="156" y="269.3" font-size="13" text-anchor="middle" font-weight="normal" font-style="normal" fill="#000" stroke="#000" stroke-width="0.29">LSK</text>
<text x="108.8" y="331.5" font-size="6.4" text-anchor="middle" font-weight="normal" font-style="normal" fill="#222" transform="rotate(-90 108.8 331.5)" stroke="#222" stroke-width="0.14">% of wildtype</text>
<text x="142.5" y="400.3" font-size="6.6" text-anchor="middle" font-weight="normal" font-style="normal" fill="#111" stroke="#111" stroke-width="0.15">wt</text>
<text x="158.4" y="400.3" font-size="6.6" text-anchor="middle" font-weight="normal" font-style="normal" fill="#111" stroke="#111" stroke-width="0.15">KO</text>
<rect x="201.9" y="271" width="73.3" height="122.4" fill="none" stroke="#000" stroke-width="1"/>
<line x1="197.7" y1="393.4" x2="201.9" y2="393.4" stroke="#000" stroke-width="0.9"/>
<text x="198.5" y="395.46" font-size="5.9" text-anchor="end" font-weight="normal" font-style="normal" fill="#222" stroke="#222" stroke-width="0.13">0</text>
<line x1="197.7" y1="379.74" x2="201.9" y2="379.74" stroke="#000" stroke-width="0.9"/>
<text x="198.5" y="381.8" font-size="5.9" text-anchor="end" font-weight="normal" font-style="normal" fill="#222" stroke="#222" stroke-width="0.13">20</text>
<line x1="197.7" y1="366.08" x2="201.9" y2="366.08" stroke="#000" stroke-width="0.9"/>
<text x="198.5" y="368.14" font-size="5.9" text-anchor="end" font-weight="normal" font-style="normal" fill="#222" stroke="#222" stroke-width="0.13">40</text>
<line x1="197.7" y1="352.42" x2="201.9" y2="352.42" stroke="#000" stroke-width="0.9"/>
<text x="198.5" y="354.48" font-size="5.9" text-anchor="end" font-weight="normal" font-style="normal" fill="#222" stroke="#222" stroke-width="0.13">60</text>
<line x1="197.7" y1="338.76" x2="201.9" y2="338.76" stroke="#000" stroke-width="0.9"/>
<text x="198.5" y="340.82" font-size="5.9" text-anchor="end" font-weight="normal" font-style="normal" fill="#222" stroke="#222" stroke-width="0.13">80</text>
<line x1="197.7" y1="325.1" x2="201.9" y2="325.1" stroke="#000" stroke-width="0.9"/>
<text x="198.5" y="327.16" font-size="5.9" text-anchor="end" font-weight="normal" font-style="normal" fill="#222" stroke="#222" stroke-width="0.13">100</text>
<line x1="214.1" y1="315.54" x2="214.1" y2="325.1" stroke="#000" stroke-width="0.9"/>
<line x1="211.5" y1="315.54" x2="216.7" y2="315.54" stroke="#000" stroke-width="1.1"/>
<rect x="206.6" y="325.1" width="15" height="68.3" fill="#000" stroke="none" stroke-width="1"/>
<line x1="229.2" y1="379.74" x2="229.2" y2="387.25" stroke="#000" stroke-width="0.9"/>
<line x1="226.6" y1="379.74" x2="231.8" y2="379.74" stroke="#000" stroke-width="1.1"/>
<rect x="222.1" y="387.75" width="14.2" height="5.15" fill="#b9b9b9" stroke="#000" stroke-width="1"/>
<line x1="248.7" y1="311.44" x2="248.7" y2="325.1" stroke="#000" stroke-width="0.9"/>
<line x1="246.1" y1="311.44" x2="251.3" y2="311.44" stroke="#000" stroke-width="1.1"/>
<rect x="241.2" y="325.1" width="15" height="68.3" fill="#000" stroke="none" stroke-width="1"/>
<line x1="263.65" y1="379.74" x2="263.65" y2="387.25" stroke="#000" stroke-width="0.9"/>
<line x1="261.05" y1="379.74" x2="266.25" y2="379.74" stroke="#000" stroke-width="1.1"/>
<rect x="256.7" y="387.75" width="13.9" height="5.15" fill="#b9b9b9" stroke="#000" stroke-width="1"/>
<text x="239.2" y="269.3" font-size="13" text-anchor="middle" font-weight="normal" font-style="normal" fill="#000" stroke="#000" stroke-width="0.29">LT-LSK</text>
<text x="186.8" y="333.3" font-size="6.4" text-anchor="middle" font-weight="normal" font-style="normal" fill="#222" transform="rotate(-90 186.8 333.3)" stroke="#222" stroke-width="0.14">% of wildtype</text>
<text x="212.9" y="400.3" font-size="6.6" text-anchor="middle" font-weight="normal" font-style="normal" fill="#111" stroke="#111" stroke-width="0.15">wt</text>
<text x="228.8" y="400.3" font-size="6.6" text-anchor="middle" font-weight="normal" font-style="normal" fill="#111" stroke="#111" stroke-width="0.15">KO</text>
<text x="248.9" y="400.3" font-size="6.6" text-anchor="middle" font-weight="normal" font-style="normal" fill="#111" stroke="#111" stroke-width="0.15">wt</text>
<text x="263.5" y="400.3" font-size="6.6" text-anchor="middle" font-weight="normal" font-style="normal" fill="#111" stroke="#111" stroke-width="0.15">KO</text>
<text x="222" y="296.2" font-size="6.2" text-anchor="middle" font-weight="normal" font-style="normal" fill="#222" stroke="#222" stroke-width="0.14">CD150+</text>
<text x="222" y="303.6" font-size="6.2" text-anchor="middle" font-weight="normal" font-style="normal" fill="#222" stroke="#222" stroke-width="0.14">CD48-</text>
<text x="258.2" y="296.2" font-size="6.2" text-anchor="middle" font-weight="normal" font-style="normal" fill="#222" stroke="#222" stroke-width="0.14">CD135-</text>
<text x="258.2" y="303.6" font-size="6.2" text-anchor="middle" font-weight="normal" font-style="normal" fill="#222" stroke="#222" stroke-width="0.14">CD34-</text>
<rect x="300.9" y="271" width="50.1" height="122.4" fill="none" stroke="#000" stroke-width="1"/>
<line x1="296.7" y1="393.2" x2="300.9" y2="393.2" stroke="#000" stroke-width="0.9"/>
<text x="296.3" y="395.3" font-size="6" text-anchor="end" font-weight="normal" font-style="normal" fill="#222" stroke="#222" stroke-width="0.13">0</text>
<line x1="296.7" y1="372.88" x2="300.9" y2="372.88" stroke="#000" stroke-width="0.9"/>
<text x="296.3" y="374.98" font-size="6" text-anchor="end" font-weight="normal" font-style="normal" fill="#222" stroke="#222" stroke-width="0.13">20</text>
<line x1="296.7" y1="352.56" x2="300.9" y2="352.56" stroke="#000" stroke-width="0.9"/>
<text x="296.3" y="354.66" font-size="6" text-anchor="end" font-weight="normal" font-style="normal" fill="#222" stroke="#222" stroke-width="0.13">40</text>
<line x1="296.7" y1="332.24" x2="300.9" y2="332.24" stroke="#000" stroke-width="0.9"/>
<text x="296.3" y="334.34" font-size="6" text-anchor="end" font-weight="normal" font-style="normal" fill="#222" stroke="#222" stroke-width="0.13">60</text>
<line x1="296.7" y1="311.92" x2="300.9" y2="311.92" stroke="#000" stroke-width="0.9"/>
<text x="296.3" y="314.02" font-size="6" text-anchor="end" font-weight="normal" font-style="normal" fill="#222" stroke="#222" stroke-width="0.13">80</text>
<line x1="296.7" y1="291.6" x2="300.9" y2="291.6" stroke="#000" stroke-width="0.9"/>
<text x="296.3" y="293.7" font-size="6" text-anchor="end" font-weight="normal" font-style="normal" fill="#222" stroke="#222" stroke-width="0.13">100</text>
<line x1="296.7" y1="271.28" x2="300.9" y2="271.28" stroke="#000" stroke-width="0.9"/>
<text x="296.3" y="273.38" font-size="6" text-anchor="end" font-weight="normal" font-style="normal" fill="#222" stroke="#222" stroke-width="0.13">120</text>
<line x1="318.95" y1="271.5" x2="318.95" y2="291.6" stroke="#000" stroke-width="0.9"/>
<line x1="316.35" y1="271.5" x2="321.55" y2="271.5" stroke="#000" stroke-width="1.1"/>
<rect x="311.2" y="291.6" width="15.5" height="101.8" fill="#000" stroke="none" stroke-width="1"/>
<line x1="333.85" y1="271.79" x2="333.85" y2="280.42" stroke="#000" stroke-width="0.9"/>
<line x1="331.25" y1="271.79" x2="336.45" y2="271.79" stroke="#000" stroke-width="1.1"/>
<rect x="327.2" y="280.92" width="13.3" height="111.98" fill="#b9b9b9" stroke="#000" stroke-width="1"/>
<text x="329.4" y="269.3" font-size="13" text-anchor="middle" font-weight="normal" font-style="normal" fill="#000" stroke="#000" stroke-width="0.29">CMP</text>
<text x="284.4" y="332.3" font-size="6.4" text-anchor="middle" font-weight="normal" font-style="normal" fill="#222" transform="rotate(-90 284.4 332.3)" stroke="#222" stroke-width="0.14">% of wildtype</text>
<text x="318.3" y="400.3" font-size="6.6" text-anchor="middle" font-weight="normal" font-style="normal" fill="#111" stroke="#111" stroke-width="0.15">wt</text>
<text x="334" y="400.3" font-size="6.6" text-anchor="middle" font-weight="normal" font-style="normal" fill="#111" stroke="#111" stroke-width="0.15">KO</text>
<rect x="381.4" y="271" width="49.8" height="122.4" fill="none" stroke="#000" stroke-width="1"/>
<line x1="377.2" y1="393.3" x2="381.4" y2="393.3" stroke="#000" stroke-width="0.9"/>
<text x="376.8" y="395.47" font-size="6.2" text-anchor="end" font-weight="normal" font-style="normal" fill="#222" stroke="#222" stroke-width="0.14">0</text>
<line x1="377.2" y1="371.08" x2="381.4" y2="371.08" stroke="#000" stroke-width="0.9"/>
<text x="376.8" y="373.25" font-size="6.2" text-anchor="end" font-weight="normal" font-style="normal" fill="#222" stroke="#222" stroke-width="0.14">20</text>
<line x1="377.2" y1="348.86" x2="381.4" y2="348.86" stroke="#000" stroke-width="0.9"/>
<text x="376.8" y="351.03" font-size="6.2" text-anchor="end" font-weight="normal" font-style="normal" fill="#222" stroke="#222" stroke-width="0.14">40</text>
<line x1="377.2" y1="326.64" x2="381.4" y2="326.64" stroke="#000" stroke-width="0.9"/>
<text x="376.8" y="328.81" font-size="6.2" text-anchor="end" font-weight="normal" font-style="normal" fill="#222" stroke="#222" stroke-width="0.14">60</text>
<line x1="377.2" y1="304.42" x2="381.4" y2="304.42" stroke="#000" stroke-width="0.9"/>
<text x="376.8" y="306.59" font-size="6.2" text-anchor="end" font-weight="normal" font-style="normal" fill="#222" stroke="#222" stroke-width="0.14">80</text>
<line x1="377.2" y1="282.2" x2="381.4" y2="282.2" stroke="#000" stroke-width="0.9"/>
<text x="376.8" y="284.37" font-size="6.2" text-anchor="end" font-weight="normal" font-style="normal" fill="#222" stroke="#222" stroke-width="0.14">100</text>
<line x1="399.7" y1="273.31" x2="399.7" y2="282.2" stroke="#000" stroke-width="0.9"/>
<line x1="397.1" y1="273.31" x2="402.3" y2="273.31" stroke="#000" stroke-width="1.1"/>
<rect x="392.2" y="282.2" width="15" height="111.2" fill="#000" stroke="none" stroke-width="1"/>
<line x1="414.35" y1="271.65" x2="414.35" y2="276.87" stroke="#000" stroke-width="0.9"/>
<line x1="411.75" y1="271.65" x2="416.95" y2="271.65" stroke="#000" stroke-width="1.1"/>
<rect x="407.7" y="277.37" width="13.3" height="115.53" fill="#b9b9b9" stroke="#000" stroke-width="1"/>
<text x="408.7" y="269.3" font-size="13" text-anchor="middle" font-weight="normal" font-style="normal" fill="#000" stroke="#000" stroke-width="0.29">CLP</text>
<text x="363" y="330.5" font-size="6.7" text-anchor="middle" font-weight="normal" font-style="normal" fill="#222" transform="rotate(-90 363 330.5)" stroke="#222" stroke-width="0.15">% of wildtype</text>
<text x="401.1" y="400.3" font-size="6.6" text-anchor="middle" font-weight="normal" font-style="normal" fill="#111" stroke="#111" stroke-width="0.15">wt</text>
<text x="416.6" y="400.3" font-size="6.6" text-anchor="middle" font-weight="normal" font-style="normal" fill="#111" stroke="#111" stroke-width="0.15">KO</text>
<rect x="461.3" y="271" width="50.3" height="122.4" fill="none" stroke="#000" stroke-width="1"/>
<line x1="457.1" y1="393.4" x2="461.3" y2="393.4" stroke="#000" stroke-width="0.9"/>
<text x="456.9" y="395.78" font-size="6.8" text-anchor="end" font-weight="normal" font-style="normal" fill="#222" stroke="#222" stroke-width="0.15">0</text>
<line x1="457.1" y1="347.65" x2="461.3" y2="347.65" stroke="#000" stroke-width="0.9"/>
<text x="456.9" y="350.03" font-size="6.8" text-anchor="end" font-weight="normal" font-style="normal" fill="#222" stroke="#222" stroke-width="0.15">100</text>
<line x1="457.1" y1="301.9" x2="461.3" y2="301.9" stroke="#000" stroke-width="0.9"/>
<text x="456.9" y="304.28" font-size="6.8" text-anchor="end" font-weight="normal" font-style="normal" fill="#222" stroke="#222" stroke-width="0.15">200</text>
<line x1="479.15" y1="336.21" x2="479.15" y2="347.65" stroke="#000" stroke-width="0.9"/>
<line x1="476.55" y1="336.21" x2="481.75" y2="336.21" stroke="#000" stroke-width="1.1"/>
<rect x="471.6" y="347.65" width="15.1" height="45.75" fill="#000" stroke="none" stroke-width="1"/>
<line x1="493.85" y1="271.7" x2="493.85" y2="284.06" stroke="#000" stroke-width="0.9"/>
<line x1="491.25" y1="271.7" x2="496.45" y2="271.7" stroke="#000" stroke-width="1.1"/>
<rect x="487.2" y="284.56" width="13.3" height="108.34" fill="#b9b9b9" stroke="#000" stroke-width="1"/>
<text x="485.4" y="269.3" font-size="13" text-anchor="middle" font-weight="normal" font-style="normal" fill="#000" stroke="#000" stroke-width="0.29">GMP</text>
<text x="443.2" y="330.4" font-size="6.6" text-anchor="middle" font-weight="normal" font-style="normal" fill="#222" transform="rotate(-90 443.2 330.4)" stroke="#222" stroke-width="0.15">% of wildtype</text>
<text x="480.8" y="400.3" font-size="6.6" text-anchor="middle" font-weight="normal" font-style="normal" fill="#111" stroke="#111" stroke-width="0.15">wt</text>
<text x="496" y="400.3" font-size="6.6" text-anchor="middle" font-weight="normal" font-style="normal" fill="#111" stroke="#111" stroke-width="0.15">KO</text>
</svg></body></html>
